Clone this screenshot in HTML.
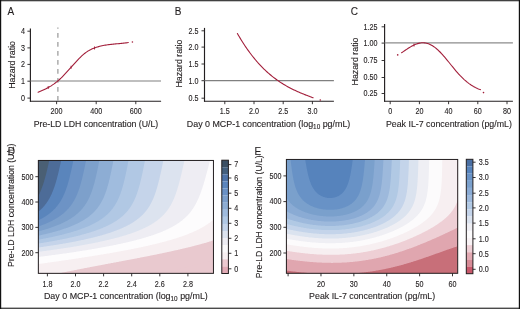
<!DOCTYPE html>
<html><head><meta charset="utf-8"><style>
html,body{margin:0;padding:0;background:#fff;}
body{width:520px;height:309px;overflow:hidden;}
svg{display:block;will-change:transform;}
text{font-family:'Liberation Sans',sans-serif;fill:#231f20;stroke:#231f20;stroke-width:0.12px;}
</style></head><body>
<svg width="520" height="309" viewBox="0 0 520 309">
<rect x="0" y="0" width="520" height="309" fill="#ffffff"/>
<text x="7.40" y="15.00" font-size="10.00">A</text>
<line x1="30.40" y1="28.50" x2="30.40" y2="101.70" stroke="#231f20" stroke-width="1.15"/>
<line x1="29.90" y1="101.20" x2="161.10" y2="101.20" stroke="#231f20" stroke-width="1.15"/>
<line x1="27.40" y1="98.10" x2="30.40" y2="98.10" stroke="#231f20" stroke-width="0.90"/>
<text x="25.00" y="100.95" font-size="8.20" text-anchor="end" textLength="4.0" lengthAdjust="spacingAndGlyphs">0</text>
<line x1="27.40" y1="81.20" x2="30.40" y2="81.20" stroke="#231f20" stroke-width="0.90"/>
<text x="25.00" y="84.05" font-size="8.20" text-anchor="end" textLength="4.0" lengthAdjust="spacingAndGlyphs">1</text>
<line x1="27.40" y1="64.40" x2="30.40" y2="64.40" stroke="#231f20" stroke-width="0.90"/>
<text x="25.00" y="67.25" font-size="8.20" text-anchor="end" textLength="4.0" lengthAdjust="spacingAndGlyphs">2</text>
<line x1="27.40" y1="47.90" x2="30.40" y2="47.90" stroke="#231f20" stroke-width="0.90"/>
<text x="25.00" y="50.75" font-size="8.20" text-anchor="end" textLength="4.0" lengthAdjust="spacingAndGlyphs">3</text>
<line x1="27.40" y1="31.20" x2="30.40" y2="31.20" stroke="#231f20" stroke-width="0.90"/>
<text x="25.00" y="34.05" font-size="8.20" text-anchor="end" textLength="4.0" lengthAdjust="spacingAndGlyphs">4</text>
<line x1="56.60" y1="101.20" x2="56.60" y2="104.20" stroke="#231f20" stroke-width="0.90"/>
<text x="56.60" y="113.80" font-size="8.20" text-anchor="middle" textLength="12.0" lengthAdjust="spacingAndGlyphs">200</text>
<line x1="96.20" y1="101.20" x2="96.20" y2="104.20" stroke="#231f20" stroke-width="0.90"/>
<text x="96.20" y="113.80" font-size="8.20" text-anchor="middle" textLength="12.0" lengthAdjust="spacingAndGlyphs">400</text>
<line x1="135.80" y1="101.20" x2="135.80" y2="104.20" stroke="#231f20" stroke-width="0.90"/>
<text x="135.80" y="113.80" font-size="8.20" text-anchor="middle" textLength="12.0" lengthAdjust="spacingAndGlyphs">600</text>
<line x1="30.40" y1="81.00" x2="161.00" y2="81.00" stroke="#808080" stroke-width="1.15"/>
<line x1="57.90" y1="27.60" x2="57.90" y2="101.00" stroke="#8f8f8f" stroke-width="1.10" stroke-dasharray="4.7 4.3" stroke-dashoffset="3.5"/>
<path d="M38.10 92.29 L39.24 91.80 L40.38 91.30 L41.53 90.79 L42.67 90.28 L43.81 89.75 L44.95 89.20 L46.09 88.64 L47.23 88.05 L48.38 87.43 L49.52 86.79 L50.66 86.12 L51.80 85.41 L52.94 84.66 L54.08 83.88 L55.23 83.04 L56.37 82.17 L57.51 81.24 L58.65 80.26 L59.79 79.23 L60.94 78.15 L62.08 77.03 L63.22 75.88 L64.36 74.69 L65.50 73.48 L66.64 72.24 L67.79 70.98 L68.93 69.71 L70.07 68.43 L71.21 67.14 L72.35 65.85 L73.49 64.57 L74.64 63.30 L75.78 62.04 L76.92 60.80 L78.06 59.59 L79.20 58.41 L80.35 57.27 L81.49 56.18 L82.63 55.13 L83.77 54.14 L84.91 53.22 L86.05 52.37 L87.20 51.59 L88.34 50.88 L89.48 50.23 L90.62 49.63 L91.76 49.09 L92.91 48.60 L94.05 48.14 L95.19 47.72 L96.33 47.33 L97.47 46.97 L98.61 46.64 L99.76 46.33 L100.90 46.05 L102.04 45.79 L103.18 45.55 L104.32 45.33 L105.46 45.13 L106.61 44.94 L107.75 44.78 L108.89 44.62 L110.03 44.48 L111.17 44.35 L112.32 44.22 L113.46 44.11 L114.60 44.00 L115.74 43.89 L116.88 43.79 L118.02 43.69 L119.17 43.59 L120.31 43.49 L121.45 43.38 L122.59 43.27 L123.73 43.15 L124.87 43.02 L126.02 42.88 L127.16 42.74 L128.30 42.58" fill="none" stroke="#a21e3a" stroke-width="1.10" stroke-linejoin="round" stroke-linecap="round"/>
<circle cx="132.40" cy="42.00" r="0.80" fill="#a21e3a"/>
<line x1="48.20" y1="86.03" x2="48.20" y2="89.03" stroke="#a21e3a" stroke-width="0.90"/>
<line x1="71.10" y1="65.77" x2="71.10" y2="68.77" stroke="#a21e3a" stroke-width="0.90"/>
<line x1="94.50" y1="46.47" x2="94.50" y2="49.47" stroke="#a21e3a" stroke-width="0.90"/>
<text x="33.70" y="127.20" font-size="9.20" textLength="124.6" lengthAdjust="spacingAndGlyphs">Pre-LD LDH concentration (U/L)</text>
<text transform="translate(14.60 64.90) rotate(-90)" x="0" y="0" font-size="9.20" text-anchor="middle" textLength="47.8" lengthAdjust="spacingAndGlyphs">Hazard ratio</text>
<text x="174.80" y="15.00" font-size="10.00">B</text>
<line x1="204.50" y1="27.90" x2="204.50" y2="101.70" stroke="#231f20" stroke-width="1.15"/>
<line x1="204.00" y1="101.20" x2="333.90" y2="101.20" stroke="#231f20" stroke-width="1.15"/>
<line x1="201.50" y1="98.20" x2="204.50" y2="98.20" stroke="#231f20" stroke-width="0.90"/>
<text x="198.60" y="101.05" font-size="8.20" text-anchor="end" textLength="10.0" lengthAdjust="spacingAndGlyphs">0.5</text>
<line x1="201.50" y1="80.70" x2="204.50" y2="80.70" stroke="#231f20" stroke-width="0.90"/>
<text x="198.60" y="83.55" font-size="8.20" text-anchor="end" textLength="10.0" lengthAdjust="spacingAndGlyphs">1.0</text>
<line x1="201.50" y1="64.00" x2="204.50" y2="64.00" stroke="#231f20" stroke-width="0.90"/>
<text x="198.60" y="66.85" font-size="8.20" text-anchor="end" textLength="10.0" lengthAdjust="spacingAndGlyphs">1.5</text>
<line x1="201.50" y1="47.10" x2="204.50" y2="47.10" stroke="#231f20" stroke-width="0.90"/>
<text x="198.60" y="49.95" font-size="8.20" text-anchor="end" textLength="10.0" lengthAdjust="spacingAndGlyphs">2.0</text>
<line x1="201.50" y1="30.80" x2="204.50" y2="30.80" stroke="#231f20" stroke-width="0.90"/>
<text x="198.60" y="33.65" font-size="8.20" text-anchor="end" textLength="10.0" lengthAdjust="spacingAndGlyphs">2.5</text>
<line x1="224.80" y1="101.20" x2="224.80" y2="104.20" stroke="#231f20" stroke-width="0.90"/>
<text x="224.80" y="113.80" font-size="8.20" text-anchor="middle" textLength="10.0" lengthAdjust="spacingAndGlyphs">1.5</text>
<line x1="254.00" y1="101.20" x2="254.00" y2="104.20" stroke="#231f20" stroke-width="0.90"/>
<text x="254.00" y="113.80" font-size="8.20" text-anchor="middle" textLength="10.0" lengthAdjust="spacingAndGlyphs">2.0</text>
<line x1="283.20" y1="101.20" x2="283.20" y2="104.20" stroke="#231f20" stroke-width="0.90"/>
<text x="283.20" y="113.80" font-size="8.20" text-anchor="middle" textLength="10.0" lengthAdjust="spacingAndGlyphs">2.5</text>
<line x1="312.40" y1="101.20" x2="312.40" y2="104.20" stroke="#231f20" stroke-width="0.90"/>
<text x="312.40" y="113.80" font-size="8.20" text-anchor="middle" textLength="10.0" lengthAdjust="spacingAndGlyphs">3.0</text>
<line x1="204.50" y1="80.60" x2="333.90" y2="80.60" stroke="#808080" stroke-width="1.15"/>
<path d="M237.40 33.49 L238.36 35.16 L239.32 36.79 L240.27 38.39 L241.23 39.96 L242.19 41.50 L243.15 43.01 L244.11 44.49 L245.07 45.94 L246.02 47.35 L246.98 48.74 L247.94 50.10 L248.90 51.44 L249.86 52.74 L250.82 54.02 L251.77 55.27 L252.73 56.50 L253.69 57.70 L254.65 58.87 L255.61 60.02 L256.56 61.14 L257.52 62.24 L258.48 63.31 L259.44 64.36 L260.40 65.39 L261.36 66.40 L262.31 67.38 L263.27 68.34 L264.23 69.28 L265.19 70.20 L266.15 71.10 L267.11 71.97 L268.06 72.83 L269.02 73.67 L269.98 74.49 L270.94 75.29 L271.90 76.07 L272.85 76.83 L273.81 77.58 L274.77 78.31 L275.73 79.02 L276.69 79.72 L277.65 80.40 L278.60 81.07 L279.56 81.72 L280.52 82.35 L281.48 82.97 L282.44 83.58 L283.39 84.17 L284.35 84.75 L285.31 85.32 L286.27 85.87 L287.23 86.41 L288.19 86.94 L289.14 87.46 L290.10 87.97 L291.06 88.46 L292.02 88.95 L292.98 89.43 L293.94 89.89 L294.89 90.35 L295.85 90.80 L296.81 91.24 L297.77 91.67 L298.73 92.09 L299.68 92.51 L300.64 92.92 L301.60 93.32 L302.56 93.72 L303.52 94.11 L304.48 94.49 L305.43 94.87 L306.39 95.24 L307.35 95.61 L308.31 95.98 L309.27 96.34 L310.23 96.70 L311.18 97.06 L312.14 97.41 L313.10 97.76" fill="none" stroke="#a21e3a" stroke-width="1.10" stroke-linejoin="round" stroke-linecap="round"/>
<circle cx="320.30" cy="100.00" r="0.80" fill="#a21e3a"/>
<text transform="translate(186.80 127.20) scale(0.9667 1)" x="0" y="0" font-size="9.20">Day 0 MCP-1 concentration (log<tspan font-size="6.60" dy="1.9">10</tspan><tspan dy="-1.9"> pg/mL)</tspan></text>
<text transform="translate(181.60 63.60) rotate(-90)" x="0" y="0" font-size="9.20" text-anchor="middle" textLength="47.8" lengthAdjust="spacingAndGlyphs">Hazard ratio</text>
<text x="350.70" y="15.00" font-size="10.00">C</text>
<line x1="384.60" y1="24.10" x2="384.60" y2="101.70" stroke="#231f20" stroke-width="1.15"/>
<line x1="384.10" y1="101.20" x2="512.90" y2="101.20" stroke="#231f20" stroke-width="1.15"/>
<line x1="381.60" y1="93.50" x2="384.60" y2="93.50" stroke="#231f20" stroke-width="0.90"/>
<text x="377.60" y="96.35" font-size="8.20" text-anchor="end" textLength="14.0" lengthAdjust="spacingAndGlyphs">0.25</text>
<line x1="381.60" y1="77.50" x2="384.60" y2="77.50" stroke="#231f20" stroke-width="0.90"/>
<text x="377.60" y="80.35" font-size="8.20" text-anchor="end" textLength="14.0" lengthAdjust="spacingAndGlyphs">0.50</text>
<line x1="381.60" y1="60.50" x2="384.60" y2="60.50" stroke="#231f20" stroke-width="0.90"/>
<text x="377.60" y="63.35" font-size="8.20" text-anchor="end" textLength="14.0" lengthAdjust="spacingAndGlyphs">0.75</text>
<line x1="381.60" y1="43.10" x2="384.60" y2="43.10" stroke="#231f20" stroke-width="0.90"/>
<text x="377.60" y="45.95" font-size="8.20" text-anchor="end" textLength="14.0" lengthAdjust="spacingAndGlyphs">1.00</text>
<line x1="381.60" y1="26.80" x2="384.60" y2="26.80" stroke="#231f20" stroke-width="0.90"/>
<text x="377.60" y="29.65" font-size="8.20" text-anchor="end" textLength="14.0" lengthAdjust="spacingAndGlyphs">1.25</text>
<line x1="390.20" y1="101.20" x2="390.20" y2="104.20" stroke="#231f20" stroke-width="0.90"/>
<text x="390.20" y="113.80" font-size="8.20" text-anchor="middle" textLength="4.0" lengthAdjust="spacingAndGlyphs">0</text>
<line x1="419.40" y1="101.20" x2="419.40" y2="104.20" stroke="#231f20" stroke-width="0.90"/>
<text x="419.40" y="113.80" font-size="8.20" text-anchor="middle" textLength="8.0" lengthAdjust="spacingAndGlyphs">20</text>
<line x1="448.60" y1="101.20" x2="448.60" y2="104.20" stroke="#231f20" stroke-width="0.90"/>
<text x="448.60" y="113.80" font-size="8.20" text-anchor="middle" textLength="8.0" lengthAdjust="spacingAndGlyphs">40</text>
<line x1="477.80" y1="101.20" x2="477.80" y2="104.20" stroke="#231f20" stroke-width="0.90"/>
<text x="477.80" y="113.80" font-size="8.20" text-anchor="middle" textLength="8.0" lengthAdjust="spacingAndGlyphs">60</text>
<line x1="507.00" y1="101.20" x2="507.00" y2="104.20" stroke="#231f20" stroke-width="0.90"/>
<text x="507.00" y="113.80" font-size="8.20" text-anchor="middle" textLength="8.0" lengthAdjust="spacingAndGlyphs">80</text>
<line x1="384.60" y1="42.90" x2="512.90" y2="42.90" stroke="#8c8c8c" stroke-width="1.15"/>
<path d="M401.60 52.79 L402.60 52.09 L403.59 51.40 L404.59 50.71 L405.59 50.02 L406.59 49.35 L407.58 48.70 L408.58 48.06 L409.58 47.44 L410.58 46.85 L411.57 46.28 L412.57 45.74 L413.57 45.24 L414.57 44.78 L415.56 44.35 L416.56 43.97 L417.56 43.63 L418.56 43.35 L419.55 43.11 L420.55 42.94 L421.55 42.82 L422.55 42.76 L423.54 42.77 L424.54 42.84 L425.54 42.99 L426.54 43.20 L427.53 43.47 L428.53 43.81 L429.53 44.22 L430.53 44.68 L431.52 45.21 L432.52 45.80 L433.52 46.44 L434.52 47.15 L435.51 47.91 L436.51 48.73 L437.51 49.60 L438.51 50.52 L439.50 51.49 L440.50 52.51 L441.50 53.57 L442.50 54.66 L443.49 55.79 L444.49 56.95 L445.49 58.13 L446.49 59.33 L447.48 60.54 L448.48 61.77 L449.48 63.01 L450.48 64.25 L451.47 65.48 L452.47 66.72 L453.47 67.94 L454.47 69.16 L455.46 70.35 L456.46 71.53 L457.46 72.68 L458.46 73.80 L459.45 74.89 L460.45 75.95 L461.45 76.96 L462.45 77.95 L463.44 78.89 L464.44 79.81 L465.44 80.68 L466.44 81.53 L467.43 82.33 L468.43 83.10 L469.43 83.84 L470.43 84.54 L471.42 85.21 L472.42 85.84 L473.42 86.43 L474.42 86.99 L475.41 87.52 L476.41 88.01 L477.41 88.47 L478.41 88.89 L479.40 89.27 L480.40 89.62" fill="none" stroke="#a21e3a" stroke-width="1.10" stroke-linejoin="round" stroke-linecap="round"/>
<circle cx="397.70" cy="54.90" r="0.80" fill="#a21e3a"/>
<circle cx="483.50" cy="92.60" r="0.80" fill="#a21e3a"/>
<line x1="414.00" y1="43.54" x2="414.00" y2="46.54" stroke="#a21e3a" stroke-width="0.90"/>
<text x="385.90" y="127.20" font-size="9.20" textLength="126.0" lengthAdjust="spacingAndGlyphs">Peak IL-7 concentration (pg/mL)</text>
<text transform="translate(358.40 61.50) rotate(-90)" x="0" y="0" font-size="9.20" text-anchor="middle" textLength="47.8" lengthAdjust="spacingAndGlyphs">Hazard ratio</text>
<g>
<rect x="38.4" y="160.4" width="175.1" height="112.9" fill="#e9c9cf"/>
<path d="M39.0 160.4L39.7 160.4L40.4 160.4L41.1 160.4L41.7 160.4L42.4 160.4L43.1 160.4L43.8 160.4L44.4 160.4L45.1 160.4L45.8 160.4L46.5 160.4L47.1 160.4L47.8 160.4L48.5 160.4L49.2 160.4L49.8 160.4L50.5 160.4L51.2 160.4L51.9 160.4L52.5 160.4L53.2 160.4L53.9 160.4L54.6 160.4L55.3 160.4L55.9 160.4L56.6 160.4L57.3 160.4L58.0 160.4L58.6 160.4L59.3 160.4L60.0 160.4L60.7 160.4L61.3 160.4L62.0 160.4L62.7 160.4L63.4 160.4L64.0 160.4L64.7 160.4L65.4 160.4L66.1 160.4L66.7 160.4L67.4 160.4L68.1 160.4L68.8 160.4L69.4 160.4L70.1 160.4L70.8 160.4L71.5 160.4L72.2 160.4L72.8 160.4L73.5 160.4L74.2 160.4L74.9 160.4L75.5 160.4L76.2 160.4L76.9 160.4L77.6 160.4L78.2 160.4L78.9 160.4L79.6 160.4L80.3 160.4L80.9 160.4L81.6 160.4L82.3 160.4L83.0 160.4L83.6 160.4L84.3 160.4L85.0 160.4L85.7 160.4L86.4 160.4L87.0 160.4L87.7 160.4L88.4 160.4L89.1 160.4L89.7 160.4L90.4 160.4L91.1 160.4L91.8 160.4L92.4 160.4L93.1 160.4L93.8 160.4L94.5 160.4L95.1 160.4L95.8 160.4L96.5 160.4L97.2 160.4L97.8 160.4L98.5 160.4L99.2 160.4L99.9 160.4L100.5 160.4L101.2 160.4L101.9 160.4L102.6 160.4L103.3 160.4L103.9 160.4L104.6 160.4L105.3 160.4L106.0 160.4L106.6 160.4L107.3 160.4L108.0 160.4L108.7 160.4L109.3 160.4L110.0 160.4L110.7 160.4L111.4 160.4L112.0 160.4L112.7 160.4L113.4 160.4L114.1 160.4L114.7 160.4L115.4 160.4L116.1 160.4L116.8 160.4L117.4 160.4L118.1 160.4L118.8 160.4L119.5 160.4L120.2 160.4L120.8 160.4L121.5 160.4L122.2 160.4L122.9 160.4L123.5 160.4L124.2 160.4L124.9 160.4L125.6 160.4L126.2 160.4L126.9 160.4L127.6 160.4L128.3 160.4L128.9 160.4L129.6 160.4L130.3 160.4L131.0 160.4L131.6 160.4L132.3 160.4L133.0 160.4L133.7 160.4L134.4 160.4L135.0 160.4L135.7 160.4L136.4 160.4L137.1 160.4L137.7 160.4L138.4 160.4L139.1 160.4L139.8 160.4L140.4 160.4L141.1 160.4L141.8 160.4L142.5 160.4L143.1 160.4L143.8 160.4L144.5 160.4L145.2 160.4L145.8 160.4L146.5 160.4L147.2 160.4L147.9 160.4L148.5 160.4L149.2 160.4L149.9 160.4L150.6 160.4L151.3 160.4L151.9 160.4L152.6 160.4L153.3 160.4L154.0 160.4L154.6 160.4L155.3 160.4L156.0 160.4L156.7 160.4L157.3 160.4L158.0 160.4L158.7 160.4L159.4 160.4L160.0 160.4L160.7 160.4L161.4 160.4L162.1 160.4L162.7 160.4L163.4 160.4L164.1 160.4L164.8 160.4L165.4 160.4L166.1 160.4L166.8 160.4L167.5 160.4L168.2 160.4L168.8 160.4L169.5 160.4L170.2 160.4L170.9 160.4L171.5 160.4L172.2 160.4L172.9 160.4L173.6 160.4L174.2 160.4L174.9 160.4L175.6 160.4L176.3 160.4L176.9 160.4L177.6 160.4L178.3 160.4L179.0 160.4L179.6 160.4L180.3 160.4L181.0 160.4L181.7 160.4L182.4 160.4L183.0 160.4L183.7 160.4L184.4 160.4L185.1 160.4L185.7 160.4L186.4 160.4L187.1 160.4L187.8 160.4L188.4 160.4L189.1 160.4L189.8 160.4L190.5 160.4L191.1 160.4L191.8 160.4L192.5 160.4L193.2 160.4L193.8 160.4L194.5 160.4L195.2 160.4L195.9 160.4L196.5 160.4L197.2 160.4L197.9 160.4L198.6 160.4L199.3 160.4L199.9 160.4L200.6 160.4L201.3 160.4L202.0 160.4L202.6 160.4L203.3 160.4L204.0 160.4L204.7 160.4L205.3 160.4L206.0 160.4L206.7 160.4L207.4 160.4L208.0 160.4L208.7 160.4L209.4 160.4L210.1 160.4L210.7 160.4L211.4 160.4L212.1 160.4L212.8 160.4L213.4 160.4L213.4 161.1L213.4 161.7L213.4 162.3L213.4 163.0L213.4 163.6L213.4 164.2L213.4 164.9L213.4 165.5L213.4 166.1L213.4 166.8L213.4 167.4L213.4 168.0L213.4 168.6L213.4 169.3L213.4 169.9L213.4 170.5L213.4 171.2L213.4 171.8L213.4 172.4L213.4 173.1L213.4 173.7L213.4 174.3L213.4 175.0L213.4 175.6L213.4 176.2L213.4 176.8L213.4 177.5L213.4 178.1L213.4 178.7L213.4 179.4L213.4 180.0L213.4 180.6L213.4 181.3L213.4 181.9L213.4 182.5L213.4 183.2L213.4 183.8L213.4 184.4L213.4 185.0L213.4 185.7L213.4 186.3L213.4 186.9L213.4 187.6L213.4 188.2L213.4 188.8L213.4 189.5L213.4 190.1L213.4 190.7L213.4 191.4L213.4 192.0L213.4 192.6L213.4 193.2L213.4 193.9L213.4 194.5L213.4 195.1L213.4 195.8L213.4 196.4L213.4 197.0L213.4 197.7L213.4 198.3L213.4 198.9L213.4 199.6L213.4 200.2L213.4 200.8L213.4 201.4L213.4 202.1L213.4 202.7L213.4 203.3L213.4 204.0L213.4 204.6L213.4 205.2L213.4 205.9L213.4 206.5L213.4 207.1L213.4 207.8L213.4 208.4L213.4 209.0L213.4 209.6L213.4 210.3L213.4 210.9L213.4 211.5L213.4 212.2L213.4 212.8L213.4 213.4L213.4 214.1L213.4 214.7L213.4 215.3L213.4 216.0L213.4 216.6L213.4 217.2L213.4 217.8L213.4 218.5L213.4 219.1L213.4 219.7L213.4 220.4L213.4 221.0L213.4 221.6L213.4 222.3L213.4 222.9L213.4 223.5L213.4 224.2L213.4 224.8L213.4 225.4L213.4 226.0L213.4 226.7L213.4 227.3L213.4 227.9L213.4 228.6L213.4 229.2L213.4 229.8L213.4 230.5L213.4 231.1L213.4 231.7L213.4 232.4L213.4 233.0L213.4 233.6L213.4 234.2L213.4 234.9L213.4 235.5L213.4 236.1L213.4 236.8L213.4 237.4L213.4 238.0L213.4 238.7L213.4 239.3L213.4 239.9L213.4 240.6L213.4 241.2L213.4 241.8L213.4 242.4L213.4 243.1L213.4 243.7L213.4 244.3L213.4 245.0L213.4 245.6L213.4 246.2L213.4 246.9L213.4 247.5L213.4 248.1L213.4 248.8L213.4 249.4L213.4 250.0L213.4 250.6L213.4 251.3L213.4 251.9L213.4 252.5L213.4 253.2L213.4 253.8L213.4 254.4L213.4 255.1L213.4 255.7L213.4 256.3L213.4 257.0L213.4 257.6L213.4 258.2L213.4 258.8L213.4 259.5L213.4 260.1L213.4 260.2L212.8 260.3L212.1 260.5L211.4 260.7L211.2 260.7L210.7 260.8L210.1 261.0L209.4 261.2L208.7 261.4L208.7 261.4L208.0 261.5L207.4 261.7L206.7 261.9L206.2 262.0L206.0 262.0L205.3 262.2L204.7 262.4L204.0 262.6L203.7 262.6L203.3 262.7L202.6 262.9L202.0 263.1L201.3 263.2L201.2 263.3L200.6 263.4L199.9 263.6L199.3 263.8L198.8 263.9L198.6 263.9L197.9 264.1L197.2 264.3L196.5 264.5L196.4 264.5L195.9 264.7L195.2 264.8L194.5 265.0L194.0 265.2L193.8 265.2L193.2 265.4L192.5 265.5L191.8 265.7L191.6 265.8L191.1 265.9L190.5 266.1L189.8 266.3L189.3 266.4L189.1 266.5L188.4 266.6L187.8 266.8L187.1 267.0L186.9 267.0L186.4 267.2L185.7 267.4L185.1 267.6L184.6 267.7L184.4 267.7L183.7 267.9L183.0 268.1L182.4 268.3L182.4 268.3L181.7 268.5L181.0 268.7L180.3 268.9L180.1 268.9L179.6 269.1L179.0 269.3L178.3 269.5L177.9 269.6L177.6 269.7L176.9 269.9L176.3 270.1L175.8 270.2L175.6 270.3L174.9 270.5L174.2 270.7L173.6 270.8L173.6 270.9L172.9 271.1L172.2 271.3L171.5 271.5L171.5 271.5L170.9 271.7L170.2 271.9L169.5 272.1L169.5 272.1L168.8 272.3L168.2 272.5L167.5 272.7L167.4 272.7L166.8 272.9L166.1 273.1L165.4 273.3L165.4 273.4L164.8 273.4L164.1 273.4L163.4 273.4L162.7 273.4L162.1 273.4L161.4 273.4L160.7 273.4L160.0 273.4L159.4 273.4L158.7 273.4L158.0 273.4L157.3 273.4L156.7 273.4L156.0 273.4L155.3 273.4L154.6 273.4L154.0 273.4L153.3 273.4L152.6 273.4L151.9 273.4L151.3 273.4L150.6 273.4L149.9 273.4L149.2 273.4L148.5 273.4L147.9 273.4L147.2 273.4L146.5 273.4L145.8 273.4L145.2 273.4L144.5 273.4L143.8 273.4L143.1 273.4L142.5 273.4L141.8 273.4L141.1 273.4L140.4 273.4L139.8 273.4L139.1 273.4L138.4 273.4L137.7 273.4L137.1 273.4L136.4 273.4L135.7 273.4L135.0 273.4L134.4 273.4L133.7 273.4L133.0 273.4L132.3 273.4L131.6 273.4L131.0 273.4L130.3 273.4L129.6 273.4L128.9 273.4L128.3 273.4L127.6 273.4L126.9 273.4L126.2 273.4L125.6 273.4L124.9 273.4L124.2 273.4L123.5 273.4L122.9 273.4L122.2 273.4L121.5 273.4L120.8 273.4L120.2 273.4L119.5 273.4L118.8 273.4L118.1 273.4L117.4 273.4L116.8 273.4L116.1 273.4L115.4 273.4L114.7 273.4L114.1 273.4L113.4 273.4L112.7 273.4L112.0 273.4L111.4 273.4L110.7 273.4L110.0 273.4L109.3 273.4L108.7 273.4L108.0 273.4L107.3 273.4L106.6 273.4L106.0 273.4L105.3 273.4L104.6 273.4L103.9 273.4L103.3 273.4L102.6 273.4L101.9 273.4L101.2 273.4L100.5 273.4L99.9 273.4L99.2 273.4L98.5 273.4L97.8 273.4L97.2 273.4L96.5 273.4L95.8 273.4L95.1 273.4L94.5 273.4L93.8 273.4L93.1 273.4L92.4 273.4L91.8 273.4L91.1 273.4L90.4 273.4L89.7 273.4L89.1 273.4L88.4 273.4L87.7 273.4L87.0 273.4L86.4 273.4L85.7 273.4L85.0 273.4L84.3 273.4L83.6 273.4L83.0 273.4L82.3 273.4L81.6 273.4L80.9 273.4L80.3 273.4L79.6 273.4L78.9 273.4L78.2 273.4L77.6 273.4L76.9 273.4L76.2 273.4L75.5 273.4L74.9 273.4L74.2 273.4L73.5 273.4L72.8 273.4L72.2 273.4L71.5 273.4L70.8 273.4L70.1 273.4L69.4 273.4L68.8 273.4L68.1 273.4L67.4 273.4L66.7 273.4L66.1 273.4L65.4 273.4L64.7 273.4L64.0 273.4L63.4 273.4L62.7 273.4L62.0 273.4L61.3 273.4L60.7 273.4L60.0 273.4L59.3 273.4L58.6 273.4L58.0 273.4L57.3 273.4L56.6 273.4L55.9 273.4L55.3 273.4L54.6 273.4L53.9 273.4L53.2 273.4L52.5 273.4L51.9 273.4L51.2 273.4L50.5 273.4L49.8 273.4L49.2 273.4L48.5 273.4L47.8 273.4L47.1 273.4L46.5 273.4L45.8 273.4L45.1 273.4L44.4 273.4L43.8 273.4L43.1 273.4L42.4 273.4L41.7 273.4L41.1 273.4L40.4 273.4L39.7 273.4L39.0 273.4L38.4 273.4L38.4 272.7L38.4 272.1L38.4 271.5L38.4 270.8L38.4 270.2L38.4 269.6L38.4 268.9L38.4 268.3L38.4 267.7L38.4 267.0L38.4 266.4L38.4 265.8L38.4 265.2L38.4 264.5L38.4 263.9L38.4 263.3L38.4 262.6L38.4 262.0L38.4 261.4L38.4 260.7L38.4 260.1L38.4 259.5L38.4 258.8L38.4 258.2L38.4 257.6L38.4 257.0L38.4 256.3L38.4 255.7L38.4 255.1L38.4 254.4L38.4 253.8L38.4 253.2L38.4 252.5L38.4 251.9L38.4 251.3L38.4 250.6L38.4 250.0L38.4 249.4L38.4 248.8L38.4 248.1L38.4 247.5L38.4 246.9L38.4 246.2L38.4 245.6L38.4 245.0L38.4 244.3L38.4 243.7L38.4 243.1L38.4 242.4L38.4 241.8L38.4 241.2L38.4 240.6L38.4 239.9L38.4 239.3L38.4 238.7L38.4 238.0L38.4 237.4L38.4 236.8L38.4 236.1L38.4 235.5L38.4 234.9L38.4 234.2L38.4 233.6L38.4 233.0L38.4 232.4L38.4 231.7L38.4 231.1L38.4 230.5L38.4 229.8L38.4 229.2L38.4 228.6L38.4 227.9L38.4 227.3L38.4 226.7L38.4 226.0L38.4 225.4L38.4 224.8L38.4 224.2L38.4 223.5L38.4 222.9L38.4 222.3L38.4 221.6L38.4 221.0L38.4 220.4L38.4 219.7L38.4 219.1L38.4 218.5L38.4 217.8L38.4 217.2L38.4 216.6L38.4 216.0L38.4 215.3L38.4 214.7L38.4 214.1L38.4 213.4L38.4 212.8L38.4 212.2L38.4 211.5L38.4 210.9L38.4 210.3L38.4 209.6L38.4 209.0L38.4 208.4L38.4 207.8L38.4 207.1L38.4 206.5L38.4 205.9L38.4 205.2L38.4 204.6L38.4 204.0L38.4 203.3L38.4 202.7L38.4 202.1L38.4 201.4L38.4 200.8L38.4 200.2L38.4 199.6L38.4 198.9L38.4 198.3L38.4 197.7L38.4 197.0L38.4 196.4L38.4 195.8L38.4 195.1L38.4 194.5L38.4 193.9L38.4 193.2L38.4 192.6L38.4 192.0L38.4 191.4L38.4 190.7L38.4 190.1L38.4 189.5L38.4 188.8L38.4 188.2L38.4 187.6L38.4 186.9L38.4 186.3L38.4 185.7L38.4 185.0L38.4 184.4L38.4 183.8L38.4 183.2L38.4 182.5L38.4 181.9L38.4 181.3L38.4 180.6L38.4 180.0L38.4 179.4L38.4 178.7L38.4 178.1L38.4 177.5L38.4 176.8L38.4 176.2L38.4 175.6L38.4 175.0L38.4 174.3L38.4 173.7L38.4 173.1L38.4 172.4L38.4 171.8L38.4 171.2L38.4 170.5L38.4 169.9L38.4 169.3L38.4 168.6L38.4 168.0L38.4 167.4L38.4 166.8L38.4 166.1L38.4 165.5L38.4 164.9L38.4 164.2L38.4 163.6L38.4 163.0L38.4 162.3L38.4 161.7L38.4 161.1L38.4 160.4Z" fill="#e9c9cf"/>
<path d="M39.0 160.4L39.7 160.4L40.4 160.4L41.1 160.4L41.7 160.4L42.4 160.4L43.1 160.4L43.8 160.4L44.4 160.4L45.1 160.4L45.8 160.4L46.5 160.4L47.1 160.4L47.8 160.4L48.5 160.4L49.2 160.4L49.8 160.4L50.5 160.4L51.2 160.4L51.9 160.4L52.5 160.4L53.2 160.4L53.9 160.4L54.6 160.4L55.3 160.4L55.9 160.4L56.6 160.4L57.3 160.4L58.0 160.4L58.6 160.4L59.3 160.4L60.0 160.4L60.7 160.4L61.3 160.4L62.0 160.4L62.7 160.4L63.4 160.4L64.0 160.4L64.7 160.4L65.4 160.4L66.1 160.4L66.7 160.4L67.4 160.4L68.1 160.4L68.8 160.4L69.4 160.4L70.1 160.4L70.8 160.4L71.5 160.4L72.2 160.4L72.8 160.4L73.5 160.4L74.2 160.4L74.9 160.4L75.5 160.4L76.2 160.4L76.9 160.4L77.6 160.4L78.2 160.4L78.9 160.4L79.6 160.4L80.3 160.4L80.9 160.4L81.6 160.4L82.3 160.4L83.0 160.4L83.6 160.4L84.3 160.4L85.0 160.4L85.7 160.4L86.4 160.4L87.0 160.4L87.7 160.4L88.4 160.4L89.1 160.4L89.7 160.4L90.4 160.4L91.1 160.4L91.8 160.4L92.4 160.4L93.1 160.4L93.8 160.4L94.5 160.4L95.1 160.4L95.8 160.4L96.5 160.4L97.2 160.4L97.8 160.4L98.5 160.4L99.2 160.4L99.9 160.4L100.5 160.4L101.2 160.4L101.9 160.4L102.6 160.4L103.3 160.4L103.9 160.4L104.6 160.4L105.3 160.4L106.0 160.4L106.6 160.4L107.3 160.4L108.0 160.4L108.7 160.4L109.3 160.4L110.0 160.4L110.7 160.4L111.4 160.4L112.0 160.4L112.7 160.4L113.4 160.4L114.1 160.4L114.7 160.4L115.4 160.4L116.1 160.4L116.8 160.4L117.4 160.4L118.1 160.4L118.8 160.4L119.5 160.4L120.2 160.4L120.8 160.4L121.5 160.4L122.2 160.4L122.9 160.4L123.5 160.4L124.2 160.4L124.9 160.4L125.6 160.4L126.2 160.4L126.9 160.4L127.6 160.4L128.3 160.4L128.9 160.4L129.6 160.4L130.3 160.4L131.0 160.4L131.6 160.4L132.3 160.4L133.0 160.4L133.7 160.4L134.4 160.4L135.0 160.4L135.7 160.4L136.4 160.4L137.1 160.4L137.7 160.4L138.4 160.4L139.1 160.4L139.8 160.4L140.4 160.4L141.1 160.4L141.8 160.4L142.5 160.4L143.1 160.4L143.8 160.4L144.5 160.4L145.2 160.4L145.8 160.4L146.5 160.4L147.2 160.4L147.9 160.4L148.5 160.4L149.2 160.4L149.9 160.4L150.6 160.4L151.3 160.4L151.9 160.4L152.6 160.4L153.3 160.4L154.0 160.4L154.6 160.4L155.3 160.4L156.0 160.4L156.7 160.4L157.3 160.4L158.0 160.4L158.7 160.4L159.4 160.4L160.0 160.4L160.7 160.4L161.4 160.4L162.1 160.4L162.7 160.4L163.4 160.4L164.1 160.4L164.8 160.4L165.4 160.4L166.1 160.4L166.8 160.4L167.5 160.4L168.2 160.4L168.8 160.4L169.5 160.4L170.2 160.4L170.9 160.4L171.5 160.4L172.2 160.4L172.9 160.4L173.6 160.4L174.2 160.4L174.9 160.4L175.6 160.4L176.3 160.4L176.9 160.4L177.6 160.4L178.3 160.4L179.0 160.4L179.6 160.4L180.3 160.4L181.0 160.4L181.7 160.4L182.4 160.4L183.0 160.4L183.7 160.4L184.4 160.4L185.1 160.4L185.7 160.4L186.4 160.4L187.1 160.4L187.8 160.4L188.4 160.4L189.1 160.4L189.8 160.4L190.5 160.4L191.1 160.4L191.8 160.4L192.5 160.4L193.2 160.4L193.8 160.4L194.5 160.4L195.2 160.4L195.9 160.4L196.5 160.4L197.2 160.4L197.9 160.4L198.6 160.4L199.3 160.4L199.9 160.4L200.6 160.4L201.3 160.4L202.0 160.4L202.6 160.4L203.3 160.4L204.0 160.4L204.7 160.4L205.3 160.4L206.0 160.4L206.7 160.4L207.4 160.4L208.0 160.4L208.7 160.4L209.4 160.4L210.1 160.4L210.7 160.4L211.4 160.4L212.1 160.4L212.8 160.4L213.4 160.4L213.4 161.1L213.4 161.7L213.4 162.3L213.4 163.0L213.4 163.6L213.4 164.2L213.4 164.9L213.4 165.5L213.4 166.1L213.4 166.8L213.4 167.4L213.4 168.0L213.4 168.6L213.4 169.3L213.4 169.9L213.4 170.5L213.4 171.2L213.4 171.8L213.4 172.4L213.4 173.1L213.4 173.7L213.4 174.3L213.4 175.0L213.4 175.6L213.4 176.2L213.4 176.8L213.4 177.5L213.4 178.1L213.4 178.7L213.4 179.4L213.4 180.0L213.4 180.6L213.4 181.3L213.4 181.9L213.4 182.5L213.4 183.2L213.4 183.8L213.4 184.4L213.4 185.0L213.4 185.7L213.4 186.3L213.4 186.9L213.4 187.6L213.4 188.2L213.4 188.8L213.4 189.5L213.4 190.1L213.4 190.7L213.4 191.4L213.4 192.0L213.4 192.6L213.4 193.2L213.4 193.9L213.4 194.5L213.4 195.1L213.4 195.8L213.4 196.4L213.4 197.0L213.4 197.7L213.4 198.3L213.4 198.9L213.4 199.6L213.4 200.2L213.4 200.8L213.4 201.4L213.4 202.1L213.4 202.7L213.4 203.3L213.4 204.0L213.4 204.6L213.4 205.2L213.4 205.9L213.4 206.5L213.4 207.1L213.4 207.8L213.4 208.4L213.4 209.0L213.4 209.6L213.4 210.3L213.4 210.9L213.4 211.5L213.4 212.2L213.4 212.8L213.4 213.4L213.4 214.1L213.4 214.7L213.4 215.3L213.4 216.0L213.4 216.6L213.4 217.2L213.4 217.8L213.4 218.5L213.4 219.1L213.4 219.7L213.4 220.4L213.4 221.0L213.4 221.6L213.4 222.3L213.4 222.9L213.4 223.5L213.4 224.2L213.4 224.8L213.4 225.4L213.4 226.0L213.4 226.7L213.4 227.3L213.4 227.9L213.4 228.6L213.4 229.2L213.4 229.8L213.4 230.5L213.4 231.1L213.4 231.7L213.4 232.4L213.4 233.0L213.4 233.6L213.4 234.2L213.4 234.9L213.4 235.5L213.4 236.1L213.4 236.8L213.4 237.4L213.4 238.0L213.4 238.7L213.4 239.3L213.4 239.9L213.4 240.4L212.9 240.6L212.8 240.6L212.1 240.8L211.4 241.0L210.9 241.2L210.7 241.2L210.1 241.4L209.4 241.6L208.9 241.8L208.7 241.9L208.0 242.1L207.4 242.3L206.7 242.4L206.7 242.5L206.0 242.7L205.3 242.9L204.7 243.0L204.6 243.1L204.0 243.2L203.3 243.4L202.6 243.6L202.3 243.7L202.0 243.8L201.3 244.0L200.6 244.2L200.0 244.3L199.9 244.4L199.3 244.6L198.6 244.7L197.9 244.9L197.7 245.0L197.2 245.1L196.5 245.3L195.9 245.5L195.3 245.6L195.2 245.6L194.5 245.8L193.8 246.0L193.2 246.2L192.9 246.2L192.5 246.3L191.8 246.5L191.1 246.7L190.5 246.8L190.4 246.9L189.8 247.0L189.1 247.2L188.4 247.3L187.8 247.5L187.8 247.5L187.1 247.7L186.4 247.8L185.7 248.0L185.2 248.1L185.1 248.2L184.4 248.3L183.7 248.5L183.0 248.6L182.5 248.8L182.4 248.8L181.7 249.0L181.0 249.1L180.3 249.3L179.8 249.4L179.6 249.4L179.0 249.6L178.3 249.7L177.6 249.9L177.1 250.0L176.9 250.0L176.3 250.2L175.6 250.3L174.9 250.5L174.3 250.6L174.2 250.6L173.6 250.8L172.9 251.0L172.2 251.1L171.5 251.2L171.4 251.3L170.9 251.4L170.2 251.5L169.5 251.7L168.8 251.8L168.5 251.9L168.2 252.0L167.5 252.1L166.8 252.3L166.1 252.4L165.6 252.5L165.4 252.6L164.8 252.7L164.1 252.8L163.4 253.0L162.7 253.1L162.6 253.2L162.1 253.3L161.4 253.4L160.7 253.6L160.0 253.7L159.5 253.8L159.4 253.8L158.7 254.0L158.0 254.1L157.3 254.2L156.7 254.4L156.4 254.4L156.0 254.5L155.3 254.7L154.6 254.8L154.0 254.9L153.3 255.1L153.3 255.1L152.6 255.2L151.9 255.3L151.3 255.5L150.6 255.6L150.2 255.7L149.9 255.7L149.2 255.9L148.5 256.0L147.9 256.2L147.2 256.3L147.0 256.3L146.5 256.4L145.8 256.6L145.2 256.7L144.5 256.8L143.8 256.9L143.8 257.0L143.1 257.1L142.5 257.2L141.8 257.3L141.1 257.5L140.6 257.6L140.4 257.6L139.8 257.7L139.1 257.9L138.4 258.0L137.7 258.1L137.3 258.2L137.1 258.3L136.4 258.4L135.7 258.5L135.0 258.7L134.4 258.8L134.0 258.8L133.7 258.9L133.0 259.0L132.3 259.2L131.6 259.3L131.0 259.4L130.7 259.5L130.3 259.6L129.6 259.7L128.9 259.8L128.3 259.9L127.6 260.1L127.4 260.1L126.9 260.2L126.2 260.3L125.6 260.5L124.9 260.6L124.2 260.7L124.1 260.7L123.5 260.8L122.9 261.0L122.2 261.1L121.5 261.2L120.8 261.3L120.7 261.4L120.2 261.5L119.5 261.6L118.8 261.7L118.1 261.9L117.4 262.0L117.4 262.0L116.8 262.1L116.1 262.2L115.4 262.4L114.7 262.5L114.1 262.6L114.0 262.6L113.4 262.7L112.7 262.9L112.0 263.0L111.4 263.1L110.7 263.3L110.6 263.3L110.0 263.4L109.3 263.5L108.7 263.6L108.0 263.8L107.3 263.9L107.3 263.9L106.6 264.0L106.0 264.1L105.3 264.3L104.6 264.4L103.9 264.5L103.9 264.5L103.3 264.7L102.6 264.8L101.9 264.9L101.2 265.0L100.6 265.2L100.5 265.2L99.9 265.3L99.2 265.4L98.5 265.5L97.8 265.7L97.3 265.8L97.2 265.8L96.5 265.9L95.8 266.1L95.1 266.2L94.5 266.3L94.0 266.4L93.8 266.4L93.1 266.6L92.4 266.7L91.8 266.8L91.1 267.0L90.7 267.0L90.4 267.1L89.7 267.2L89.1 267.4L88.4 267.5L87.7 267.6L87.4 267.7L87.0 267.7L86.4 267.9L85.7 268.0L85.0 268.1L84.3 268.3L84.1 268.3L83.6 268.4L83.0 268.5L82.3 268.7L81.6 268.8L80.9 268.9L80.9 268.9L80.3 269.1L79.6 269.2L78.9 269.3L78.2 269.5L77.7 269.6L77.6 269.6L76.9 269.7L76.2 269.9L75.5 270.0L74.9 270.1L74.5 270.2L74.2 270.3L73.5 270.4L72.8 270.5L72.2 270.7L71.5 270.8L71.3 270.8L70.8 270.9L70.1 271.1L69.4 271.2L68.8 271.3L68.2 271.5L68.1 271.5L67.4 271.6L66.7 271.8L66.1 271.9L65.4 272.0L65.1 272.1L64.7 272.2L64.0 272.3L63.4 272.5L62.7 272.6L62.0 272.7L62.0 272.7L61.3 272.9L60.7 273.0L60.0 273.2L59.3 273.3L59.0 273.4L58.6 273.4L58.0 273.4L57.3 273.4L56.6 273.4L55.9 273.4L55.3 273.4L54.6 273.4L53.9 273.4L53.2 273.4L52.5 273.4L51.9 273.4L51.2 273.4L50.5 273.4L49.8 273.4L49.2 273.4L48.5 273.4L47.8 273.4L47.1 273.4L46.5 273.4L45.8 273.4L45.1 273.4L44.4 273.4L43.8 273.4L43.1 273.4L42.4 273.4L41.7 273.4L41.1 273.4L40.4 273.4L39.7 273.4L39.0 273.4L38.4 273.4L38.4 272.7L38.4 272.1L38.4 271.5L38.4 270.8L38.4 270.2L38.4 269.6L38.4 268.9L38.4 268.3L38.4 267.7L38.4 267.0L38.4 266.4L38.4 265.8L38.4 265.2L38.4 264.5L38.4 263.9L38.4 263.3L38.4 262.6L38.4 262.0L38.4 261.4L38.4 260.7L38.4 260.1L38.4 259.5L38.4 258.8L38.4 258.2L38.4 257.6L38.4 257.0L38.4 256.3L38.4 255.7L38.4 255.1L38.4 254.4L38.4 253.8L38.4 253.2L38.4 252.5L38.4 251.9L38.4 251.3L38.4 250.6L38.4 250.0L38.4 249.4L38.4 248.8L38.4 248.1L38.4 247.5L38.4 246.9L38.4 246.2L38.4 245.6L38.4 245.0L38.4 244.3L38.4 243.7L38.4 243.1L38.4 242.4L38.4 241.8L38.4 241.2L38.4 240.6L38.4 239.9L38.4 239.3L38.4 238.7L38.4 238.0L38.4 237.4L38.4 236.8L38.4 236.1L38.4 235.5L38.4 234.9L38.4 234.2L38.4 233.6L38.4 233.0L38.4 232.4L38.4 231.7L38.4 231.1L38.4 230.5L38.4 229.8L38.4 229.2L38.4 228.6L38.4 227.9L38.4 227.3L38.4 226.7L38.4 226.0L38.4 225.4L38.4 224.8L38.4 224.2L38.4 223.5L38.4 222.9L38.4 222.3L38.4 221.6L38.4 221.0L38.4 220.4L38.4 219.7L38.4 219.1L38.4 218.5L38.4 217.8L38.4 217.2L38.4 216.6L38.4 216.0L38.4 215.3L38.4 214.7L38.4 214.1L38.4 213.4L38.4 212.8L38.4 212.2L38.4 211.5L38.4 210.9L38.4 210.3L38.4 209.6L38.4 209.0L38.4 208.4L38.4 207.8L38.4 207.1L38.4 206.5L38.4 205.9L38.4 205.2L38.4 204.6L38.4 204.0L38.4 203.3L38.4 202.7L38.4 202.1L38.4 201.4L38.4 200.8L38.4 200.2L38.4 199.6L38.4 198.9L38.4 198.3L38.4 197.7L38.4 197.0L38.4 196.4L38.4 195.8L38.4 195.1L38.4 194.5L38.4 193.9L38.4 193.2L38.4 192.6L38.4 192.0L38.4 191.4L38.4 190.7L38.4 190.1L38.4 189.5L38.4 188.8L38.4 188.2L38.4 187.6L38.4 186.9L38.4 186.3L38.4 185.7L38.4 185.0L38.4 184.4L38.4 183.8L38.4 183.2L38.4 182.5L38.4 181.9L38.4 181.3L38.4 180.6L38.4 180.0L38.4 179.4L38.4 178.7L38.4 178.1L38.4 177.5L38.4 176.8L38.4 176.2L38.4 175.6L38.4 175.0L38.4 174.3L38.4 173.7L38.4 173.1L38.4 172.4L38.4 171.8L38.4 171.2L38.4 170.5L38.4 169.9L38.4 169.3L38.4 168.6L38.4 168.0L38.4 167.4L38.4 166.8L38.4 166.1L38.4 165.5L38.4 164.9L38.4 164.2L38.4 163.6L38.4 163.0L38.4 162.3L38.4 161.7L38.4 161.1L38.4 160.4Z" fill="#f7eff1"/>
<path d="M39.0 160.4L39.7 160.4L40.4 160.4L41.1 160.4L41.7 160.4L42.4 160.4L43.1 160.4L43.8 160.4L44.4 160.4L45.1 160.4L45.8 160.4L46.5 160.4L47.1 160.4L47.8 160.4L48.5 160.4L49.2 160.4L49.8 160.4L50.5 160.4L51.2 160.4L51.9 160.4L52.5 160.4L53.2 160.4L53.9 160.4L54.6 160.4L55.3 160.4L55.9 160.4L56.6 160.4L57.3 160.4L58.0 160.4L58.6 160.4L59.3 160.4L60.0 160.4L60.7 160.4L61.3 160.4L62.0 160.4L62.7 160.4L63.4 160.4L64.0 160.4L64.7 160.4L65.4 160.4L66.1 160.4L66.7 160.4L67.4 160.4L68.1 160.4L68.8 160.4L69.4 160.4L70.1 160.4L70.8 160.4L71.5 160.4L72.2 160.4L72.8 160.4L73.5 160.4L74.2 160.4L74.9 160.4L75.5 160.4L76.2 160.4L76.9 160.4L77.6 160.4L78.2 160.4L78.9 160.4L79.6 160.4L80.3 160.4L80.9 160.4L81.6 160.4L82.3 160.4L83.0 160.4L83.6 160.4L84.3 160.4L85.0 160.4L85.7 160.4L86.4 160.4L87.0 160.4L87.7 160.4L88.4 160.4L89.1 160.4L89.7 160.4L90.4 160.4L91.1 160.4L91.8 160.4L92.4 160.4L93.1 160.4L93.8 160.4L94.5 160.4L95.1 160.4L95.8 160.4L96.5 160.4L97.2 160.4L97.8 160.4L98.5 160.4L99.2 160.4L99.9 160.4L100.5 160.4L101.2 160.4L101.9 160.4L102.6 160.4L103.3 160.4L103.9 160.4L104.6 160.4L105.3 160.4L106.0 160.4L106.6 160.4L107.3 160.4L108.0 160.4L108.7 160.4L109.3 160.4L110.0 160.4L110.7 160.4L111.4 160.4L112.0 160.4L112.7 160.4L113.4 160.4L114.1 160.4L114.7 160.4L115.4 160.4L116.1 160.4L116.8 160.4L117.4 160.4L118.1 160.4L118.8 160.4L119.5 160.4L120.2 160.4L120.8 160.4L121.5 160.4L122.2 160.4L122.9 160.4L123.5 160.4L124.2 160.4L124.9 160.4L125.6 160.4L126.2 160.4L126.9 160.4L127.6 160.4L128.3 160.4L128.9 160.4L129.6 160.4L130.3 160.4L131.0 160.4L131.6 160.4L132.3 160.4L133.0 160.4L133.7 160.4L134.4 160.4L135.0 160.4L135.7 160.4L136.4 160.4L137.1 160.4L137.7 160.4L138.4 160.4L139.1 160.4L139.8 160.4L140.4 160.4L141.1 160.4L141.8 160.4L142.5 160.4L143.1 160.4L143.8 160.4L144.5 160.4L145.2 160.4L145.8 160.4L146.5 160.4L147.2 160.4L147.9 160.4L148.5 160.4L149.2 160.4L149.9 160.4L150.6 160.4L151.3 160.4L151.9 160.4L152.6 160.4L153.3 160.4L154.0 160.4L154.6 160.4L155.3 160.4L156.0 160.4L156.7 160.4L157.3 160.4L158.0 160.4L158.7 160.4L159.4 160.4L160.0 160.4L160.7 160.4L161.4 160.4L162.1 160.4L162.7 160.4L163.4 160.4L164.1 160.4L164.8 160.4L165.4 160.4L166.1 160.4L166.8 160.4L167.5 160.4L168.2 160.4L168.8 160.4L169.5 160.4L170.2 160.4L170.9 160.4L171.5 160.4L172.2 160.4L172.9 160.4L173.6 160.4L174.2 160.4L174.9 160.4L175.6 160.4L176.3 160.4L176.9 160.4L177.6 160.4L178.3 160.4L179.0 160.4L179.6 160.4L180.3 160.4L181.0 160.4L181.7 160.4L182.4 160.4L183.0 160.4L183.7 160.4L184.4 160.4L185.1 160.4L185.7 160.4L186.4 160.4L187.1 160.4L187.8 160.4L188.4 160.4L189.1 160.4L189.8 160.4L190.5 160.4L191.1 160.4L191.8 160.4L192.5 160.4L193.2 160.4L193.8 160.4L194.5 160.4L195.2 160.4L195.9 160.4L196.5 160.4L197.2 160.4L197.9 160.4L198.6 160.4L199.3 160.4L199.9 160.4L200.6 160.4L201.3 160.4L202.0 160.4L202.6 160.4L203.3 160.4L204.0 160.4L204.7 160.4L205.3 160.4L206.0 160.4L206.7 160.4L207.4 160.4L208.0 160.4L208.7 160.4L209.4 160.4L210.1 160.4L210.7 160.4L211.4 160.4L212.1 160.4L212.8 160.4L213.4 160.4L213.4 161.1L213.4 161.7L213.4 162.3L213.4 163.0L213.4 163.6L213.4 164.2L213.4 164.9L213.4 165.5L213.4 166.1L213.4 166.8L213.4 167.4L213.4 168.0L213.4 168.6L213.4 169.3L213.4 169.9L213.4 170.5L213.4 171.2L213.4 171.8L213.4 172.4L213.4 173.1L213.4 173.7L213.4 174.3L213.4 175.0L213.4 175.6L213.4 176.2L213.4 176.8L213.4 177.5L213.4 178.1L213.4 178.7L213.4 179.4L213.4 180.0L213.4 180.6L213.4 181.3L213.4 181.9L213.4 182.5L213.4 183.2L213.4 183.8L213.4 184.4L213.4 185.0L213.4 185.7L213.4 186.3L213.4 186.9L213.4 187.6L213.4 188.2L213.4 188.8L213.4 189.5L213.4 190.1L213.4 190.7L213.4 191.4L213.4 192.0L213.4 192.6L213.4 193.2L213.4 193.9L213.4 194.5L213.4 195.1L213.4 195.8L213.4 196.4L213.4 197.0L213.4 197.7L213.4 198.3L213.4 198.9L213.4 199.6L213.4 200.2L213.4 200.8L213.4 201.4L213.4 202.1L213.4 202.7L213.4 203.3L213.4 204.0L213.4 204.6L213.4 205.2L213.4 205.9L213.4 206.5L213.4 207.1L213.4 207.8L213.4 208.4L213.4 209.0L213.4 209.6L213.4 210.3L213.4 210.9L213.4 211.5L213.4 212.2L213.4 212.8L213.4 213.4L213.4 214.1L213.4 214.7L213.4 215.3L213.4 216.0L213.4 216.6L213.4 217.2L213.4 217.8L213.4 218.5L213.4 219.1L213.5 219.7L213.4 219.7L212.8 220.2L212.6 220.4L212.1 220.8L211.8 221.0L211.4 221.3L211.0 221.6L210.7 221.8L210.2 222.3L210.1 222.4L209.4 222.9L209.3 222.9L208.7 223.3L208.4 223.5L208.0 223.8L207.5 224.2L207.4 224.3L206.7 224.7L206.6 224.8L206.0 225.1L205.6 225.4L205.3 225.6L204.7 226.0L204.6 226.0L204.0 226.4L203.5 226.7L203.3 226.8L202.6 227.2L202.4 227.3L202.0 227.6L201.3 227.9L201.3 227.9L200.6 228.3L200.1 228.6L199.9 228.7L199.3 229.0L198.9 229.2L198.6 229.4L197.9 229.7L197.6 229.8L197.2 230.0L196.5 230.4L196.3 230.5L195.9 230.7L195.2 231.0L195.0 231.1L194.5 231.3L193.8 231.6L193.6 231.7L193.2 231.9L192.5 232.2L192.2 232.4L191.8 232.5L191.1 232.8L190.7 233.0L190.5 233.1L189.8 233.3L189.1 233.6L189.1 233.6L188.4 233.9L187.8 234.2L187.5 234.2L187.1 234.4L186.4 234.7L185.9 234.9L185.7 234.9L185.1 235.2L184.4 235.4L184.2 235.5L183.7 235.7L183.0 235.9L182.4 236.1L182.4 236.2L181.7 236.4L181.0 236.6L180.6 236.8L180.3 236.9L179.6 237.1L179.0 237.3L178.7 237.4L178.3 237.5L177.6 237.8L176.9 238.0L176.8 238.0L176.3 238.2L175.6 238.4L174.9 238.6L174.8 238.7L174.2 238.8L173.6 239.0L172.9 239.2L172.8 239.3L172.2 239.5L171.5 239.7L170.9 239.9L170.6 239.9L170.2 240.1L169.5 240.2L168.8 240.4L168.4 240.6L168.2 240.6L167.5 240.8L166.8 241.0L166.2 241.2L166.1 241.2L165.4 241.4L164.8 241.6L164.1 241.7L163.9 241.8L163.4 241.9L162.7 242.1L162.1 242.3L161.5 242.4L161.4 242.5L160.7 242.6L160.0 242.8L159.4 243.0L159.0 243.1L158.7 243.2L158.0 243.3L157.3 243.5L156.7 243.7L156.5 243.7L156.0 243.8L155.3 244.0L154.6 244.2L154.0 244.3L153.9 244.3L153.3 244.5L152.6 244.6L151.9 244.8L151.3 245.0L151.2 245.0L150.6 245.1L149.9 245.3L149.2 245.4L148.5 245.6L148.4 245.6L147.9 245.7L147.2 245.9L146.5 246.0L145.8 246.2L145.6 246.2L145.2 246.3L144.5 246.5L143.8 246.6L143.1 246.8L142.7 246.9L142.5 246.9L141.8 247.1L141.1 247.2L140.4 247.4L139.8 247.5L139.8 247.5L139.1 247.6L138.4 247.8L137.7 247.9L137.1 248.1L136.7 248.1L136.4 248.2L135.7 248.3L135.0 248.5L134.4 248.6L133.7 248.7L133.6 248.8L133.0 248.9L132.3 249.0L131.6 249.1L131.0 249.3L130.4 249.4L130.3 249.4L129.6 249.5L128.9 249.7L128.3 249.8L127.6 249.9L127.2 250.0L126.9 250.1L126.2 250.2L125.6 250.3L124.9 250.4L124.2 250.6L123.8 250.6L123.5 250.7L122.9 250.8L122.2 251.0L121.5 251.1L120.8 251.2L120.4 251.3L120.2 251.3L119.5 251.5L118.8 251.6L118.1 251.7L117.4 251.8L117.0 251.9L116.8 251.9L116.1 252.1L115.4 252.2L114.7 252.3L114.1 252.4L113.4 252.5L113.4 252.5L112.7 252.7L112.0 252.8L111.4 252.9L110.7 253.0L110.0 253.1L109.8 253.2L109.3 253.3L108.7 253.4L108.0 253.5L107.3 253.6L106.6 253.7L106.1 253.8L106.0 253.8L105.3 253.9L104.6 254.1L103.9 254.2L103.3 254.3L102.6 254.4L102.4 254.4L101.9 254.5L101.2 254.6L100.5 254.7L99.9 254.8L99.2 255.0L98.6 255.1L98.5 255.1L97.8 255.2L97.2 255.3L96.5 255.4L95.8 255.5L95.1 255.6L94.7 255.7L94.5 255.7L93.8 255.8L93.1 255.9L92.4 256.1L91.8 256.2L91.1 256.3L90.8 256.3L90.4 256.4L89.7 256.5L89.1 256.6L88.4 256.7L87.7 256.8L87.0 256.9L86.8 257.0L86.4 257.0L85.7 257.1L85.0 257.2L84.3 257.3L83.6 257.4L83.0 257.5L82.7 257.6L82.3 257.6L81.6 257.8L80.9 257.9L80.3 258.0L79.6 258.1L78.9 258.2L78.6 258.2L78.2 258.3L77.6 258.4L76.9 258.5L76.2 258.6L75.5 258.7L74.9 258.8L74.4 258.8L74.2 258.9L73.5 259.0L72.8 259.1L72.2 259.2L71.5 259.3L70.8 259.4L70.2 259.5L70.1 259.5L69.4 259.6L68.8 259.7L68.1 259.8L67.4 259.9L66.7 260.0L66.1 260.1L65.9 260.1L65.4 260.2L64.7 260.3L64.0 260.4L63.4 260.5L62.7 260.6L62.0 260.7L61.6 260.7L61.3 260.8L60.7 260.9L60.0 261.0L59.3 261.1L58.6 261.2L58.0 261.3L57.3 261.4L57.3 261.4L56.6 261.5L55.9 261.6L55.3 261.7L54.6 261.8L53.9 261.8L53.2 261.9L52.8 262.0L52.5 262.0L51.9 262.1L51.2 262.2L50.5 262.3L49.8 262.4L49.2 262.5L48.5 262.6L48.4 262.6L47.8 262.7L47.1 262.8L46.5 262.9L45.8 263.0L45.1 263.1L44.4 263.2L43.9 263.3L43.8 263.3L43.1 263.4L42.4 263.5L41.7 263.6L41.1 263.7L40.4 263.8L39.7 263.8L39.4 263.9L39.0 263.9L38.4 264.0L38.4 263.9L38.4 263.3L38.4 262.6L38.4 262.0L38.4 261.4L38.4 260.7L38.4 260.1L38.4 259.5L38.4 258.8L38.4 258.2L38.4 257.6L38.4 257.0L38.4 256.3L38.4 255.7L38.4 255.1L38.4 254.4L38.4 253.8L38.4 253.2L38.4 252.5L38.4 251.9L38.4 251.3L38.4 250.6L38.4 250.0L38.4 249.4L38.4 248.8L38.4 248.1L38.4 247.5L38.4 246.9L38.4 246.2L38.4 245.6L38.4 245.0L38.4 244.3L38.4 243.7L38.4 243.1L38.4 242.4L38.4 241.8L38.4 241.2L38.4 240.6L38.4 239.9L38.4 239.3L38.4 238.7L38.4 238.0L38.4 237.4L38.4 236.8L38.4 236.1L38.4 235.5L38.4 234.9L38.4 234.2L38.4 233.6L38.4 233.0L38.4 232.4L38.4 231.7L38.4 231.1L38.4 230.5L38.4 229.8L38.4 229.2L38.4 228.6L38.4 227.9L38.4 227.3L38.4 226.7L38.4 226.0L38.4 225.4L38.4 224.8L38.4 224.2L38.4 223.5L38.4 222.9L38.4 222.3L38.4 221.6L38.4 221.0L38.4 220.4L38.4 219.7L38.4 219.1L38.4 218.5L38.4 217.8L38.4 217.2L38.4 216.6L38.4 216.0L38.4 215.3L38.4 214.7L38.4 214.1L38.4 213.4L38.4 212.8L38.4 212.2L38.4 211.5L38.4 210.9L38.4 210.3L38.4 209.6L38.4 209.0L38.4 208.4L38.4 207.8L38.4 207.1L38.4 206.5L38.4 205.9L38.4 205.2L38.4 204.6L38.4 204.0L38.4 203.3L38.4 202.7L38.4 202.1L38.4 201.4L38.4 200.8L38.4 200.2L38.4 199.6L38.4 198.9L38.4 198.3L38.4 197.7L38.4 197.0L38.4 196.4L38.4 195.8L38.4 195.1L38.4 194.5L38.4 193.9L38.4 193.2L38.4 192.6L38.4 192.0L38.4 191.4L38.4 190.7L38.4 190.1L38.4 189.5L38.4 188.8L38.4 188.2L38.4 187.6L38.4 186.9L38.4 186.3L38.4 185.7L38.4 185.0L38.4 184.4L38.4 183.8L38.4 183.2L38.4 182.5L38.4 181.9L38.4 181.3L38.4 180.6L38.4 180.0L38.4 179.4L38.4 178.7L38.4 178.1L38.4 177.5L38.4 176.8L38.4 176.2L38.4 175.6L38.4 175.0L38.4 174.3L38.4 173.7L38.4 173.1L38.4 172.4L38.4 171.8L38.4 171.2L38.4 170.5L38.4 169.9L38.4 169.3L38.4 168.6L38.4 168.0L38.4 167.4L38.4 166.8L38.4 166.1L38.4 165.5L38.4 164.9L38.4 164.2L38.4 163.6L38.4 163.0L38.4 162.3L38.4 161.7L38.4 161.1L38.4 160.4Z" fill="#fdfcfd"/>
<path d="M39.0 160.4L39.7 160.4L40.4 160.4L41.1 160.4L41.7 160.4L42.4 160.4L43.1 160.4L43.8 160.4L44.4 160.4L45.1 160.4L45.8 160.4L46.5 160.4L47.1 160.4L47.8 160.4L48.5 160.4L49.2 160.4L49.8 160.4L50.5 160.4L51.2 160.4L51.9 160.4L52.5 160.4L53.2 160.4L53.9 160.4L54.6 160.4L55.3 160.4L55.9 160.4L56.6 160.4L57.3 160.4L58.0 160.4L58.6 160.4L59.3 160.4L60.0 160.4L60.7 160.4L61.3 160.4L62.0 160.4L62.7 160.4L63.4 160.4L64.0 160.4L64.7 160.4L65.4 160.4L66.1 160.4L66.7 160.4L67.4 160.4L68.1 160.4L68.8 160.4L69.4 160.4L70.1 160.4L70.8 160.4L71.5 160.4L72.2 160.4L72.8 160.4L73.5 160.4L74.2 160.4L74.9 160.4L75.5 160.4L76.2 160.4L76.9 160.4L77.6 160.4L78.2 160.4L78.9 160.4L79.6 160.4L80.3 160.4L80.9 160.4L81.6 160.4L82.3 160.4L83.0 160.4L83.6 160.4L84.3 160.4L85.0 160.4L85.7 160.4L86.4 160.4L87.0 160.4L87.7 160.4L88.4 160.4L89.1 160.4L89.7 160.4L90.4 160.4L91.1 160.4L91.8 160.4L92.4 160.4L93.1 160.4L93.8 160.4L94.5 160.4L95.1 160.4L95.8 160.4L96.5 160.4L97.2 160.4L97.8 160.4L98.5 160.4L99.2 160.4L99.9 160.4L100.5 160.4L101.2 160.4L101.9 160.4L102.6 160.4L103.3 160.4L103.9 160.4L104.6 160.4L105.3 160.4L106.0 160.4L106.6 160.4L107.3 160.4L108.0 160.4L108.7 160.4L109.3 160.4L110.0 160.4L110.7 160.4L111.4 160.4L112.0 160.4L112.7 160.4L113.4 160.4L114.1 160.4L114.7 160.4L115.4 160.4L116.1 160.4L116.8 160.4L117.4 160.4L118.1 160.4L118.8 160.4L119.5 160.4L120.2 160.4L120.8 160.4L121.5 160.4L122.2 160.4L122.9 160.4L123.5 160.4L124.2 160.4L124.9 160.4L125.6 160.4L126.2 160.4L126.9 160.4L127.6 160.4L128.3 160.4L128.9 160.4L129.6 160.4L130.3 160.4L131.0 160.4L131.6 160.4L132.3 160.4L133.0 160.4L133.7 160.4L134.4 160.4L135.0 160.4L135.7 160.4L136.4 160.4L137.1 160.4L137.7 160.4L138.4 160.4L139.1 160.4L139.8 160.4L140.4 160.4L141.1 160.4L141.8 160.4L142.5 160.4L143.1 160.4L143.8 160.4L144.5 160.4L145.2 160.4L145.8 160.4L146.5 160.4L147.2 160.4L147.9 160.4L148.5 160.4L149.2 160.4L149.9 160.4L150.6 160.4L151.3 160.4L151.9 160.4L152.6 160.4L153.3 160.4L154.0 160.4L154.6 160.4L155.3 160.4L156.0 160.4L156.7 160.4L157.3 160.4L158.0 160.4L158.7 160.4L159.4 160.4L160.0 160.4L160.7 160.4L161.4 160.4L162.1 160.4L162.7 160.4L163.4 160.4L164.1 160.4L164.8 160.4L165.4 160.4L166.1 160.4L166.8 160.4L167.5 160.4L168.2 160.4L168.8 160.4L169.5 160.4L170.2 160.4L170.9 160.4L171.5 160.4L172.2 160.4L172.9 160.4L173.6 160.4L174.2 160.4L174.9 160.4L175.6 160.4L176.3 160.4L176.9 160.4L177.6 160.4L178.3 160.4L179.0 160.4L179.6 160.4L180.3 160.4L181.0 160.4L181.7 160.4L182.4 160.4L183.0 160.4L183.7 160.4L184.4 160.4L185.1 160.4L185.7 160.4L186.4 160.4L187.1 160.4L187.8 160.4L188.4 160.4L189.1 160.4L189.8 160.4L190.5 160.4L191.1 160.4L191.8 160.4L192.5 160.4L193.2 160.4L193.8 160.4L194.5 160.4L195.2 160.4L195.9 160.4L196.5 160.4L197.2 160.4L197.9 160.4L198.6 160.4L199.3 160.4L199.9 160.4L200.6 160.4L201.3 160.4L202.0 160.4L202.6 160.4L203.3 160.4L204.0 160.4L204.7 160.4L205.3 160.4L206.0 160.4L206.7 160.4L207.4 160.4L208.0 160.4L208.7 160.4L209.4 160.4L210.0 160.4L209.8 161.1L209.7 161.7L209.5 162.3L209.4 162.7L209.3 163.0L209.2 163.6L209.0 164.2L208.8 164.9L208.7 165.4L208.7 165.5L208.5 166.1L208.4 166.8L208.2 167.4L208.0 168.0L208.0 168.0L207.9 168.6L207.7 169.3L207.5 169.9L207.4 170.5L207.4 170.5L207.2 171.2L207.0 171.8L206.9 172.4L206.7 173.1L206.7 173.1L206.5 173.7L206.3 174.3L206.2 175.0L206.0 175.6L206.0 175.6L205.8 176.2L205.7 176.8L205.5 177.5L205.3 178.0L205.3 178.1L205.1 178.7L204.9 179.4L204.8 180.0L204.7 180.4L204.6 180.6L204.4 181.3L204.2 181.9L204.0 182.5L204.0 182.7L203.8 183.2L203.7 183.8L203.5 184.4L203.3 184.9L203.3 185.0L203.1 185.7L202.9 186.3L202.7 186.9L202.6 187.1L202.5 187.6L202.3 188.2L202.1 188.8L202.0 189.1L201.8 189.5L201.6 190.1L201.4 190.7L201.3 191.1L201.2 191.4L201.0 192.0L200.7 192.6L200.6 193.0L200.5 193.2L200.3 193.9L200.0 194.5L199.9 194.8L199.8 195.1L199.5 195.8L199.3 196.4L199.3 196.5L199.0 197.0L198.8 197.7L198.6 198.1L198.5 198.3L198.2 198.9L197.9 199.6L197.9 199.6L197.6 200.2L197.3 200.8L197.2 201.1L197.0 201.4L196.7 202.1L196.5 202.4L196.4 202.7L196.1 203.3L195.9 203.7L195.7 204.0L195.4 204.6L195.2 205.0L195.0 205.2L194.7 205.9L194.5 206.1L194.3 206.5L193.9 207.1L193.8 207.2L193.5 207.8L193.2 208.3L193.1 208.4L192.7 209.0L192.5 209.3L192.2 209.6L191.8 210.2L191.8 210.3L191.3 210.9L191.1 211.2L190.9 211.5L190.5 212.0L190.4 212.2L189.8 212.8L189.8 212.9L189.3 213.4L189.1 213.7L188.8 214.1L188.4 214.4L188.2 214.7L187.8 215.2L187.6 215.3L187.1 215.9L187.0 216.0L186.4 216.6L186.4 216.6L185.7 217.2L185.7 217.2L185.1 217.8L185.1 217.8L184.4 218.5L184.4 218.5L183.7 219.0L183.6 219.1L183.0 219.6L182.9 219.7L182.4 220.2L182.1 220.4L181.7 220.7L181.3 221.0L181.0 221.2L180.5 221.6L180.3 221.7L179.6 222.2L179.6 222.3L179.0 222.7L178.7 222.9L178.3 223.2L177.8 223.5L177.6 223.6L176.9 224.1L176.8 224.2L176.3 224.5L175.8 224.8L175.6 224.9L174.9 225.3L174.7 225.4L174.2 225.7L173.7 226.0L173.6 226.1L172.9 226.5L172.5 226.7L172.2 226.9L171.5 227.2L171.4 227.3L170.9 227.6L170.2 227.9L170.2 227.9L169.5 228.3L168.9 228.6L168.8 228.6L168.2 228.9L167.6 229.2L167.5 229.3L166.8 229.6L166.3 229.8L166.1 229.9L165.4 230.2L164.9 230.5L164.8 230.5L164.1 230.8L163.4 231.1L163.4 231.1L162.7 231.4L162.1 231.7L161.9 231.7L161.4 231.9L160.7 232.2L160.4 232.4L160.0 232.5L159.4 232.7L158.7 233.0L158.7 233.0L158.0 233.3L157.3 233.5L157.1 233.6L156.7 233.8L156.0 234.0L155.3 234.2L155.3 234.3L154.6 234.5L154.0 234.7L153.5 234.9L153.3 235.0L152.6 235.2L151.9 235.4L151.7 235.5L151.3 235.6L150.6 235.9L149.9 236.1L149.8 236.1L149.2 236.3L148.5 236.5L147.9 236.7L147.8 236.8L147.2 236.9L146.5 237.1L145.8 237.4L145.7 237.4L145.2 237.6L144.5 237.8L143.8 238.0L143.6 238.0L143.1 238.2L142.5 238.3L141.8 238.5L141.4 238.7L141.1 238.7L140.4 238.9L139.8 239.1L139.1 239.3L139.1 239.3L138.4 239.5L137.7 239.6L137.1 239.8L136.7 239.9L136.4 240.0L135.7 240.2L135.0 240.4L134.4 240.5L134.3 240.6L133.7 240.7L133.0 240.9L132.3 241.0L131.7 241.2L131.6 241.2L131.0 241.4L130.3 241.5L129.6 241.7L129.1 241.8L128.9 241.9L128.3 242.0L127.6 242.2L126.9 242.3L126.5 242.4L126.2 242.5L125.6 242.7L124.9 242.8L124.2 243.0L123.7 243.1L123.5 243.1L122.9 243.3L122.2 243.4L121.5 243.6L120.8 243.7L120.8 243.7L120.2 243.9L119.5 244.0L118.8 244.1L118.1 244.3L117.9 244.3L117.4 244.4L116.8 244.6L116.1 244.7L115.4 244.9L114.9 245.0L114.7 245.0L114.1 245.1L113.4 245.3L112.7 245.4L112.0 245.5L111.7 245.6L111.4 245.7L110.7 245.8L110.0 245.9L109.3 246.1L108.7 246.2L108.5 246.2L108.0 246.3L107.3 246.5L106.6 246.6L106.0 246.7L105.3 246.8L105.2 246.9L104.6 247.0L103.9 247.1L103.3 247.2L102.6 247.3L101.9 247.5L101.8 247.5L101.2 247.6L100.5 247.7L99.9 247.8L99.2 248.0L98.5 248.1L98.3 248.1L97.8 248.2L97.2 248.3L96.5 248.4L95.8 248.6L95.1 248.7L94.7 248.8L94.5 248.8L93.8 248.9L93.1 249.0L92.4 249.1L91.8 249.3L91.1 249.4L91.0 249.4L90.4 249.5L89.7 249.6L89.1 249.7L88.4 249.8L87.7 249.9L87.2 250.0L87.0 250.0L86.4 250.2L85.7 250.3L85.0 250.4L84.3 250.5L83.6 250.6L83.3 250.6L83.0 250.7L82.3 250.8L81.6 250.9L80.9 251.0L80.3 251.1L79.6 251.2L79.3 251.3L78.9 251.3L78.2 251.4L77.6 251.5L76.9 251.6L76.2 251.7L75.5 251.9L75.2 251.9L74.9 252.0L74.2 252.1L73.5 252.2L72.8 252.3L72.2 252.4L71.5 252.5L71.0 252.5L70.8 252.6L70.1 252.7L69.4 252.8L68.8 252.9L68.1 253.0L67.4 253.1L66.7 253.2L66.7 253.2L66.1 253.3L65.4 253.4L64.7 253.4L64.0 253.5L63.4 253.6L62.7 253.7L62.2 253.8L62.0 253.8L61.3 253.9L60.7 254.0L60.0 254.1L59.3 254.2L58.6 254.3L58.0 254.4L57.7 254.4L57.3 254.5L56.6 254.6L55.9 254.7L55.3 254.8L54.6 254.9L53.9 255.0L53.2 255.0L53.1 255.1L52.5 255.1L51.9 255.2L51.2 255.3L50.5 255.4L49.8 255.5L49.2 255.6L48.5 255.7L48.4 255.7L47.8 255.8L47.1 255.9L46.5 255.9L45.8 256.0L45.1 256.1L44.4 256.2L43.8 256.3L43.5 256.3L43.1 256.4L42.4 256.5L41.7 256.6L41.1 256.6L40.4 256.7L39.7 256.8L39.0 256.9L38.6 257.0L38.4 257.0L38.4 257.0L38.4 256.3L38.4 255.7L38.4 255.1L38.4 254.4L38.4 253.8L38.4 253.2L38.4 252.5L38.4 251.9L38.4 251.3L38.4 250.6L38.4 250.0L38.4 249.4L38.4 248.8L38.4 248.1L38.4 247.5L38.4 246.9L38.4 246.2L38.4 245.6L38.4 245.0L38.4 244.3L38.4 243.7L38.4 243.1L38.4 242.4L38.4 241.8L38.4 241.2L38.4 240.6L38.4 239.9L38.4 239.3L38.4 238.7L38.4 238.0L38.4 237.4L38.4 236.8L38.4 236.1L38.4 235.5L38.4 234.9L38.4 234.2L38.4 233.6L38.4 233.0L38.4 232.4L38.4 231.7L38.4 231.1L38.4 230.5L38.4 229.8L38.4 229.2L38.4 228.6L38.4 227.9L38.4 227.3L38.4 226.7L38.4 226.0L38.4 225.4L38.4 224.8L38.4 224.2L38.4 223.5L38.4 222.9L38.4 222.3L38.4 221.6L38.4 221.0L38.4 220.4L38.4 219.7L38.4 219.1L38.4 218.5L38.4 217.8L38.4 217.2L38.4 216.6L38.4 216.0L38.4 215.3L38.4 214.7L38.4 214.1L38.4 213.4L38.4 212.8L38.4 212.2L38.4 211.5L38.4 210.9L38.4 210.3L38.4 209.6L38.4 209.0L38.4 208.4L38.4 207.8L38.4 207.1L38.4 206.5L38.4 205.9L38.4 205.2L38.4 204.6L38.4 204.0L38.4 203.3L38.4 202.7L38.4 202.1L38.4 201.4L38.4 200.8L38.4 200.2L38.4 199.6L38.4 198.9L38.4 198.3L38.4 197.7L38.4 197.0L38.4 196.4L38.4 195.8L38.4 195.1L38.4 194.5L38.4 193.9L38.4 193.2L38.4 192.6L38.4 192.0L38.4 191.4L38.4 190.7L38.4 190.1L38.4 189.5L38.4 188.8L38.4 188.2L38.4 187.6L38.4 186.9L38.4 186.3L38.4 185.7L38.4 185.0L38.4 184.4L38.4 183.8L38.4 183.2L38.4 182.5L38.4 181.9L38.4 181.3L38.4 180.6L38.4 180.0L38.4 179.4L38.4 178.7L38.4 178.1L38.4 177.5L38.4 176.8L38.4 176.2L38.4 175.6L38.4 175.0L38.4 174.3L38.4 173.7L38.4 173.1L38.4 172.4L38.4 171.8L38.4 171.2L38.4 170.5L38.4 169.9L38.4 169.3L38.4 168.6L38.4 168.0L38.4 167.4L38.4 166.8L38.4 166.1L38.4 165.5L38.4 164.9L38.4 164.2L38.4 163.6L38.4 163.0L38.4 162.3L38.4 161.7L38.4 161.1L38.4 160.4Z" fill="#eeedf3"/>
<path d="M39.0 160.4L39.7 160.4L40.4 160.4L41.1 160.4L41.7 160.4L42.4 160.4L43.1 160.4L43.8 160.4L44.4 160.4L45.1 160.4L45.8 160.4L46.5 160.4L47.1 160.4L47.8 160.4L48.5 160.4L49.2 160.4L49.8 160.4L50.5 160.4L51.2 160.4L51.9 160.4L52.5 160.4L53.2 160.4L53.9 160.4L54.6 160.4L55.3 160.4L55.9 160.4L56.6 160.4L57.3 160.4L58.0 160.4L58.6 160.4L59.3 160.4L60.0 160.4L60.7 160.4L61.3 160.4L62.0 160.4L62.7 160.4L63.4 160.4L64.0 160.4L64.7 160.4L65.4 160.4L66.1 160.4L66.7 160.4L67.4 160.4L68.1 160.4L68.8 160.4L69.4 160.4L70.1 160.4L70.8 160.4L71.5 160.4L72.2 160.4L72.8 160.4L73.5 160.4L74.2 160.4L74.9 160.4L75.5 160.4L76.2 160.4L76.9 160.4L77.6 160.4L78.2 160.4L78.9 160.4L79.6 160.4L80.3 160.4L80.9 160.4L81.6 160.4L82.3 160.4L83.0 160.4L83.6 160.4L84.3 160.4L85.0 160.4L85.7 160.4L86.4 160.4L87.0 160.4L87.7 160.4L88.4 160.4L89.1 160.4L89.7 160.4L90.4 160.4L91.1 160.4L91.8 160.4L92.4 160.4L93.1 160.4L93.8 160.4L94.5 160.4L95.1 160.4L95.8 160.4L96.5 160.4L97.2 160.4L97.8 160.4L98.5 160.4L99.2 160.4L99.9 160.4L100.5 160.4L101.2 160.4L101.9 160.4L102.6 160.4L103.3 160.4L103.9 160.4L104.6 160.4L105.3 160.4L106.0 160.4L106.6 160.4L107.3 160.4L108.0 160.4L108.7 160.4L109.3 160.4L110.0 160.4L110.7 160.4L111.4 160.4L112.0 160.4L112.7 160.4L113.4 160.4L114.1 160.4L114.7 160.4L115.4 160.4L116.1 160.4L116.8 160.4L117.4 160.4L118.1 160.4L118.8 160.4L119.5 160.4L120.2 160.4L120.8 160.4L121.5 160.4L122.2 160.4L122.9 160.4L123.5 160.4L124.2 160.4L124.9 160.4L125.6 160.4L126.2 160.4L126.9 160.4L127.6 160.4L128.3 160.4L128.9 160.4L129.6 160.4L130.3 160.4L131.0 160.4L131.6 160.4L132.3 160.4L133.0 160.4L133.7 160.4L134.4 160.4L135.0 160.4L135.7 160.4L136.4 160.4L137.1 160.4L137.7 160.4L138.4 160.4L139.1 160.4L139.8 160.4L140.4 160.4L141.1 160.4L141.8 160.4L142.5 160.4L143.1 160.4L143.8 160.4L144.5 160.4L145.2 160.4L145.8 160.4L146.5 160.4L147.2 160.4L147.9 160.4L148.5 160.4L149.2 160.4L149.9 160.4L150.6 160.4L151.3 160.4L151.9 160.4L152.6 160.4L153.3 160.4L154.0 160.4L154.6 160.4L155.3 160.4L156.0 160.4L156.7 160.4L157.3 160.4L158.0 160.4L158.7 160.4L159.4 160.4L160.0 160.4L160.7 160.4L161.4 160.4L162.1 160.4L162.7 160.4L163.4 160.4L164.1 160.4L164.8 160.4L165.4 160.4L166.1 160.4L166.8 160.4L167.5 160.4L168.2 160.4L168.8 160.4L169.5 160.4L170.2 160.4L170.9 160.4L171.5 160.4L172.2 160.4L172.9 160.4L173.6 160.4L174.2 160.4L174.9 160.4L175.6 160.4L176.3 160.4L176.9 160.4L177.6 160.4L178.3 160.4L179.0 160.4L179.6 160.4L180.3 160.4L181.0 160.4L181.7 160.4L182.4 160.4L183.0 160.4L183.7 160.4L184.4 160.4L184.5 160.4L184.4 160.8L184.3 161.1L184.2 161.7L184.0 162.3L183.9 163.0L183.8 163.6L183.7 163.9L183.6 164.2L183.5 164.9L183.3 165.5L183.2 166.1L183.1 166.8L183.0 166.9L182.9 167.4L182.8 168.0L182.6 168.6L182.5 169.3L182.4 169.9L182.4 169.9L182.2 170.5L182.1 171.2L181.9 171.8L181.8 172.4L181.7 172.8L181.6 173.1L181.5 173.7L181.3 174.3L181.2 175.0L181.0 175.6L181.0 175.7L180.9 176.2L180.7 176.8L180.6 177.5L180.4 178.1L180.3 178.4L180.2 178.7L180.1 179.4L179.9 180.0L179.8 180.6L179.6 181.1L179.6 181.3L179.4 181.9L179.3 182.5L179.1 183.2L179.0 183.6L178.9 183.8L178.7 184.4L178.6 185.0L178.4 185.7L178.3 186.0L178.2 186.3L178.0 186.9L177.8 187.6L177.6 188.2L177.6 188.3L177.4 188.8L177.3 189.5L177.1 190.1L176.9 190.4L176.8 190.7L176.6 191.4L176.4 192.0L176.3 192.5L176.2 192.6L176.0 193.2L175.8 193.9L175.6 194.4L175.5 194.5L175.3 195.1L175.1 195.8L174.9 196.2L174.8 196.4L174.6 197.0L174.3 197.7L174.2 197.9L174.1 198.3L173.8 198.9L173.6 199.5L173.5 199.6L173.2 200.2L172.9 200.8L172.9 200.9L172.6 201.4L172.3 202.1L172.2 202.3L172.0 202.7L171.7 203.3L171.5 203.7L171.4 204.0L171.0 204.6L170.9 204.9L170.7 205.2L170.3 205.9L170.2 206.1L169.9 206.5L169.5 207.1L169.5 207.2L169.1 207.8L168.8 208.2L168.7 208.4L168.3 209.0L168.2 209.2L167.8 209.6L167.5 210.2L167.4 210.3L166.9 210.9L166.8 211.1L166.4 211.5L166.1 211.9L165.9 212.2L165.4 212.7L165.4 212.8L164.8 213.4L164.8 213.5L164.3 214.1L164.1 214.3L163.7 214.7L163.4 215.0L163.1 215.3L162.7 215.7L162.5 216.0L162.1 216.3L161.8 216.6L161.4 217.0L161.1 217.2L160.7 217.6L160.4 217.8L160.0 218.2L159.7 218.5L159.4 218.7L158.9 219.1L158.7 219.3L158.1 219.7L158.0 219.8L157.3 220.4L157.3 220.4L156.7 220.9L156.5 221.0L156.0 221.4L155.6 221.6L155.3 221.8L154.7 222.3L154.6 222.3L154.0 222.7L153.7 222.9L153.3 223.2L152.7 223.5L152.6 223.6L151.9 224.0L151.7 224.2L151.3 224.4L150.6 224.8L150.6 224.8L149.9 225.2L149.5 225.4L149.2 225.6L148.5 226.0L148.4 226.0L147.9 226.3L147.2 226.7L147.2 226.7L146.5 227.0L145.9 227.3L145.8 227.3L145.2 227.7L144.6 227.9L144.5 228.0L143.8 228.3L143.3 228.6L143.1 228.6L142.5 228.9L141.9 229.2L141.8 229.2L141.1 229.5L140.4 229.8L140.4 229.8L139.8 230.1L139.1 230.4L138.9 230.5L138.4 230.7L137.7 230.9L137.4 231.1L137.1 231.2L136.4 231.5L135.7 231.7L135.7 231.7L135.0 232.0L134.4 232.2L134.1 232.4L133.7 232.5L133.0 232.7L132.3 233.0L132.3 233.0L131.6 233.2L131.0 233.4L130.5 233.6L130.3 233.7L129.6 233.9L128.9 234.1L128.6 234.2L128.3 234.3L127.6 234.6L126.9 234.8L126.6 234.9L126.2 235.0L125.6 235.2L124.9 235.4L124.6 235.5L124.2 235.6L123.5 235.8L122.9 236.0L122.5 236.1L122.2 236.2L121.5 236.4L120.8 236.6L120.3 236.8L120.2 236.8L119.5 237.0L118.8 237.2L118.1 237.4L118.0 237.4L117.4 237.6L116.8 237.7L116.1 237.9L115.7 238.0L115.4 238.1L114.7 238.3L114.1 238.4L113.4 238.6L113.3 238.7L112.7 238.8L112.0 239.0L111.4 239.1L110.7 239.3L110.7 239.3L110.0 239.5L109.3 239.6L108.7 239.8L108.1 239.9L108.0 240.0L107.3 240.1L106.6 240.3L106.0 240.4L105.4 240.6L105.3 240.6L104.6 240.7L103.9 240.9L103.3 241.0L102.6 241.2L102.6 241.2L101.9 241.3L101.2 241.5L100.5 241.6L99.9 241.8L99.7 241.8L99.2 241.9L98.5 242.1L97.8 242.2L97.2 242.4L96.7 242.4L96.5 242.5L95.8 242.6L95.1 242.8L94.5 242.9L93.8 243.0L93.6 243.1L93.1 243.2L92.4 243.3L91.8 243.4L91.1 243.6L90.4 243.7L90.4 243.7L89.7 243.8L89.1 244.0L88.4 244.1L87.7 244.2L87.1 244.3L87.0 244.3L86.4 244.5L85.7 244.6L85.0 244.7L84.3 244.8L83.7 245.0L83.6 245.0L83.0 245.1L82.3 245.2L81.6 245.3L80.9 245.5L80.3 245.6L80.1 245.6L79.6 245.7L78.9 245.8L78.2 245.9L77.6 246.0L76.9 246.2L76.5 246.2L76.2 246.3L75.5 246.4L74.9 246.5L74.2 246.6L73.5 246.7L72.8 246.8L72.7 246.9L72.2 246.9L71.5 247.1L70.8 247.2L70.1 247.3L69.4 247.4L68.8 247.5L68.8 247.5L68.1 247.6L67.4 247.7L66.7 247.8L66.1 247.9L65.4 248.0L64.8 248.1L64.7 248.1L64.0 248.2L63.4 248.3L62.7 248.4L62.0 248.5L61.3 248.6L60.7 248.7L60.6 248.8L60.0 248.8L59.3 248.9L58.6 249.0L58.0 249.1L57.3 249.2L56.6 249.3L56.3 249.4L55.9 249.4L55.3 249.5L54.6 249.6L53.9 249.7L53.2 249.8L52.5 249.9L51.9 250.0L51.9 250.0L51.2 250.1L50.5 250.2L49.8 250.3L49.2 250.4L48.5 250.5L47.8 250.6L47.3 250.6L47.1 250.7L46.5 250.8L45.8 250.9L45.1 250.9L44.4 251.0L43.8 251.1L43.1 251.2L42.6 251.3L42.4 251.3L41.7 251.4L41.1 251.5L40.4 251.6L39.7 251.7L39.0 251.7L38.4 251.8L38.4 251.3L38.4 250.6L38.4 250.0L38.4 249.4L38.4 248.8L38.4 248.1L38.4 247.5L38.4 246.9L38.4 246.2L38.4 245.6L38.4 245.0L38.4 244.3L38.4 243.7L38.4 243.1L38.4 242.4L38.4 241.8L38.4 241.2L38.4 240.6L38.4 239.9L38.4 239.3L38.4 238.7L38.4 238.0L38.4 237.4L38.4 236.8L38.4 236.1L38.4 235.5L38.4 234.9L38.4 234.2L38.4 233.6L38.4 233.0L38.4 232.4L38.4 231.7L38.4 231.1L38.4 230.5L38.4 229.8L38.4 229.2L38.4 228.6L38.4 227.9L38.4 227.3L38.4 226.7L38.4 226.0L38.4 225.4L38.4 224.8L38.4 224.2L38.4 223.5L38.4 222.9L38.4 222.3L38.4 221.6L38.4 221.0L38.4 220.4L38.4 219.7L38.4 219.1L38.4 218.5L38.4 217.8L38.4 217.2L38.4 216.6L38.4 216.0L38.4 215.3L38.4 214.7L38.4 214.1L38.4 213.4L38.4 212.8L38.4 212.2L38.4 211.5L38.4 210.9L38.4 210.3L38.4 209.6L38.4 209.0L38.4 208.4L38.4 207.8L38.4 207.1L38.4 206.5L38.4 205.9L38.4 205.2L38.4 204.6L38.4 204.0L38.4 203.3L38.4 202.7L38.4 202.1L38.4 201.4L38.4 200.8L38.4 200.2L38.4 199.6L38.4 198.9L38.4 198.3L38.4 197.7L38.4 197.0L38.4 196.4L38.4 195.8L38.4 195.1L38.4 194.5L38.4 193.9L38.4 193.2L38.4 192.6L38.4 192.0L38.4 191.4L38.4 190.7L38.4 190.1L38.4 189.5L38.4 188.8L38.4 188.2L38.4 187.6L38.4 186.9L38.4 186.3L38.4 185.7L38.4 185.0L38.4 184.4L38.4 183.8L38.4 183.2L38.4 182.5L38.4 181.9L38.4 181.3L38.4 180.6L38.4 180.0L38.4 179.4L38.4 178.7L38.4 178.1L38.4 177.5L38.4 176.8L38.4 176.2L38.4 175.6L38.4 175.0L38.4 174.3L38.4 173.7L38.4 173.1L38.4 172.4L38.4 171.8L38.4 171.2L38.4 170.5L38.4 169.9L38.4 169.3L38.4 168.6L38.4 168.0L38.4 167.4L38.4 166.8L38.4 166.1L38.4 165.5L38.4 164.9L38.4 164.2L38.4 163.6L38.4 163.0L38.4 162.3L38.4 161.7L38.4 161.1L38.4 160.4Z" fill="#dce3ef"/>
<path d="M39.0 160.4L39.7 160.4L40.4 160.4L41.1 160.4L41.7 160.4L42.4 160.4L43.1 160.4L43.8 160.4L44.4 160.4L45.1 160.4L45.8 160.4L46.5 160.4L47.1 160.4L47.8 160.4L48.5 160.4L49.2 160.4L49.8 160.4L50.5 160.4L51.2 160.4L51.9 160.4L52.5 160.4L53.2 160.4L53.9 160.4L54.6 160.4L55.3 160.4L55.9 160.4L56.6 160.4L57.3 160.4L58.0 160.4L58.6 160.4L59.3 160.4L60.0 160.4L60.7 160.4L61.3 160.4L62.0 160.4L62.7 160.4L63.4 160.4L64.0 160.4L64.7 160.4L65.4 160.4L66.1 160.4L66.7 160.4L67.4 160.4L68.1 160.4L68.8 160.4L69.4 160.4L70.1 160.4L70.8 160.4L71.5 160.4L72.2 160.4L72.8 160.4L73.5 160.4L74.2 160.4L74.9 160.4L75.5 160.4L76.2 160.4L76.9 160.4L77.6 160.4L78.2 160.4L78.9 160.4L79.6 160.4L80.3 160.4L80.9 160.4L81.6 160.4L82.3 160.4L83.0 160.4L83.6 160.4L84.3 160.4L85.0 160.4L85.7 160.4L86.4 160.4L87.0 160.4L87.7 160.4L88.4 160.4L89.1 160.4L89.7 160.4L90.4 160.4L91.1 160.4L91.8 160.4L92.4 160.4L93.1 160.4L93.8 160.4L94.5 160.4L95.1 160.4L95.8 160.4L96.5 160.4L97.2 160.4L97.8 160.4L98.5 160.4L99.2 160.4L99.9 160.4L100.5 160.4L101.2 160.4L101.9 160.4L102.6 160.4L103.3 160.4L103.9 160.4L104.6 160.4L105.3 160.4L106.0 160.4L106.6 160.4L107.3 160.4L108.0 160.4L108.7 160.4L109.3 160.4L110.0 160.4L110.7 160.4L111.4 160.4L112.0 160.4L112.7 160.4L113.4 160.4L114.1 160.4L114.7 160.4L115.4 160.4L116.1 160.4L116.8 160.4L117.4 160.4L118.1 160.4L118.8 160.4L119.5 160.4L120.2 160.4L120.8 160.4L121.5 160.4L122.2 160.4L122.9 160.4L123.5 160.4L124.2 160.4L124.9 160.4L125.6 160.4L126.2 160.4L126.9 160.4L127.6 160.4L128.3 160.4L128.9 160.4L129.6 160.4L130.3 160.4L131.0 160.4L131.6 160.4L132.3 160.4L133.0 160.4L133.7 160.4L134.4 160.4L135.0 160.4L135.7 160.4L136.4 160.4L137.1 160.4L137.7 160.4L138.4 160.4L139.1 160.4L139.8 160.4L140.4 160.4L141.1 160.4L141.8 160.4L142.5 160.4L143.1 160.4L143.8 160.4L144.5 160.4L145.2 160.4L145.8 160.4L146.5 160.4L147.2 160.4L147.9 160.4L148.5 160.4L149.2 160.4L149.9 160.4L150.6 160.4L151.3 160.4L151.9 160.4L152.6 160.4L153.3 160.4L154.0 160.4L154.6 160.4L155.3 160.4L156.0 160.4L156.7 160.4L157.3 160.4L158.0 160.4L158.7 160.4L159.4 160.4L160.0 160.4L160.7 160.4L161.4 160.4L162.1 160.4L162.7 160.4L163.3 160.5L163.2 161.1L163.1 161.7L163.0 162.3L162.8 163.0L162.7 163.4L162.7 163.6L162.6 164.2L162.4 164.9L162.3 165.5L162.2 166.1L162.1 166.7L162.0 166.8L161.9 167.4L161.8 168.0L161.7 168.6L161.5 169.3L161.4 169.9L161.4 169.9L161.3 170.5L161.1 171.2L161.0 171.8L160.8 172.4L160.7 173.0L160.7 173.1L160.6 173.7L160.4 174.3L160.3 175.0L160.1 175.6L160.0 176.0L160.0 176.2L159.8 176.8L159.7 177.5L159.6 178.1L159.4 178.7L159.4 178.9L159.3 179.4L159.1 180.0L158.9 180.6L158.8 181.3L158.7 181.7L158.6 181.9L158.5 182.5L158.3 183.2L158.1 183.8L158.0 184.3L158.0 184.4L157.8 185.0L157.6 185.7L157.5 186.3L157.3 186.7L157.3 186.9L157.1 187.6L156.9 188.2L156.7 188.8L156.7 189.0L156.5 189.5L156.3 190.1L156.1 190.7L156.0 191.2L155.9 191.4L155.7 192.0L155.5 192.6L155.3 193.2L155.3 193.2L155.1 193.9L154.9 194.5L154.6 195.1L154.6 195.1L154.4 195.8L154.1 196.4L154.0 196.9L153.9 197.0L153.6 197.7L153.4 198.3L153.3 198.5L153.1 198.9L152.8 199.6L152.6 200.0L152.5 200.2L152.2 200.8L151.9 201.4L151.9 201.5L151.6 202.1L151.3 202.7L151.3 202.8L151.0 203.3L150.6 204.0L150.6 204.1L150.3 204.6L149.9 205.2L149.9 205.3L149.6 205.9L149.2 206.4L149.2 206.5L148.8 207.1L148.5 207.5L148.4 207.8L147.9 208.4L147.9 208.5L147.5 209.0L147.2 209.4L147.0 209.6L146.6 210.3L146.5 210.3L146.1 210.9L145.8 211.2L145.5 211.5L145.2 212.0L145.0 212.2L144.5 212.8L144.5 212.8L143.9 213.4L143.8 213.5L143.3 214.1L143.1 214.2L142.7 214.7L142.5 214.9L142.1 215.3L141.8 215.6L141.4 216.0L141.1 216.2L140.7 216.6L140.4 216.8L140.0 217.2L139.8 217.4L139.3 217.8L139.1 218.0L138.5 218.5L138.4 218.5L137.7 219.1L137.7 219.1L137.1 219.6L136.9 219.7L136.4 220.1L136.0 220.4L135.7 220.6L135.1 221.0L135.0 221.0L134.4 221.5L134.2 221.6L133.7 221.9L133.2 222.3L133.0 222.4L132.3 222.8L132.2 222.9L131.6 223.2L131.1 223.5L131.0 223.6L130.3 224.0L130.0 224.2L129.6 224.4L128.9 224.7L128.9 224.8L128.3 225.1L127.7 225.4L127.6 225.5L126.9 225.8L126.5 226.0L126.2 226.2L125.6 226.5L125.2 226.7L124.9 226.8L124.2 227.1L123.8 227.3L123.5 227.4L122.9 227.8L122.5 227.9L122.2 228.1L121.5 228.4L121.0 228.6L120.8 228.6L120.2 228.9L119.5 229.2L119.5 229.2L118.8 229.5L118.1 229.8L117.9 229.8L117.4 230.0L116.8 230.3L116.3 230.5L116.1 230.5L115.4 230.8L114.7 231.0L114.6 231.1L114.1 231.3L113.4 231.5L112.9 231.7L112.7 231.8L112.0 232.0L111.4 232.2L111.0 232.4L110.7 232.5L110.0 232.7L109.3 232.9L109.1 233.0L108.7 233.1L108.0 233.4L107.3 233.6L107.2 233.6L106.6 233.8L106.0 234.0L105.3 234.2L105.1 234.2L104.6 234.4L103.9 234.6L103.3 234.8L103.0 234.9L102.6 235.0L101.9 235.2L101.2 235.4L100.8 235.5L100.5 235.6L99.9 235.8L99.2 235.9L98.5 236.1L98.5 236.1L97.8 236.3L97.2 236.5L96.5 236.7L96.1 236.8L95.8 236.8L95.1 237.0L94.5 237.2L93.8 237.3L93.6 237.4L93.1 237.5L92.4 237.7L91.8 237.8L91.1 238.0L91.0 238.0L90.4 238.2L89.7 238.3L89.1 238.5L88.4 238.6L88.3 238.7L87.7 238.8L87.0 239.0L86.4 239.1L85.7 239.3L85.5 239.3L85.0 239.4L84.3 239.6L83.6 239.7L83.0 239.9L82.7 239.9L82.3 240.0L81.6 240.1L80.9 240.3L80.3 240.4L79.7 240.6L79.6 240.6L78.9 240.7L78.2 240.8L77.6 241.0L76.9 241.1L76.6 241.2L76.2 241.3L75.5 241.4L74.9 241.5L74.2 241.7L73.5 241.8L73.3 241.8L72.8 241.9L72.2 242.0L71.5 242.2L70.8 242.3L70.1 242.4L70.0 242.4L69.4 242.5L68.8 242.7L68.1 242.8L67.4 242.9L66.7 243.0L66.5 243.1L66.1 243.2L65.4 243.3L64.7 243.4L64.0 243.5L63.4 243.6L62.9 243.7L62.7 243.7L62.0 243.9L61.3 244.0L60.7 244.1L60.0 244.2L59.3 244.3L59.2 244.3L58.6 244.4L58.0 244.5L57.3 244.7L56.6 244.8L55.9 244.9L55.3 245.0L55.3 245.0L54.6 245.1L53.9 245.2L53.2 245.3L52.5 245.4L51.9 245.5L51.3 245.6L51.2 245.6L50.5 245.7L49.8 245.8L49.2 245.9L48.5 246.0L47.8 246.1L47.2 246.2L47.1 246.2L46.5 246.3L45.8 246.4L45.1 246.5L44.4 246.6L43.8 246.7L43.1 246.8L42.9 246.9L42.4 246.9L41.7 247.0L41.1 247.1L40.4 247.2L39.7 247.3L39.0 247.4L38.4 247.5L38.4 247.5L38.4 247.5L38.4 246.9L38.4 246.2L38.4 245.6L38.4 245.0L38.4 244.3L38.4 243.7L38.4 243.1L38.4 242.4L38.4 241.8L38.4 241.2L38.4 240.6L38.4 239.9L38.4 239.3L38.4 238.7L38.4 238.0L38.4 237.4L38.4 236.8L38.4 236.1L38.4 235.5L38.4 234.9L38.4 234.2L38.4 233.6L38.4 233.0L38.4 232.4L38.4 231.7L38.4 231.1L38.4 230.5L38.4 229.8L38.4 229.2L38.4 228.6L38.4 227.9L38.4 227.3L38.4 226.7L38.4 226.0L38.4 225.4L38.4 224.8L38.4 224.2L38.4 223.5L38.4 222.9L38.4 222.3L38.4 221.6L38.4 221.0L38.4 220.4L38.4 219.7L38.4 219.1L38.4 218.5L38.4 217.8L38.4 217.2L38.4 216.6L38.4 216.0L38.4 215.3L38.4 214.7L38.4 214.1L38.4 213.4L38.4 212.8L38.4 212.2L38.4 211.5L38.4 210.9L38.4 210.3L38.4 209.6L38.4 209.0L38.4 208.4L38.4 207.8L38.4 207.1L38.4 206.5L38.4 205.9L38.4 205.2L38.4 204.6L38.4 204.0L38.4 203.3L38.4 202.7L38.4 202.1L38.4 201.4L38.4 200.8L38.4 200.2L38.4 199.6L38.4 198.9L38.4 198.3L38.4 197.7L38.4 197.0L38.4 196.4L38.4 195.8L38.4 195.1L38.4 194.5L38.4 193.9L38.4 193.2L38.4 192.6L38.4 192.0L38.4 191.4L38.4 190.7L38.4 190.1L38.4 189.5L38.4 188.8L38.4 188.2L38.4 187.6L38.4 186.9L38.4 186.3L38.4 185.7L38.4 185.0L38.4 184.4L38.4 183.8L38.4 183.2L38.4 182.5L38.4 181.9L38.4 181.3L38.4 180.6L38.4 180.0L38.4 179.4L38.4 178.7L38.4 178.1L38.4 177.5L38.4 176.8L38.4 176.2L38.4 175.6L38.4 175.0L38.4 174.3L38.4 173.7L38.4 173.1L38.4 172.4L38.4 171.8L38.4 171.2L38.4 170.5L38.4 169.9L38.4 169.3L38.4 168.6L38.4 168.0L38.4 167.4L38.4 166.8L38.4 166.1L38.4 165.5L38.4 164.9L38.4 164.2L38.4 163.6L38.4 163.0L38.4 162.3L38.4 161.7L38.4 161.1L38.4 160.4Z" fill="#c5d4ea"/>
<path d="M39.0 160.4L39.7 160.4L40.4 160.4L41.1 160.4L41.7 160.4L42.4 160.4L43.1 160.4L43.8 160.4L44.4 160.4L45.1 160.4L45.8 160.4L46.5 160.4L47.1 160.4L47.8 160.4L48.5 160.4L49.2 160.4L49.8 160.4L50.5 160.4L51.2 160.4L51.9 160.4L52.5 160.4L53.2 160.4L53.9 160.4L54.6 160.4L55.3 160.4L55.9 160.4L56.6 160.4L57.3 160.4L58.0 160.4L58.6 160.4L59.3 160.4L60.0 160.4L60.7 160.4L61.3 160.4L62.0 160.4L62.7 160.4L63.4 160.4L64.0 160.4L64.7 160.4L65.4 160.4L66.1 160.4L66.7 160.4L67.4 160.4L68.1 160.4L68.8 160.4L69.4 160.4L70.1 160.4L70.8 160.4L71.5 160.4L72.2 160.4L72.8 160.4L73.5 160.4L74.2 160.4L74.9 160.4L75.5 160.4L76.2 160.4L76.9 160.4L77.6 160.4L78.2 160.4L78.9 160.4L79.6 160.4L80.3 160.4L80.9 160.4L81.6 160.4L82.3 160.4L83.0 160.4L83.6 160.4L84.3 160.4L85.0 160.4L85.7 160.4L86.4 160.4L87.0 160.4L87.7 160.4L88.4 160.4L89.1 160.4L89.7 160.4L90.4 160.4L91.1 160.4L91.8 160.4L92.4 160.4L93.1 160.4L93.8 160.4L94.5 160.4L95.1 160.4L95.8 160.4L96.5 160.4L97.2 160.4L97.8 160.4L98.5 160.4L99.2 160.4L99.9 160.4L100.5 160.4L101.2 160.4L101.9 160.4L102.6 160.4L103.3 160.4L103.9 160.4L104.6 160.4L105.3 160.4L106.0 160.4L106.6 160.4L107.3 160.4L108.0 160.4L108.7 160.4L109.3 160.4L110.0 160.4L110.7 160.4L111.4 160.4L112.0 160.4L112.7 160.4L113.4 160.4L114.1 160.4L114.7 160.4L115.4 160.4L116.1 160.4L116.8 160.4L117.4 160.4L118.1 160.4L118.8 160.4L119.5 160.4L120.2 160.4L120.8 160.4L121.5 160.4L122.2 160.4L122.9 160.4L123.5 160.4L124.2 160.4L124.9 160.4L125.6 160.4L126.2 160.4L126.9 160.4L127.6 160.4L128.3 160.4L128.9 160.4L129.6 160.4L130.3 160.4L131.0 160.4L131.6 160.4L132.3 160.4L133.0 160.4L133.7 160.4L134.4 160.4L135.0 160.4L135.7 160.4L136.4 160.4L137.1 160.4L137.7 160.4L138.4 160.4L139.1 160.4L139.8 160.4L140.4 160.4L141.1 160.4L141.8 160.4L142.5 160.4L143.1 160.4L143.8 160.4L144.5 160.4L145.0 160.4L144.8 161.1L144.7 161.7L144.6 162.3L144.5 162.9L144.5 163.0L144.4 163.6L144.2 164.2L144.1 164.9L144.0 165.5L143.9 166.1L143.8 166.4L143.7 166.8L143.6 167.4L143.5 168.0L143.4 168.6L143.2 169.3L143.1 169.7L143.1 169.9L143.0 170.5L142.8 171.2L142.7 171.8L142.6 172.4L142.5 172.9L142.4 173.1L142.3 173.7L142.2 174.3L142.0 175.0L141.9 175.6L141.8 176.0L141.7 176.2L141.6 176.8L141.5 177.5L141.3 178.1L141.2 178.7L141.1 179.0L141.0 179.4L140.9 180.0L140.7 180.6L140.6 181.3L140.4 181.8L140.4 181.9L140.2 182.5L140.1 183.2L139.9 183.8L139.8 184.4L139.8 184.4L139.6 185.0L139.4 185.7L139.2 186.3L139.1 186.9L139.1 186.9L138.9 187.6L138.7 188.2L138.5 188.8L138.4 189.2L138.3 189.5L138.1 190.1L137.9 190.7L137.7 191.3L137.7 191.4L137.5 192.0L137.3 192.6L137.1 193.2L137.1 193.3L136.9 193.9L136.6 194.5L136.4 195.1L136.4 195.2L136.2 195.8L135.9 196.4L135.7 196.9L135.6 197.0L135.4 197.7L135.1 198.3L135.0 198.5L134.8 198.9L134.6 199.6L134.4 200.0L134.3 200.2L134.0 200.8L133.7 201.4L133.7 201.4L133.3 202.1L133.0 202.7L133.0 202.7L132.7 203.3L132.3 204.0L132.3 204.0L132.0 204.6L131.6 205.1L131.6 205.2L131.2 205.9L131.0 206.2L130.8 206.5L130.4 207.1L130.3 207.2L129.9 207.8L129.6 208.2L129.5 208.4L129.0 209.0L128.9 209.1L128.6 209.6L128.3 210.0L128.1 210.3L127.6 210.9L127.5 210.9L127.0 211.5L126.9 211.7L126.5 212.2L126.2 212.4L125.9 212.8L125.6 213.1L125.3 213.4L124.9 213.8L124.7 214.1L124.2 214.5L124.0 214.7L123.5 215.2L123.4 215.3L122.9 215.8L122.7 216.0L122.2 216.4L121.9 216.6L121.5 216.9L121.2 217.2L120.8 217.5L120.4 217.8L120.2 218.0L119.6 218.5L119.5 218.6L118.8 219.1L118.7 219.1L118.1 219.5L117.9 219.7L117.4 220.0L116.9 220.4L116.8 220.5L116.1 220.9L116.0 221.0L115.4 221.4L115.0 221.6L114.7 221.8L114.1 222.2L113.9 222.3L113.4 222.6L112.9 222.9L112.7 223.0L112.0 223.4L111.7 223.5L111.4 223.7L110.7 224.1L110.6 224.2L110.0 224.4L109.4 224.8L109.3 224.8L108.7 225.1L108.1 225.4L108.0 225.5L107.3 225.8L106.8 226.0L106.6 226.1L106.0 226.4L105.4 226.7L105.3 226.7L104.6 227.0L104.0 227.3L103.9 227.3L103.3 227.6L102.6 227.9L102.5 227.9L101.9 228.2L101.2 228.4L100.9 228.6L100.5 228.7L99.9 229.0L99.3 229.2L99.2 229.2L98.5 229.5L97.8 229.8L97.6 229.8L97.2 230.0L96.5 230.2L95.9 230.5L95.8 230.5L95.1 230.7L94.5 231.0L94.1 231.1L93.8 231.2L93.1 231.4L92.4 231.6L92.2 231.7L91.8 231.8L91.1 232.1L90.4 232.3L90.2 232.4L89.7 232.5L89.1 232.7L88.4 232.9L88.1 233.0L87.7 233.1L87.0 233.3L86.4 233.5L86.0 233.6L85.7 233.7L85.0 233.9L84.3 234.1L83.7 234.2L83.6 234.3L83.0 234.5L82.3 234.6L81.6 234.8L81.4 234.9L80.9 235.0L80.3 235.2L79.6 235.4L79.0 235.5L78.9 235.5L78.2 235.7L77.6 235.9L76.9 236.0L76.5 236.1L76.2 236.2L75.5 236.4L74.9 236.5L74.2 236.7L73.9 236.8L73.5 236.9L72.8 237.0L72.2 237.2L71.5 237.3L71.2 237.4L70.8 237.5L70.1 237.6L69.4 237.8L68.8 237.9L68.3 238.0L68.1 238.1L67.4 238.2L66.7 238.4L66.1 238.5L65.4 238.7L65.4 238.7L64.7 238.8L64.0 238.9L63.4 239.1L62.7 239.2L62.3 239.3L62.0 239.4L61.3 239.5L60.7 239.6L60.0 239.8L59.3 239.9L59.1 239.9L58.6 240.0L58.0 240.1L57.3 240.3L56.6 240.4L55.9 240.5L55.8 240.6L55.3 240.7L54.6 240.8L53.9 240.9L53.2 241.0L52.5 241.2L52.4 241.2L51.9 241.3L51.2 241.4L50.5 241.5L49.8 241.6L49.2 241.7L48.8 241.8L48.5 241.9L47.8 242.0L47.1 242.1L46.5 242.2L45.8 242.3L45.1 242.4L45.1 242.4L44.4 242.5L43.8 242.7L43.1 242.8L42.4 242.9L41.7 243.0L41.2 243.1L41.1 243.1L40.4 243.2L39.7 243.3L39.0 243.4L38.4 243.5L38.4 243.1L38.4 242.4L38.4 241.8L38.4 241.2L38.4 240.6L38.4 239.9L38.4 239.3L38.4 238.7L38.4 238.0L38.4 237.4L38.4 236.8L38.4 236.1L38.4 235.5L38.4 234.9L38.4 234.2L38.4 233.6L38.4 233.0L38.4 232.4L38.4 231.7L38.4 231.1L38.4 230.5L38.4 229.8L38.4 229.2L38.4 228.6L38.4 227.9L38.4 227.3L38.4 226.7L38.4 226.0L38.4 225.4L38.4 224.8L38.4 224.2L38.4 223.5L38.4 222.9L38.4 222.3L38.4 221.6L38.4 221.0L38.4 220.4L38.4 219.7L38.4 219.1L38.4 218.5L38.4 217.8L38.4 217.2L38.4 216.6L38.4 216.0L38.4 215.3L38.4 214.7L38.4 214.1L38.4 213.4L38.4 212.8L38.4 212.2L38.4 211.5L38.4 210.9L38.4 210.3L38.4 209.6L38.4 209.0L38.4 208.4L38.4 207.8L38.4 207.1L38.4 206.5L38.4 205.9L38.4 205.2L38.4 204.6L38.4 204.0L38.4 203.3L38.4 202.7L38.4 202.1L38.4 201.4L38.4 200.8L38.4 200.2L38.4 199.6L38.4 198.9L38.4 198.3L38.4 197.7L38.4 197.0L38.4 196.4L38.4 195.8L38.4 195.1L38.4 194.5L38.4 193.9L38.4 193.2L38.4 192.6L38.4 192.0L38.4 191.4L38.4 190.7L38.4 190.1L38.4 189.5L38.4 188.8L38.4 188.2L38.4 187.6L38.4 186.9L38.4 186.3L38.4 185.7L38.4 185.0L38.4 184.4L38.4 183.8L38.4 183.2L38.4 182.5L38.4 181.9L38.4 181.3L38.4 180.6L38.4 180.0L38.4 179.4L38.4 178.7L38.4 178.1L38.4 177.5L38.4 176.8L38.4 176.2L38.4 175.6L38.4 175.0L38.4 174.3L38.4 173.7L38.4 173.1L38.4 172.4L38.4 171.8L38.4 171.2L38.4 170.5L38.4 169.9L38.4 169.3L38.4 168.6L38.4 168.0L38.4 167.4L38.4 166.8L38.4 166.1L38.4 165.5L38.4 164.9L38.4 164.2L38.4 163.6L38.4 163.0L38.4 162.3L38.4 161.7L38.4 161.1L38.4 160.4Z" fill="#b1c8e4"/>
<path d="M39.0 160.4L39.7 160.4L40.4 160.4L41.1 160.4L41.7 160.4L42.4 160.4L43.1 160.4L43.8 160.4L44.4 160.4L45.1 160.4L45.8 160.4L46.5 160.4L47.1 160.4L47.8 160.4L48.5 160.4L49.2 160.4L49.8 160.4L50.5 160.4L51.2 160.4L51.9 160.4L52.5 160.4L53.2 160.4L53.9 160.4L54.6 160.4L55.3 160.4L55.9 160.4L56.6 160.4L57.3 160.4L58.0 160.4L58.6 160.4L59.3 160.4L60.0 160.4L60.7 160.4L61.3 160.4L62.0 160.4L62.7 160.4L63.4 160.4L64.0 160.4L64.7 160.4L65.4 160.4L66.1 160.4L66.7 160.4L67.4 160.4L68.1 160.4L68.8 160.4L69.4 160.4L70.1 160.4L70.8 160.4L71.5 160.4L72.2 160.4L72.8 160.4L73.5 160.4L74.2 160.4L74.9 160.4L75.5 160.4L76.2 160.4L76.9 160.4L77.6 160.4L78.2 160.4L78.9 160.4L79.6 160.4L80.3 160.4L80.9 160.4L81.6 160.4L82.3 160.4L83.0 160.4L83.6 160.4L84.3 160.4L85.0 160.4L85.7 160.4L86.4 160.4L87.0 160.4L87.7 160.4L88.4 160.4L89.1 160.4L89.7 160.4L90.4 160.4L91.1 160.4L91.8 160.4L92.4 160.4L93.1 160.4L93.8 160.4L94.5 160.4L95.1 160.4L95.8 160.4L96.5 160.4L97.2 160.4L97.8 160.4L98.5 160.4L99.2 160.4L99.9 160.4L100.5 160.4L101.2 160.4L101.9 160.4L102.6 160.4L103.3 160.4L103.9 160.4L104.6 160.4L105.3 160.4L106.0 160.4L106.6 160.4L107.3 160.4L108.0 160.4L108.7 160.4L109.3 160.4L110.0 160.4L110.7 160.4L111.4 160.4L112.0 160.4L112.7 160.4L113.4 160.4L114.1 160.4L114.7 160.4L115.4 160.4L116.1 160.4L116.8 160.4L117.4 160.4L118.1 160.4L118.8 160.4L119.5 160.4L120.2 160.4L120.8 160.4L121.5 160.4L122.2 160.4L122.9 160.4L123.5 160.4L124.2 160.4L124.9 160.4L125.6 160.4L126.2 160.4L126.9 160.4L127.6 160.4L128.3 160.4L128.5 160.4L128.4 161.1L128.3 161.7L128.3 161.7L128.1 162.3L128.0 163.0L127.9 163.6L127.8 164.2L127.7 164.9L127.6 165.2L127.5 165.5L127.4 166.1L127.3 166.8L127.2 167.4L127.0 168.0L126.9 168.6L126.9 168.6L126.8 169.3L126.7 169.9L126.5 170.5L126.4 171.2L126.3 171.8L126.2 171.9L126.1 172.4L126.0 173.1L125.9 173.7L125.7 174.3L125.6 175.0L125.6 175.1L125.4 175.6L125.3 176.2L125.2 176.8L125.0 177.5L124.9 178.1L124.9 178.1L124.7 178.7L124.6 179.4L124.4 180.0L124.3 180.6L124.2 180.9L124.1 181.3L124.0 181.9L123.8 182.5L123.6 183.2L123.5 183.6L123.5 183.8L123.3 184.4L123.1 185.0L123.0 185.7L122.9 186.1L122.8 186.3L122.6 186.9L122.4 187.6L122.2 188.2L122.2 188.4L122.0 188.8L121.9 189.5L121.7 190.1L121.5 190.6L121.5 190.7L121.2 191.4L121.0 192.0L120.8 192.6L120.8 192.6L120.6 193.2L120.4 193.9L120.2 194.4L120.1 194.5L119.9 195.1L119.6 195.8L119.5 196.2L119.4 196.4L119.1 197.0L118.9 197.7L118.8 197.8L118.6 198.3L118.3 198.9L118.1 199.3L118.0 199.6L117.7 200.2L117.4 200.7L117.4 200.8L117.1 201.4L116.8 202.0L116.7 202.1L116.4 202.7L116.1 203.2L116.0 203.3L115.7 204.0L115.4 204.4L115.3 204.6L114.9 205.2L114.7 205.5L114.5 205.9L114.1 206.5L114.1 206.5L113.6 207.1L113.4 207.5L113.2 207.8L112.7 208.4L112.7 208.4L112.3 209.0L112.0 209.3L111.7 209.6L111.4 210.1L111.2 210.3L110.7 210.9L110.7 210.9L110.1 211.5L110.0 211.7L109.5 212.2L109.3 212.4L108.9 212.8L108.7 213.1L108.3 213.4L108.0 213.7L107.7 214.1L107.3 214.4L107.0 214.7L106.6 215.0L106.3 215.3L106.0 215.6L105.5 216.0L105.3 216.2L104.8 216.6L104.6 216.7L104.0 217.2L103.9 217.2L103.3 217.8L103.1 217.8L102.6 218.3L102.3 218.5L101.9 218.7L101.4 219.1L101.2 219.2L100.5 219.7L100.4 219.7L99.9 220.1L99.5 220.4L99.2 220.5L98.5 221.0L98.5 221.0L97.8 221.4L97.4 221.6L97.2 221.8L96.5 222.1L96.3 222.3L95.8 222.5L95.1 222.9L95.1 222.9L94.5 223.3L93.9 223.5L93.8 223.6L93.1 223.9L92.7 224.2L92.4 224.3L91.8 224.6L91.4 224.8L91.1 224.9L90.4 225.2L90.0 225.4L89.7 225.6L89.1 225.9L88.6 226.0L88.4 226.2L87.7 226.4L87.2 226.7L87.0 226.7L86.4 227.0L85.7 227.3L85.6 227.3L85.0 227.6L84.3 227.8L84.0 227.9L83.6 228.1L83.0 228.3L82.4 228.6L82.3 228.6L81.6 228.8L80.9 229.1L80.6 229.2L80.3 229.3L79.6 229.6L78.9 229.8L78.8 229.8L78.2 230.0L77.6 230.3L76.9 230.5L76.9 230.5L76.2 230.7L75.5 230.9L75.0 231.1L74.9 231.1L74.2 231.3L73.5 231.5L72.9 231.7L72.8 231.7L72.2 231.9L71.5 232.1L70.8 232.3L70.8 232.4L70.1 232.5L69.4 232.7L68.8 232.9L68.5 233.0L68.1 233.1L67.4 233.3L66.7 233.5L66.2 233.6L66.1 233.7L65.4 233.8L64.7 234.0L64.0 234.2L63.8 234.2L63.4 234.4L62.7 234.5L62.0 234.7L61.3 234.9L61.3 234.9L60.7 235.0L60.0 235.2L59.3 235.3L58.6 235.5L58.6 235.5L58.0 235.7L57.3 235.8L56.6 236.0L55.9 236.1L55.9 236.1L55.3 236.3L54.6 236.4L53.9 236.6L53.2 236.7L53.0 236.8L52.5 236.9L51.9 237.0L51.2 237.2L50.5 237.3L50.0 237.4L49.8 237.4L49.2 237.6L48.5 237.7L47.8 237.9L47.1 238.0L46.9 238.0L46.5 238.1L45.8 238.3L45.1 238.4L44.4 238.5L43.8 238.6L43.7 238.7L43.1 238.8L42.4 238.9L41.7 239.0L41.1 239.2L40.4 239.3L40.3 239.3L39.7 239.4L39.0 239.5L38.4 239.6L38.4 239.3L38.4 238.7L38.4 238.0L38.4 237.4L38.4 236.8L38.4 236.1L38.4 235.5L38.4 234.9L38.4 234.2L38.4 233.6L38.4 233.0L38.4 232.4L38.4 231.7L38.4 231.1L38.4 230.5L38.4 229.8L38.4 229.2L38.4 228.6L38.4 227.9L38.4 227.3L38.4 226.7L38.4 226.0L38.4 225.4L38.4 224.8L38.4 224.2L38.4 223.5L38.4 222.9L38.4 222.3L38.4 221.6L38.4 221.0L38.4 220.4L38.4 219.7L38.4 219.1L38.4 218.5L38.4 217.8L38.4 217.2L38.4 216.6L38.4 216.0L38.4 215.3L38.4 214.7L38.4 214.1L38.4 213.4L38.4 212.8L38.4 212.2L38.4 211.5L38.4 210.9L38.4 210.3L38.4 209.6L38.4 209.0L38.4 208.4L38.4 207.8L38.4 207.1L38.4 206.5L38.4 205.9L38.4 205.2L38.4 204.6L38.4 204.0L38.4 203.3L38.4 202.7L38.4 202.1L38.4 201.4L38.4 200.8L38.4 200.2L38.4 199.6L38.4 198.9L38.4 198.3L38.4 197.7L38.4 197.0L38.4 196.4L38.4 195.8L38.4 195.1L38.4 194.5L38.4 193.9L38.4 193.2L38.4 192.6L38.4 192.0L38.4 191.4L38.4 190.7L38.4 190.1L38.4 189.5L38.4 188.8L38.4 188.2L38.4 187.6L38.4 186.9L38.4 186.3L38.4 185.7L38.4 185.0L38.4 184.4L38.4 183.8L38.4 183.2L38.4 182.5L38.4 181.9L38.4 181.3L38.4 180.6L38.4 180.0L38.4 179.4L38.4 178.7L38.4 178.1L38.4 177.5L38.4 176.8L38.4 176.2L38.4 175.6L38.4 175.0L38.4 174.3L38.4 173.7L38.4 173.1L38.4 172.4L38.4 171.8L38.4 171.2L38.4 170.5L38.4 169.9L38.4 169.3L38.4 168.6L38.4 168.0L38.4 167.4L38.4 166.8L38.4 166.1L38.4 165.5L38.4 164.9L38.4 164.2L38.4 163.6L38.4 163.0L38.4 162.3L38.4 161.7L38.4 161.1L38.4 160.4Z" fill="#a0bcde"/>
<path d="M39.0 160.4L39.7 160.4L40.4 160.4L41.1 160.4L41.7 160.4L42.4 160.4L43.1 160.4L43.8 160.4L44.4 160.4L45.1 160.4L45.8 160.4L46.5 160.4L47.1 160.4L47.8 160.4L48.5 160.4L49.2 160.4L49.8 160.4L50.5 160.4L51.2 160.4L51.9 160.4L52.5 160.4L53.2 160.4L53.9 160.4L54.6 160.4L55.3 160.4L55.9 160.4L56.6 160.4L57.3 160.4L58.0 160.4L58.6 160.4L59.3 160.4L60.0 160.4L60.7 160.4L61.3 160.4L62.0 160.4L62.7 160.4L63.4 160.4L64.0 160.4L64.7 160.4L65.4 160.4L66.1 160.4L66.7 160.4L67.4 160.4L68.1 160.4L68.8 160.4L69.4 160.4L70.1 160.4L70.8 160.4L71.5 160.4L72.2 160.4L72.8 160.4L73.5 160.4L74.2 160.4L74.9 160.4L75.5 160.4L76.2 160.4L76.9 160.4L77.6 160.4L78.2 160.4L78.9 160.4L79.6 160.4L80.3 160.4L80.9 160.4L81.6 160.4L82.3 160.4L83.0 160.4L83.6 160.4L84.3 160.4L85.0 160.4L85.7 160.4L86.4 160.4L87.0 160.4L87.7 160.4L88.4 160.4L89.1 160.4L89.7 160.4L90.4 160.4L91.1 160.4L91.8 160.4L92.4 160.4L93.1 160.4L93.8 160.4L94.5 160.4L95.1 160.4L95.8 160.4L96.5 160.4L97.2 160.4L97.8 160.4L98.5 160.4L99.2 160.4L99.9 160.4L100.5 160.4L101.2 160.4L101.9 160.4L102.6 160.4L103.3 160.4L103.9 160.4L104.6 160.4L105.3 160.4L106.0 160.4L106.6 160.4L107.3 160.4L108.0 160.4L108.7 160.4L109.3 160.4L110.0 160.4L110.7 160.4L111.4 160.4L112.0 160.4L112.7 160.4L113.4 160.4L113.4 160.4L113.4 160.5L113.3 161.1L113.2 161.7L113.0 162.3L112.9 163.0L112.8 163.6L112.7 164.0L112.7 164.2L112.6 164.9L112.4 165.5L112.3 166.1L112.2 166.8L112.1 167.4L112.0 167.5L111.9 168.0L111.8 168.6L111.7 169.3L111.5 169.9L111.4 170.5L111.4 170.8L111.3 171.2L111.2 171.8L111.0 172.4L110.9 173.1L110.7 173.7L110.7 174.0L110.6 174.3L110.5 175.0L110.3 175.6L110.2 176.2L110.0 176.8L110.0 177.0L109.9 177.5L109.8 178.1L109.6 178.7L109.5 179.4L109.3 179.9L109.3 180.0L109.1 180.6L109.0 181.3L108.8 181.9L108.7 182.5L108.7 182.5L108.5 183.2L108.3 183.8L108.2 184.4L108.0 185.0L108.0 185.1L107.8 185.7L107.6 186.3L107.4 186.9L107.3 187.4L107.3 187.6L107.1 188.2L106.9 188.8L106.7 189.5L106.6 189.6L106.5 190.1L106.3 190.7L106.0 191.4L106.0 191.6L105.8 192.0L105.6 192.6L105.4 193.2L105.3 193.5L105.1 193.9L104.9 194.5L104.6 195.1L104.6 195.2L104.4 195.8L104.1 196.4L103.9 196.9L103.9 197.0L103.6 197.7L103.3 198.3L103.3 198.4L103.0 198.9L102.7 199.6L102.6 199.8L102.4 200.2L102.0 200.8L101.9 201.1L101.7 201.4L101.4 202.1L101.2 202.3L101.0 202.7L100.6 203.3L100.5 203.5L100.3 204.0L99.9 204.6L99.9 204.6L99.5 205.2L99.2 205.6L99.0 205.9L98.6 206.5L98.5 206.6L98.1 207.1L97.8 207.5L97.7 207.8L97.2 208.4L97.2 208.4L96.7 209.0L96.5 209.2L96.1 209.6L95.8 210.0L95.6 210.3L95.1 210.8L95.0 210.9L94.5 211.5L94.4 211.5L93.8 212.2L93.8 212.2L93.2 212.8L93.1 212.9L92.5 213.4L92.4 213.5L91.8 214.1L91.8 214.1L91.1 214.7L91.1 214.7L90.4 215.3L90.4 215.3L89.7 215.8L89.6 216.0L89.1 216.4L88.8 216.6L88.4 216.9L87.9 217.2L87.7 217.4L87.1 217.8L87.0 217.9L86.4 218.3L86.1 218.5L85.7 218.8L85.2 219.1L85.0 219.2L84.3 219.7L84.2 219.7L83.6 220.1L83.2 220.4L83.0 220.5L82.3 220.9L82.1 221.0L81.6 221.3L80.9 221.6L80.9 221.6L80.3 222.0L79.8 222.3L79.6 222.4L78.9 222.7L78.6 222.9L78.2 223.0L77.6 223.4L77.3 223.5L76.9 223.7L76.2 224.0L75.9 224.2L75.5 224.3L74.9 224.6L74.6 224.8L74.2 224.9L73.5 225.2L73.1 225.4L72.8 225.5L72.2 225.8L71.6 226.0L71.5 226.1L70.8 226.4L70.1 226.6L70.0 226.7L69.4 226.9L68.8 227.2L68.4 227.3L68.1 227.4L67.4 227.7L66.7 227.9L66.7 227.9L66.1 228.1L65.4 228.4L64.9 228.6L64.7 228.6L64.0 228.8L63.4 229.1L63.0 229.2L62.7 229.3L62.0 229.5L61.3 229.7L61.0 229.8L60.7 229.9L60.0 230.2L59.3 230.4L59.0 230.5L58.6 230.6L58.0 230.8L57.3 231.0L56.9 231.1L56.6 231.2L55.9 231.4L55.3 231.6L54.7 231.7L54.6 231.7L53.9 231.9L53.2 232.1L52.5 232.3L52.3 232.4L51.9 232.5L51.2 232.7L50.5 232.8L49.9 233.0L49.8 233.0L49.2 233.2L48.5 233.3L47.8 233.5L47.4 233.6L47.1 233.7L46.5 233.8L45.8 234.0L45.1 234.2L44.8 234.2L44.4 234.3L43.8 234.5L43.1 234.6L42.4 234.8L42.0 234.9L41.7 234.9L41.1 235.1L40.4 235.2L39.7 235.4L39.1 235.5L39.0 235.5L38.4 235.7L38.4 235.5L38.4 234.9L38.4 234.2L38.4 233.6L38.4 233.0L38.4 232.4L38.4 231.7L38.4 231.1L38.4 230.5L38.4 229.8L38.4 229.2L38.4 228.6L38.4 227.9L38.4 227.3L38.4 226.7L38.4 226.0L38.4 225.4L38.4 224.8L38.4 224.2L38.4 223.5L38.4 222.9L38.4 222.3L38.4 221.6L38.4 221.0L38.4 220.4L38.4 219.7L38.4 219.1L38.4 218.5L38.4 217.8L38.4 217.2L38.4 216.6L38.4 216.0L38.4 215.3L38.4 214.7L38.4 214.1L38.4 213.4L38.4 212.8L38.4 212.2L38.4 211.5L38.4 210.9L38.4 210.3L38.4 209.6L38.4 209.0L38.4 208.4L38.4 207.8L38.4 207.1L38.4 206.5L38.4 205.9L38.4 205.2L38.4 204.6L38.4 204.0L38.4 203.3L38.4 202.7L38.4 202.1L38.4 201.4L38.4 200.8L38.4 200.2L38.4 199.6L38.4 198.9L38.4 198.3L38.4 197.7L38.4 197.0L38.4 196.4L38.4 195.8L38.4 195.1L38.4 194.5L38.4 193.9L38.4 193.2L38.4 192.6L38.4 192.0L38.4 191.4L38.4 190.7L38.4 190.1L38.4 189.5L38.4 188.8L38.4 188.2L38.4 187.6L38.4 186.9L38.4 186.3L38.4 185.7L38.4 185.0L38.4 184.4L38.4 183.8L38.4 183.2L38.4 182.5L38.4 181.9L38.4 181.3L38.4 180.6L38.4 180.0L38.4 179.4L38.4 178.7L38.4 178.1L38.4 177.5L38.4 176.8L38.4 176.2L38.4 175.6L38.4 175.0L38.4 174.3L38.4 173.7L38.4 173.1L38.4 172.4L38.4 171.8L38.4 171.2L38.4 170.5L38.4 169.9L38.4 169.3L38.4 168.6L38.4 168.0L38.4 167.4L38.4 166.8L38.4 166.1L38.4 165.5L38.4 164.9L38.4 164.2L38.4 163.6L38.4 163.0L38.4 162.3L38.4 161.7L38.4 161.1L38.4 160.4Z" fill="#8dadd4"/>
<path d="M39.0 160.4L39.7 160.4L40.4 160.4L41.1 160.4L41.7 160.4L42.4 160.4L43.1 160.4L43.8 160.4L44.4 160.4L45.1 160.4L45.8 160.4L46.5 160.4L47.1 160.4L47.8 160.4L48.5 160.4L49.2 160.4L49.8 160.4L50.5 160.4L51.2 160.4L51.9 160.4L52.5 160.4L53.2 160.4L53.9 160.4L54.6 160.4L55.3 160.4L55.9 160.4L56.6 160.4L57.3 160.4L58.0 160.4L58.6 160.4L59.3 160.4L60.0 160.4L60.7 160.4L61.3 160.4L62.0 160.4L62.7 160.4L63.4 160.4L64.0 160.4L64.7 160.4L65.4 160.4L66.1 160.4L66.7 160.4L67.4 160.4L68.1 160.4L68.8 160.4L69.4 160.4L70.1 160.4L70.8 160.4L71.5 160.4L72.2 160.4L72.8 160.4L73.5 160.4L74.2 160.4L74.9 160.4L75.5 160.4L76.2 160.4L76.9 160.4L77.6 160.4L78.2 160.4L78.9 160.4L79.6 160.4L80.3 160.4L80.9 160.4L81.6 160.4L82.3 160.4L83.0 160.4L83.6 160.4L84.3 160.4L85.0 160.4L85.7 160.4L86.4 160.4L87.0 160.4L87.7 160.4L88.4 160.4L89.1 160.4L89.7 160.4L90.4 160.4L91.1 160.4L91.8 160.4L92.4 160.4L93.1 160.4L93.8 160.4L94.5 160.4L95.1 160.4L95.8 160.4L96.5 160.4L97.2 160.4L97.8 160.4L98.5 160.4L99.2 160.4L99.3 160.4L99.2 161.1L99.2 161.1L99.1 161.7L99.0 162.3L98.8 163.0L98.7 163.6L98.6 164.2L98.5 164.6L98.5 164.9L98.3 165.5L98.2 166.1L98.1 166.8L98.0 167.4L97.8 168.0L97.8 168.0L97.7 168.6L97.6 169.3L97.4 169.9L97.3 170.5L97.2 171.2L97.2 171.2L97.0 171.8L96.9 172.4L96.8 173.1L96.6 173.7L96.5 174.3L96.5 174.3L96.3 175.0L96.2 175.6L96.1 176.2L95.9 176.8L95.8 177.3L95.8 177.5L95.6 178.1L95.5 178.7L95.3 179.4L95.1 180.0L95.1 180.0L95.0 180.6L94.8 181.3L94.7 181.9L94.5 182.5L94.5 182.6L94.3 183.2L94.2 183.8L94.0 184.4L93.8 185.0L93.8 185.1L93.6 185.7L93.4 186.3L93.2 186.9L93.1 187.4L93.0 187.6L92.8 188.2L92.6 188.8L92.4 189.5L92.4 189.5L92.2 190.1L92.0 190.7L91.8 191.4L91.8 191.4L91.6 192.0L91.3 192.6L91.1 193.2L91.1 193.3L90.8 193.9L90.6 194.5L90.4 195.0L90.3 195.1L90.1 195.8L89.8 196.4L89.7 196.6L89.5 197.0L89.2 197.7L89.1 198.0L88.9 198.3L88.6 198.9L88.4 199.4L88.3 199.6L88.0 200.2L87.7 200.7L87.6 200.8L87.3 201.4L87.0 201.9L86.9 202.1L86.6 202.7L86.4 203.0L86.2 203.3L85.8 204.0L85.7 204.1L85.3 204.6L85.0 205.1L84.9 205.2L84.5 205.9L84.3 206.1L84.0 206.5L83.6 207.0L83.5 207.1L83.0 207.8L83.0 207.8L82.5 208.4L82.3 208.7L82.0 209.0L81.6 209.4L81.4 209.6L80.9 210.2L80.9 210.3L80.3 210.9L80.3 210.9L79.6 211.5L79.6 211.6L79.0 212.2L78.9 212.2L78.3 212.8L78.2 212.9L77.6 213.4L77.6 213.5L76.9 214.1L76.9 214.1L76.2 214.6L76.1 214.7L75.5 215.2L75.3 215.3L74.9 215.7L74.5 216.0L74.2 216.2L73.7 216.6L73.5 216.7L72.8 217.2L72.8 217.2L72.2 217.6L71.8 217.8L71.5 218.1L70.9 218.5L70.8 218.5L70.1 218.9L69.8 219.1L69.4 219.3L68.8 219.7L68.8 219.7L68.1 220.1L67.7 220.4L67.4 220.5L66.7 220.9L66.5 221.0L66.1 221.2L65.4 221.6L65.3 221.6L64.7 221.9L64.1 222.3L64.0 222.3L63.4 222.6L62.8 222.9L62.7 222.9L62.0 223.2L61.4 223.5L61.3 223.6L60.7 223.9L60.0 224.2L60.0 224.2L59.3 224.4L58.6 224.7L58.5 224.8L58.0 225.0L57.3 225.3L56.9 225.4L56.6 225.5L55.9 225.8L55.3 226.0L55.3 226.1L54.6 226.3L53.9 226.6L53.6 226.7L53.2 226.8L52.5 227.1L51.9 227.3L51.9 227.3L51.2 227.5L50.5 227.8L50.0 227.9L49.8 228.0L49.2 228.2L48.5 228.4L48.1 228.6L47.8 228.7L47.1 228.9L46.5 229.1L46.1 229.2L45.8 229.3L45.1 229.5L44.4 229.7L44.0 229.8L43.8 229.9L43.1 230.1L42.4 230.3L41.8 230.5L41.7 230.5L41.1 230.7L40.4 230.8L39.7 231.0L39.5 231.1L39.0 231.2L38.4 231.4L38.4 231.1L38.4 230.5L38.4 229.8L38.4 229.2L38.4 228.6L38.4 227.9L38.4 227.3L38.4 226.7L38.4 226.0L38.4 225.4L38.4 224.8L38.4 224.2L38.4 223.5L38.4 222.9L38.4 222.3L38.4 221.6L38.4 221.0L38.4 220.4L38.4 219.7L38.4 219.1L38.4 218.5L38.4 217.8L38.4 217.2L38.4 216.6L38.4 216.0L38.4 215.3L38.4 214.7L38.4 214.1L38.4 213.4L38.4 212.8L38.4 212.2L38.4 211.5L38.4 210.9L38.4 210.3L38.4 209.6L38.4 209.0L38.4 208.4L38.4 207.8L38.4 207.1L38.4 206.5L38.4 205.9L38.4 205.2L38.4 204.6L38.4 204.0L38.4 203.3L38.4 202.7L38.4 202.1L38.4 201.4L38.4 200.8L38.4 200.2L38.4 199.6L38.4 198.9L38.4 198.3L38.4 197.7L38.4 197.0L38.4 196.4L38.4 195.8L38.4 195.1L38.4 194.5L38.4 193.9L38.4 193.2L38.4 192.6L38.4 192.0L38.4 191.4L38.4 190.7L38.4 190.1L38.4 189.5L38.4 188.8L38.4 188.2L38.4 187.6L38.4 186.9L38.4 186.3L38.4 185.7L38.4 185.0L38.4 184.4L38.4 183.8L38.4 183.2L38.4 182.5L38.4 181.9L38.4 181.3L38.4 180.6L38.4 180.0L38.4 179.4L38.4 178.7L38.4 178.1L38.4 177.5L38.4 176.8L38.4 176.2L38.4 175.6L38.4 175.0L38.4 174.3L38.4 173.7L38.4 173.1L38.4 172.4L38.4 171.8L38.4 171.2L38.4 170.5L38.4 169.9L38.4 169.3L38.4 168.6L38.4 168.0L38.4 167.4L38.4 166.8L38.4 166.1L38.4 165.5L38.4 164.9L38.4 164.2L38.4 163.6L38.4 163.0L38.4 162.3L38.4 161.7L38.4 161.1L38.4 160.4Z" fill="#7da0cb"/>
<path d="M39.0 160.4L39.7 160.4L40.4 160.4L41.1 160.4L41.7 160.4L42.4 160.4L43.1 160.4L43.8 160.4L44.4 160.4L45.1 160.4L45.8 160.4L46.5 160.4L47.1 160.4L47.8 160.4L48.5 160.4L49.2 160.4L49.8 160.4L50.5 160.4L51.2 160.4L51.9 160.4L52.5 160.4L53.2 160.4L53.9 160.4L54.6 160.4L55.3 160.4L55.9 160.4L56.6 160.4L57.3 160.4L58.0 160.4L58.6 160.4L59.3 160.4L60.0 160.4L60.7 160.4L61.3 160.4L62.0 160.4L62.7 160.4L63.4 160.4L64.0 160.4L64.7 160.4L65.4 160.4L66.1 160.4L66.7 160.4L67.4 160.4L68.1 160.4L68.8 160.4L69.4 160.4L70.1 160.4L70.8 160.4L71.5 160.4L72.2 160.4L72.8 160.4L73.5 160.4L74.2 160.4L74.9 160.4L75.5 160.4L76.2 160.4L76.9 160.4L77.6 160.4L78.2 160.4L78.9 160.4L79.6 160.4L80.3 160.4L80.9 160.4L81.6 160.4L82.3 160.4L83.0 160.4L83.6 160.4L84.3 160.4L85.0 160.4L85.7 160.4L86.0 160.4L85.9 161.1L85.8 161.7L85.7 162.3L85.7 162.3L85.5 163.0L85.4 163.6L85.3 164.2L85.2 164.9L85.0 165.5L85.0 165.7L84.9 166.1L84.8 166.8L84.6 167.4L84.5 168.0L84.4 168.6L84.3 168.9L84.2 169.3L84.1 169.9L84.0 170.5L83.8 171.2L83.7 171.8L83.6 172.0L83.6 172.4L83.4 173.1L83.3 173.7L83.1 174.3L83.0 175.0L83.0 175.0L82.8 175.6L82.7 176.2L82.5 176.8L82.4 177.5L82.3 177.8L82.2 178.1L82.1 178.7L81.9 179.4L81.7 180.0L81.6 180.5L81.6 180.6L81.4 181.3L81.2 181.9L81.1 182.5L80.9 183.0L80.9 183.2L80.7 183.8L80.5 184.4L80.4 185.0L80.3 185.3L80.2 185.7L80.0 186.3L79.8 186.9L79.6 187.5L79.6 187.6L79.4 188.2L79.2 188.8L78.9 189.5L78.9 189.5L78.7 190.1L78.5 190.7L78.3 191.4L78.2 191.4L78.0 192.0L77.8 192.6L77.6 193.2L77.5 193.2L77.3 193.9L77.0 194.5L76.9 194.8L76.8 195.1L76.5 195.8L76.2 196.4L76.2 196.4L75.9 197.0L75.6 197.7L75.5 197.8L75.3 198.3L75.0 198.9L74.9 199.1L74.6 199.6L74.3 200.2L74.2 200.4L73.9 200.8L73.6 201.4L73.5 201.5L73.2 202.1L72.8 202.6L72.8 202.7L72.4 203.3L72.2 203.7L72.0 204.0L71.5 204.6L71.5 204.7L71.1 205.2L70.8 205.6L70.6 205.9L70.1 206.5L70.1 206.5L69.6 207.1L69.4 207.3L69.1 207.8L68.8 208.1L68.6 208.4L68.1 208.9L68.0 209.0L67.4 209.6L67.4 209.6L66.8 210.3L66.7 210.3L66.2 210.9L66.1 211.0L65.5 211.5L65.4 211.6L64.8 212.2L64.7 212.3L64.1 212.8L64.0 212.9L63.4 213.4L63.4 213.4L62.7 214.0L62.6 214.1L62.0 214.5L61.8 214.7L61.3 215.0L60.9 215.3L60.7 215.5L60.1 216.0L60.0 216.0L59.3 216.5L59.2 216.6L58.6 216.9L58.2 217.2L58.0 217.4L57.3 217.8L57.2 217.8L56.6 218.2L56.2 218.5L55.9 218.6L55.3 219.0L55.1 219.1L54.6 219.4L54.0 219.7L53.9 219.8L53.2 220.1L52.8 220.4L52.5 220.5L51.9 220.9L51.6 221.0L51.2 221.2L50.5 221.5L50.3 221.6L49.8 221.8L49.2 222.2L49.0 222.3L48.5 222.5L47.8 222.8L47.6 222.9L47.1 223.1L46.5 223.4L46.1 223.5L45.8 223.7L45.1 223.9L44.6 224.2L44.4 224.2L43.8 224.5L43.1 224.7L43.0 224.8L42.4 225.0L41.7 225.3L41.3 225.4L41.1 225.5L40.4 225.8L39.7 226.0L39.6 226.0L39.0 226.2L38.4 226.5L38.4 226.0L38.4 225.4L38.4 224.8L38.4 224.2L38.4 223.5L38.4 222.9L38.4 222.3L38.4 221.6L38.4 221.0L38.4 220.4L38.4 219.7L38.4 219.1L38.4 218.5L38.4 217.8L38.4 217.2L38.4 216.6L38.4 216.0L38.4 215.3L38.4 214.7L38.4 214.1L38.4 213.4L38.4 212.8L38.4 212.2L38.4 211.5L38.4 210.9L38.4 210.3L38.4 209.6L38.4 209.0L38.4 208.4L38.4 207.8L38.4 207.1L38.4 206.5L38.4 205.9L38.4 205.2L38.4 204.6L38.4 204.0L38.4 203.3L38.4 202.7L38.4 202.1L38.4 201.4L38.4 200.8L38.4 200.2L38.4 199.6L38.4 198.9L38.4 198.3L38.4 197.7L38.4 197.0L38.4 196.4L38.4 195.8L38.4 195.1L38.4 194.5L38.4 193.9L38.4 193.2L38.4 192.6L38.4 192.0L38.4 191.4L38.4 190.7L38.4 190.1L38.4 189.5L38.4 188.8L38.4 188.2L38.4 187.6L38.4 186.9L38.4 186.3L38.4 185.7L38.4 185.0L38.4 184.4L38.4 183.8L38.4 183.2L38.4 182.5L38.4 181.9L38.4 181.3L38.4 180.6L38.4 180.0L38.4 179.4L38.4 178.7L38.4 178.1L38.4 177.5L38.4 176.8L38.4 176.2L38.4 175.6L38.4 175.0L38.4 174.3L38.4 173.7L38.4 173.1L38.4 172.4L38.4 171.8L38.4 171.2L38.4 170.5L38.4 169.9L38.4 169.3L38.4 168.6L38.4 168.0L38.4 167.4L38.4 166.8L38.4 166.1L38.4 165.5L38.4 164.9L38.4 164.2L38.4 163.6L38.4 163.0L38.4 162.3L38.4 161.7L38.4 161.1L38.4 160.4Z" fill="#6d93c5"/>
<path d="M39.0 160.4L39.7 160.4L40.4 160.4L41.1 160.4L41.7 160.4L42.4 160.4L43.1 160.4L43.8 160.4L44.4 160.4L45.1 160.4L45.8 160.4L46.5 160.4L47.1 160.4L47.8 160.4L48.5 160.4L49.2 160.4L49.8 160.4L50.5 160.4L51.2 160.4L51.9 160.4L52.5 160.4L53.2 160.4L53.9 160.4L54.6 160.4L55.3 160.4L55.9 160.4L56.6 160.4L57.3 160.4L58.0 160.4L58.6 160.4L59.3 160.4L60.0 160.4L60.7 160.4L61.3 160.4L62.0 160.4L62.7 160.4L63.4 160.4L64.0 160.4L64.7 160.4L65.4 160.4L66.1 160.4L66.7 160.4L67.4 160.4L68.1 160.4L68.8 160.4L69.4 160.4L70.1 160.4L70.8 160.4L71.5 160.4L72.2 160.4L72.8 160.4L73.3 160.4L73.2 161.1L73.1 161.7L73.0 162.3L72.8 163.0L72.8 163.0L72.7 163.6L72.6 164.2L72.4 164.9L72.3 165.5L72.2 166.1L72.2 166.2L72.0 166.8L71.9 167.4L71.8 168.0L71.6 168.6L71.5 169.3L71.5 169.4L71.4 169.9L71.2 170.5L71.1 171.2L70.9 171.8L70.8 172.4L70.8 172.4L70.6 173.1L70.5 173.7L70.3 174.3L70.2 175.0L70.1 175.3L70.0 175.6L69.9 176.2L69.7 176.8L69.6 177.5L69.4 178.0L69.4 178.1L69.3 178.7L69.1 179.4L68.9 180.0L68.8 180.5L68.7 180.6L68.6 181.3L68.4 181.9L68.2 182.5L68.1 182.9L68.0 183.2L67.8 183.8L67.7 184.4L67.5 185.0L67.4 185.2L67.3 185.7L67.1 186.3L66.9 186.9L66.7 187.3L66.7 187.6L66.4 188.2L66.2 188.8L66.1 189.3L66.0 189.5L65.8 190.1L65.5 190.7L65.4 191.1L65.3 191.4L65.0 192.0L64.8 192.6L64.7 192.8L64.5 193.2L64.3 193.9L64.0 194.4L64.0 194.5L63.7 195.1L63.4 195.8L63.4 195.9L63.1 196.4L62.8 197.0L62.7 197.3L62.5 197.7L62.2 198.3L62.0 198.6L61.8 198.9L61.5 199.6L61.3 199.8L61.1 200.2L60.7 200.8L60.7 201.0L60.4 201.4L60.0 202.0L60.0 202.1L59.6 202.7L59.3 203.1L59.1 203.3L58.7 204.0L58.6 204.0L58.2 204.6L58.0 205.0L57.7 205.2L57.3 205.8L57.3 205.9L56.7 206.5L56.6 206.7L56.2 207.1L55.9 207.4L55.7 207.8L55.3 208.2L55.1 208.4L54.6 208.9L54.5 209.0L53.9 209.6L53.9 209.6L53.2 210.3L53.2 210.3L52.6 210.9L52.5 210.9L51.9 211.5L51.9 211.5L51.2 212.1L51.1 212.2L50.5 212.7L50.4 212.8L49.8 213.2L49.6 213.4L49.2 213.8L48.8 214.1L48.5 214.3L47.9 214.7L47.8 214.8L47.1 215.2L47.0 215.3L46.5 215.7L46.1 216.0L45.8 216.2L45.1 216.6L45.1 216.6L44.4 217.0L44.1 217.2L43.8 217.4L43.1 217.8L43.1 217.8L42.4 218.2L42.0 218.5L41.7 218.6L41.1 219.0L40.8 219.1L40.4 219.3L39.7 219.7L39.6 219.7L39.0 220.0L38.4 220.4L38.4 220.4L38.4 220.4L38.4 219.7L38.4 219.1L38.4 218.5L38.4 217.8L38.4 217.2L38.4 216.6L38.4 216.0L38.4 215.3L38.4 214.7L38.4 214.1L38.4 213.4L38.4 212.8L38.4 212.2L38.4 211.5L38.4 210.9L38.4 210.3L38.4 209.6L38.4 209.0L38.4 208.4L38.4 207.8L38.4 207.1L38.4 206.5L38.4 205.9L38.4 205.2L38.4 204.6L38.4 204.0L38.4 203.3L38.4 202.7L38.4 202.1L38.4 201.4L38.4 200.8L38.4 200.2L38.4 199.6L38.4 198.9L38.4 198.3L38.4 197.7L38.4 197.0L38.4 196.4L38.4 195.8L38.4 195.1L38.4 194.5L38.4 193.9L38.4 193.2L38.4 192.6L38.4 192.0L38.4 191.4L38.4 190.7L38.4 190.1L38.4 189.5L38.4 188.8L38.4 188.2L38.4 187.6L38.4 186.9L38.4 186.3L38.4 185.7L38.4 185.0L38.4 184.4L38.4 183.8L38.4 183.2L38.4 182.5L38.4 181.9L38.4 181.3L38.4 180.6L38.4 180.0L38.4 179.4L38.4 178.7L38.4 178.1L38.4 177.5L38.4 176.8L38.4 176.2L38.4 175.6L38.4 175.0L38.4 174.3L38.4 173.7L38.4 173.1L38.4 172.4L38.4 171.8L38.4 171.2L38.4 170.5L38.4 169.9L38.4 169.3L38.4 168.6L38.4 168.0L38.4 167.4L38.4 166.8L38.4 166.1L38.4 165.5L38.4 164.9L38.4 164.2L38.4 163.6L38.4 163.0L38.4 162.3L38.4 161.7L38.4 161.1L38.4 160.4Z" fill="#5a85bc"/>
<path d="M39.0 160.4L39.7 160.4L40.4 160.4L41.1 160.4L41.7 160.4L42.4 160.4L43.1 160.4L43.8 160.4L44.4 160.4L45.1 160.4L45.8 160.4L46.5 160.4L47.1 160.4L47.8 160.4L48.5 160.4L49.2 160.4L49.8 160.4L50.5 160.4L51.2 160.4L51.9 160.4L52.5 160.4L53.2 160.4L53.9 160.4L54.6 160.4L55.3 160.4L55.9 160.4L56.6 160.4L57.3 160.4L58.0 160.4L58.6 160.4L59.3 160.4L60.0 160.4L60.7 160.4L61.1 160.4L61.0 161.1L60.8 161.7L60.7 162.3L60.7 162.6L60.6 163.0L60.5 163.6L60.3 164.2L60.2 164.9L60.0 165.5L60.0 165.8L59.9 166.1L59.8 166.8L59.6 167.4L59.5 168.0L59.3 168.6L59.3 168.8L59.2 169.3L59.1 169.9L58.9 170.5L58.8 171.2L58.6 171.8L58.6 171.8L58.5 172.4L58.3 173.1L58.2 173.7L58.0 174.3L58.0 174.5L57.9 175.0L57.7 175.6L57.5 176.2L57.4 176.8L57.3 177.2L57.2 177.5L57.0 178.1L56.9 178.7L56.7 179.4L56.6 179.7L56.5 180.0L56.3 180.6L56.2 181.3L56.0 181.9L55.9 182.1L55.8 182.5L55.6 183.2L55.4 183.8L55.3 184.3L55.2 184.4L55.0 185.0L54.8 185.7L54.6 186.3L54.6 186.4L54.4 186.9L54.2 187.6L53.9 188.2L53.9 188.3L53.7 188.8L53.5 189.5L53.2 190.1L53.2 190.1L53.0 190.7L52.7 191.4L52.5 191.8L52.5 192.0L52.2 192.6L51.9 193.2L51.9 193.4L51.7 193.9L51.4 194.5L51.2 194.9L51.1 195.1L50.8 195.8L50.5 196.3L50.5 196.4L50.1 197.0L49.8 197.6L49.8 197.7L49.5 198.3L49.2 198.8L49.1 198.9L48.7 199.6L48.5 200.0L48.4 200.2L48.0 200.8L47.8 201.0L47.6 201.4L47.1 202.1L47.1 202.1L46.7 202.7L46.5 203.0L46.3 203.3L45.8 204.0L45.8 204.0L45.3 204.6L45.1 204.8L44.8 205.2L44.4 205.7L44.3 205.9L43.8 206.5L43.7 206.5L43.2 207.1L43.1 207.2L42.6 207.8L42.4 207.9L42.0 208.4L41.7 208.6L41.4 209.0L41.1 209.3L40.7 209.6L40.4 209.9L40.0 210.3L39.7 210.6L39.3 210.9L39.0 211.1L38.6 211.5L38.3 211.7L38.4 211.5L38.4 210.9L38.4 210.3L38.4 209.6L38.4 209.0L38.4 208.4L38.4 207.8L38.4 207.1L38.4 206.5L38.4 205.9L38.4 205.2L38.4 204.6L38.4 204.0L38.4 203.3L38.4 202.7L38.4 202.1L38.4 201.4L38.4 200.8L38.4 200.2L38.4 199.6L38.4 198.9L38.4 198.3L38.4 197.7L38.4 197.0L38.4 196.4L38.4 195.8L38.4 195.1L38.4 194.5L38.4 193.9L38.4 193.2L38.4 192.6L38.4 192.0L38.4 191.4L38.4 190.7L38.4 190.1L38.4 189.5L38.4 188.8L38.4 188.2L38.4 187.6L38.4 186.9L38.4 186.3L38.4 185.7L38.4 185.0L38.4 184.4L38.4 183.8L38.4 183.2L38.4 182.5L38.4 181.9L38.4 181.3L38.4 180.6L38.4 180.0L38.4 179.4L38.4 178.7L38.4 178.1L38.4 177.5L38.4 176.8L38.4 176.2L38.4 175.6L38.4 175.0L38.4 174.3L38.4 173.7L38.4 173.1L38.4 172.4L38.4 171.8L38.4 171.2L38.4 170.5L38.4 169.9L38.4 169.3L38.4 168.6L38.4 168.0L38.4 167.4L38.4 166.8L38.4 166.1L38.4 165.5L38.4 164.9L38.4 164.2L38.4 163.6L38.4 163.0L38.4 162.3L38.4 161.7L38.4 161.1L38.4 160.4Z" fill="#4d6c98"/>
<path d="M39.0 160.4L39.7 160.4L40.4 160.4L41.1 160.4L41.7 160.4L42.4 160.4L43.1 160.4L43.8 160.4L44.4 160.4L45.1 160.4L45.8 160.4L46.5 160.4L47.1 160.4L47.8 160.4L48.5 160.4L49.2 160.4L49.2 160.4L49.2 160.8L49.1 161.1L49.0 161.7L48.8 162.3L48.7 163.0L48.5 163.6L48.5 163.9L48.4 164.2L48.3 164.9L48.1 165.5L48.0 166.1L47.8 166.8L47.8 166.9L47.7 167.4L47.5 168.0L47.4 168.6L47.3 169.3L47.1 169.8L47.1 169.9L46.9 170.5L46.8 171.2L46.6 171.8L46.5 172.4L46.5 172.5L46.3 173.1L46.2 173.7L46.0 174.3L45.8 175.0L45.8 175.2L45.7 175.6L45.5 176.2L45.3 176.8L45.2 177.5L45.1 177.7L45.0 178.1L44.8 178.7L44.6 179.4L44.5 180.0L44.4 180.1L44.3 180.6L44.1 181.3L43.9 181.9L43.8 182.3L43.7 182.5L43.5 183.2L43.3 183.8L43.1 184.4L43.1 184.4L42.9 185.0L42.7 185.7L42.4 186.3L42.4 186.4L42.2 186.9L42.0 187.6L41.8 188.2L41.7 188.3L41.5 188.8L41.3 189.5L41.1 190.0L41.0 190.1L40.8 190.7L40.5 191.4L40.4 191.6L40.2 192.0L39.9 192.6L39.7 193.1L39.7 193.2L39.4 193.9L39.1 194.5L39.0 194.6L38.7 195.1L38.4 195.8L38.4 195.9L38.4 195.8L38.4 195.1L38.4 194.5L38.4 193.9L38.4 193.2L38.4 192.6L38.4 192.0L38.4 191.4L38.4 190.7L38.4 190.1L38.4 189.5L38.4 188.8L38.4 188.2L38.4 187.6L38.4 186.9L38.4 186.3L38.4 185.7L38.4 185.0L38.4 184.4L38.4 183.8L38.4 183.2L38.4 182.5L38.4 181.9L38.4 181.3L38.4 180.6L38.4 180.0L38.4 179.4L38.4 178.7L38.4 178.1L38.4 177.5L38.4 176.8L38.4 176.2L38.4 175.6L38.4 175.0L38.4 174.3L38.4 173.7L38.4 173.1L38.4 172.4L38.4 171.8L38.4 171.2L38.4 170.5L38.4 169.9L38.4 169.3L38.4 168.6L38.4 168.0L38.4 167.4L38.4 166.8L38.4 166.1L38.4 165.5L38.4 164.9L38.4 164.2L38.4 163.6L38.4 163.0L38.4 162.3L38.4 161.7L38.4 161.1L38.4 160.4Z" fill="#4a5f74"/>
</g>
<rect x="38.35" y="160.45" width="175.10" height="112.90" fill="none" stroke="#231f20" stroke-width="1"/>
<line x1="35.35" y1="176.70" x2="38.35" y2="176.70" stroke="#231f20" stroke-width="0.90"/>
<text x="33.40" y="179.55" font-size="8.20" text-anchor="end" textLength="12.0" lengthAdjust="spacingAndGlyphs">500</text>
<line x1="35.35" y1="202.03" x2="38.35" y2="202.03" stroke="#231f20" stroke-width="0.90"/>
<text x="33.40" y="204.88" font-size="8.20" text-anchor="end" textLength="12.0" lengthAdjust="spacingAndGlyphs">400</text>
<line x1="35.35" y1="227.36" x2="38.35" y2="227.36" stroke="#231f20" stroke-width="0.90"/>
<text x="33.40" y="230.21" font-size="8.20" text-anchor="end" textLength="12.0" lengthAdjust="spacingAndGlyphs">300</text>
<line x1="35.35" y1="252.69" x2="38.35" y2="252.69" stroke="#231f20" stroke-width="0.90"/>
<text x="33.40" y="255.54" font-size="8.20" text-anchor="end" textLength="12.0" lengthAdjust="spacingAndGlyphs">200</text>
<line x1="47.40" y1="273.35" x2="47.40" y2="276.35" stroke="#231f20" stroke-width="0.90"/>
<text x="47.40" y="287.20" font-size="8.20" text-anchor="middle" textLength="10.0" lengthAdjust="spacingAndGlyphs">1.8</text>
<line x1="75.50" y1="273.35" x2="75.50" y2="276.35" stroke="#231f20" stroke-width="0.90"/>
<text x="75.50" y="287.20" font-size="8.20" text-anchor="middle" textLength="10.0" lengthAdjust="spacingAndGlyphs">2.0</text>
<line x1="103.60" y1="273.35" x2="103.60" y2="276.35" stroke="#231f20" stroke-width="0.90"/>
<text x="103.60" y="287.20" font-size="8.20" text-anchor="middle" textLength="10.0" lengthAdjust="spacingAndGlyphs">2.2</text>
<line x1="131.70" y1="273.35" x2="131.70" y2="276.35" stroke="#231f20" stroke-width="0.90"/>
<text x="131.70" y="287.20" font-size="8.20" text-anchor="middle" textLength="10.0" lengthAdjust="spacingAndGlyphs">2.4</text>
<line x1="159.80" y1="273.35" x2="159.80" y2="276.35" stroke="#231f20" stroke-width="0.90"/>
<text x="159.80" y="287.20" font-size="8.20" text-anchor="middle" textLength="10.0" lengthAdjust="spacingAndGlyphs">2.6</text>
<line x1="187.90" y1="273.35" x2="187.90" y2="276.35" stroke="#231f20" stroke-width="0.90"/>
<text x="187.90" y="287.20" font-size="8.20" text-anchor="middle" textLength="10.0" lengthAdjust="spacingAndGlyphs">2.8</text>
<text transform="translate(43.90 298.60) scale(0.9685 1)" x="0" y="0" font-size="9.20">Day 0 MCP-1 concentration (log<tspan font-size="6.60" dy="1.9">10</tspan><tspan dy="-1.9"> pg/mL)</tspan></text>
<text transform="translate(13.60 205.20) rotate(-90)" x="0" y="0" font-size="9.20" text-anchor="middle" textLength="123.4" lengthAdjust="spacingAndGlyphs">Pre-LD LDH concentration (U/L)</text>
<text x="7.80" y="154.80" font-size="10.00">D</text>
<rect x="221.80" y="160.20" width="6.60" height="7.13" fill="#3c5064"/>
<rect x="221.80" y="167.28" width="6.60" height="7.13" fill="#44607e"/>
<rect x="221.80" y="174.36" width="6.60" height="7.13" fill="#4e73a8"/>
<rect x="221.80" y="181.44" width="6.60" height="7.13" fill="#5b85bd"/>
<rect x="221.80" y="188.52" width="6.60" height="7.13" fill="#6a91c5"/>
<rect x="221.80" y="195.61" width="6.60" height="7.13" fill="#7b9ecb"/>
<rect x="221.80" y="202.69" width="6.60" height="7.13" fill="#8dadd4"/>
<rect x="221.80" y="209.77" width="6.60" height="7.13" fill="#9fbbdd"/>
<rect x="221.80" y="216.85" width="6.60" height="7.13" fill="#b0c8e4"/>
<rect x="221.80" y="223.93" width="6.60" height="7.13" fill="#c4d4ea"/>
<rect x="221.80" y="231.01" width="6.60" height="7.13" fill="#dce3ef"/>
<rect x="221.80" y="238.09" width="6.60" height="7.13" fill="#eeedf3"/>
<rect x="221.80" y="245.18" width="6.60" height="7.13" fill="#fbfafb"/>
<rect x="221.80" y="252.26" width="6.60" height="7.13" fill="#f8f0f2"/>
<rect x="221.80" y="259.34" width="6.60" height="7.13" fill="#ecc9d0"/>
<rect x="221.80" y="266.42" width="6.60" height="7.13" fill="#e2abb6"/>
<rect x="221.80" y="160.20" width="6.60" height="113.30" fill="none" stroke="#231f20" stroke-width="1"/>
<line x1="228.40" y1="268.80" x2="231.40" y2="268.80" stroke="#231f20" stroke-width="0.90"/>
<text x="234.20" y="271.65" font-size="8.20" textLength="4.0" lengthAdjust="spacingAndGlyphs">0</text>
<line x1="228.40" y1="253.30" x2="231.40" y2="253.30" stroke="#231f20" stroke-width="0.90"/>
<text x="234.20" y="256.15" font-size="8.20" textLength="4.0" lengthAdjust="spacingAndGlyphs">1</text>
<line x1="228.40" y1="238.30" x2="231.40" y2="238.30" stroke="#231f20" stroke-width="0.90"/>
<text x="234.20" y="241.15" font-size="8.20" textLength="4.0" lengthAdjust="spacingAndGlyphs">2</text>
<line x1="228.40" y1="223.30" x2="231.40" y2="223.30" stroke="#231f20" stroke-width="0.90"/>
<text x="234.20" y="226.15" font-size="8.20" textLength="4.0" lengthAdjust="spacingAndGlyphs">3</text>
<line x1="228.40" y1="208.30" x2="231.40" y2="208.30" stroke="#231f20" stroke-width="0.90"/>
<text x="234.20" y="211.15" font-size="8.20" textLength="4.0" lengthAdjust="spacingAndGlyphs">4</text>
<line x1="228.40" y1="193.20" x2="231.40" y2="193.20" stroke="#231f20" stroke-width="0.90"/>
<text x="234.20" y="196.05" font-size="8.20" textLength="4.0" lengthAdjust="spacingAndGlyphs">5</text>
<line x1="228.40" y1="178.00" x2="231.40" y2="178.00" stroke="#231f20" stroke-width="0.90"/>
<text x="234.20" y="180.85" font-size="8.20" textLength="4.0" lengthAdjust="spacingAndGlyphs">6</text>
<line x1="228.40" y1="164.60" x2="231.40" y2="164.60" stroke="#231f20" stroke-width="0.90"/>
<text x="234.20" y="167.45" font-size="8.20" textLength="4.0" lengthAdjust="spacingAndGlyphs">7</text>
<rect x="286.4" y="159.4" width="171.3" height="113.9" fill="#c86f79"/>
<path d="M287.1 159.4L287.7 159.4L288.4 159.4L289.0 159.4L289.7 159.4L290.4 159.4L291.0 159.4L291.7 159.4L292.4 159.4L293.0 159.4L293.7 159.4L294.3 159.4L295.0 159.4L295.7 159.4L296.3 159.4L297.0 159.4L297.6 159.4L298.3 159.4L299.0 159.4L299.6 159.4L300.3 159.4L301.0 159.4L301.6 159.4L302.3 159.4L302.9 159.4L303.6 159.4L304.3 159.4L304.9 159.4L305.6 159.4L306.2 159.4L306.9 159.4L307.6 159.4L308.2 159.4L308.9 159.4L309.5 159.4L310.2 159.4L310.9 159.4L311.5 159.4L312.2 159.4L312.9 159.4L313.5 159.4L314.2 159.4L314.8 159.4L315.5 159.4L316.2 159.4L316.8 159.4L317.5 159.4L318.1 159.4L318.8 159.4L319.5 159.4L320.1 159.4L320.8 159.4L321.5 159.4L322.1 159.4L322.8 159.4L323.4 159.4L324.1 159.4L324.8 159.4L325.4 159.4L326.1 159.4L326.7 159.4L327.4 159.4L328.1 159.4L328.7 159.4L329.4 159.4L330.1 159.4L330.7 159.4L331.4 159.4L332.0 159.4L332.7 159.4L333.4 159.4L334.0 159.4L334.7 159.4L335.3 159.4L336.0 159.4L336.7 159.4L337.3 159.4L338.0 159.4L338.6 159.4L339.3 159.4L340.0 159.4L340.6 159.4L341.3 159.4L342.0 159.4L342.6 159.4L343.3 159.4L343.9 159.4L344.6 159.4L345.3 159.4L345.9 159.4L346.6 159.4L347.2 159.4L347.9 159.4L348.6 159.4L349.2 159.4L349.9 159.4L350.6 159.4L351.2 159.4L351.9 159.4L352.5 159.4L353.2 159.4L353.9 159.4L354.5 159.4L355.2 159.4L355.8 159.4L356.5 159.4L357.2 159.4L357.8 159.4L358.5 159.4L359.2 159.4L359.8 159.4L360.5 159.4L361.1 159.4L361.8 159.4L362.5 159.4L363.1 159.4L363.8 159.4L364.4 159.4L365.1 159.4L365.8 159.4L366.4 159.4L367.1 159.4L367.8 159.4L368.4 159.4L369.1 159.4L369.7 159.4L370.4 159.4L371.1 159.4L371.7 159.4L372.4 159.4L373.0 159.4L373.7 159.4L374.4 159.4L375.0 159.4L375.7 159.4L376.3 159.4L377.0 159.4L377.7 159.4L378.3 159.4L379.0 159.4L379.7 159.4L380.3 159.4L381.0 159.4L381.6 159.4L382.3 159.4L383.0 159.4L383.6 159.4L384.3 159.4L384.9 159.4L385.6 159.4L386.3 159.4L386.9 159.4L387.6 159.4L388.3 159.4L388.9 159.4L389.6 159.4L390.2 159.4L390.9 159.4L391.6 159.4L392.2 159.4L392.9 159.4L393.5 159.4L394.2 159.4L394.9 159.4L395.5 159.4L396.2 159.4L396.9 159.4L397.5 159.4L398.2 159.4L398.8 159.4L399.5 159.4L400.2 159.4L400.8 159.4L401.5 159.4L402.1 159.4L402.8 159.4L403.5 159.4L404.1 159.4L404.8 159.4L405.5 159.4L406.1 159.4L406.8 159.4L407.4 159.4L408.1 159.4L408.8 159.4L409.4 159.4L410.1 159.4L410.7 159.4L411.4 159.4L412.1 159.4L412.7 159.4L413.4 159.4L414.0 159.4L414.7 159.4L415.4 159.4L416.0 159.4L416.7 159.4L417.4 159.4L418.0 159.4L418.7 159.4L419.3 159.4L420.0 159.4L420.7 159.4L421.3 159.4L422.0 159.4L422.6 159.4L423.3 159.4L424.0 159.4L424.6 159.4L425.3 159.4L426.0 159.4L426.6 159.4L427.3 159.4L427.9 159.4L428.6 159.4L429.3 159.4L429.9 159.4L430.6 159.4L431.2 159.4L431.9 159.4L432.6 159.4L433.2 159.4L433.9 159.4L434.6 159.4L435.2 159.4L435.9 159.4L436.5 159.4L437.2 159.4L437.9 159.4L438.5 159.4L439.2 159.4L439.8 159.4L440.5 159.4L441.2 159.4L441.8 159.4L442.5 159.4L443.1 159.4L443.8 159.4L444.5 159.4L445.1 159.4L445.8 159.4L446.5 159.4L447.1 159.4L447.8 159.4L448.4 159.4L449.1 159.4L449.8 159.4L450.4 159.4L451.1 159.4L451.7 159.4L452.4 159.4L453.1 159.4L453.7 159.4L454.4 159.4L455.1 159.4L455.7 159.4L456.4 159.4L457.0 159.4L457.7 159.4L457.7 160.1L457.7 160.7L457.7 161.4L457.7 162.0L457.7 162.6L457.7 163.3L457.7 163.9L457.7 164.5L457.7 165.2L457.7 165.8L457.7 166.4L457.7 167.1L457.7 167.7L457.7 168.4L457.7 169.0L457.7 169.6L457.7 170.3L457.7 170.9L457.7 171.5L457.7 172.2L457.7 172.8L457.7 173.4L457.7 174.1L457.7 174.7L457.7 175.4L457.7 176.0L457.7 176.6L457.7 177.3L457.7 177.9L457.7 178.5L457.7 179.2L457.7 179.8L457.7 180.4L457.7 181.1L457.7 181.7L457.7 182.3L457.7 183.0L457.7 183.6L457.7 184.3L457.7 184.9L457.7 185.5L457.7 186.2L457.7 186.8L457.7 187.4L457.7 188.1L457.7 188.7L457.7 189.3L457.7 190.0L457.7 190.6L457.7 191.3L457.7 191.9L457.7 192.5L457.7 193.2L457.7 193.8L457.7 194.4L457.7 195.1L457.7 195.7L457.7 196.3L457.7 197.0L457.7 197.6L457.7 198.2L457.7 198.9L457.7 199.5L457.7 200.2L457.7 200.8L457.7 201.4L457.7 202.1L457.7 202.7L457.7 203.3L457.7 204.0L457.7 204.6L457.7 205.2L457.7 205.9L457.7 206.5L457.7 207.2L457.7 207.8L457.7 208.4L457.7 209.1L457.7 209.7L457.7 210.3L457.7 211.0L457.7 211.6L457.7 212.2L457.7 212.9L457.7 213.5L457.7 214.1L457.7 214.8L457.7 215.4L457.7 216.1L457.7 216.7L457.7 217.3L457.7 218.0L457.7 218.6L457.7 219.2L457.7 219.9L457.7 220.5L457.7 221.1L457.7 221.8L457.7 222.4L457.7 223.1L457.7 223.7L457.7 224.3L457.7 225.0L457.7 225.6L457.7 226.2L457.7 226.9L457.7 227.5L457.7 228.1L457.7 228.8L457.7 229.4L457.7 230.0L457.7 230.7L457.7 231.3L457.7 232.0L457.7 232.6L457.7 233.2L457.7 233.9L457.7 234.5L457.7 235.1L457.7 235.8L457.7 236.4L457.7 237.0L457.7 237.7L457.7 238.3L457.7 239.0L457.7 239.6L457.7 240.2L457.7 240.9L457.7 241.5L457.7 242.1L457.7 242.8L457.7 243.4L457.7 244.0L457.7 244.7L457.7 245.3L457.7 246.0L457.7 246.2L457.0 246.4L456.6 246.6L456.4 246.7L455.7 246.9L455.1 247.1L454.7 247.2L454.4 247.3L453.7 247.5L453.1 247.8L452.8 247.9L452.4 248.0L451.7 248.2L451.1 248.4L450.9 248.5L450.4 248.7L449.8 248.9L449.1 249.1L449.1 249.1L448.4 249.4L447.8 249.6L447.3 249.8L447.1 249.8L446.5 250.1L445.8 250.3L445.5 250.4L445.1 250.5L444.5 250.8L443.8 251.0L443.7 251.0L443.1 251.2L442.5 251.5L441.9 251.7L441.8 251.7L441.2 251.9L440.5 252.2L440.1 252.3L439.8 252.4L439.2 252.7L438.5 252.9L438.4 252.9L437.9 253.1L437.2 253.4L436.6 253.6L436.5 253.6L435.9 253.8L435.2 254.1L434.8 254.2L434.6 254.3L433.9 254.6L433.2 254.8L433.0 254.9L432.6 255.0L431.9 255.3L431.2 255.5L431.2 255.5L430.6 255.7L429.9 256.0L429.4 256.1L429.3 256.2L428.6 256.4L427.9 256.7L427.6 256.8L427.3 256.9L426.6 257.1L426.0 257.3L425.8 257.4L425.3 257.6L424.6 257.8L424.0 258.0L424.0 258.0L423.3 258.3L422.6 258.5L422.1 258.7L422.0 258.7L421.3 258.9L420.7 259.2L420.2 259.3L420.0 259.4L419.3 259.6L418.7 259.8L418.3 259.9L418.0 260.0L417.4 260.3L416.7 260.5L416.3 260.6L416.0 260.7L415.4 260.9L414.7 261.1L414.4 261.2L414.0 261.3L413.4 261.5L412.7 261.7L412.4 261.9L412.1 261.9L411.4 262.1L410.7 262.4L410.3 262.5L410.1 262.6L409.4 262.8L408.8 263.0L408.2 263.1L408.1 263.2L407.4 263.3L406.8 263.5L406.1 263.7L406.0 263.8L405.5 263.9L404.8 264.1L404.1 264.3L403.8 264.4L403.5 264.5L402.8 264.7L402.1 264.9L401.5 265.0L401.5 265.0L400.8 265.2L400.2 265.4L399.5 265.6L399.2 265.7L398.8 265.8L398.2 265.9L397.5 266.1L396.9 266.3L396.7 266.3L396.2 266.4L395.5 266.6L394.9 266.8L394.2 266.9L394.2 266.9L393.5 267.1L392.9 267.3L392.2 267.4L391.6 267.6L391.5 267.6L390.9 267.7L390.2 267.9L389.6 268.0L388.9 268.2L388.7 268.2L388.3 268.3L387.6 268.5L386.9 268.6L386.3 268.7L385.8 268.8L385.6 268.9L384.9 269.0L384.3 269.2L383.6 269.3L383.0 269.4L382.6 269.5L382.3 269.6L381.6 269.7L381.0 269.8L380.3 269.9L379.7 270.1L379.3 270.1L379.0 270.2L378.3 270.3L377.7 270.4L377.0 270.5L376.3 270.6L375.7 270.7L375.6 270.8L375.0 270.9L374.4 271.0L373.7 271.1L373.0 271.2L372.4 271.3L371.7 271.4L371.6 271.4L371.1 271.5L370.4 271.6L369.7 271.7L369.1 271.8L368.4 271.8L367.8 271.9L367.1 272.0L367.0 272.0L366.4 272.1L365.8 272.2L365.1 272.3L364.4 272.3L363.8 272.4L363.1 272.5L362.5 272.6L361.8 272.6L361.6 272.7L361.1 272.7L360.5 272.8L359.8 272.8L359.2 272.9L358.5 273.0L357.8 273.0L357.2 273.1L356.5 273.2L355.8 273.2L355.2 273.3L354.7 273.3L354.5 273.3L353.9 273.3L353.2 273.3L352.5 273.3L351.9 273.3L351.2 273.3L350.6 273.3L349.9 273.3L349.2 273.3L348.6 273.3L347.9 273.3L347.2 273.3L346.6 273.3L345.9 273.3L345.3 273.3L344.6 273.3L343.9 273.3L343.3 273.3L342.6 273.3L342.0 273.3L341.3 273.3L340.6 273.3L340.0 273.3L339.3 273.3L338.6 273.3L338.0 273.3L337.3 273.3L336.7 273.3L336.0 273.3L335.3 273.3L334.7 273.3L334.0 273.3L333.4 273.3L332.7 273.3L332.0 273.3L331.4 273.3L330.7 273.3L330.1 273.3L329.4 273.3L328.7 273.3L328.1 273.3L327.4 273.3L326.7 273.3L326.1 273.3L325.4 273.3L324.8 273.3L324.1 273.3L323.4 273.3L322.8 273.3L322.1 273.3L321.5 273.3L320.8 273.3L320.1 273.3L319.5 273.3L318.8 273.3L318.1 273.3L317.5 273.3L316.8 273.3L316.2 273.3L315.5 273.3L314.8 273.3L314.2 273.3L313.5 273.3L312.9 273.3L312.5 273.3L312.2 273.3L311.5 273.2L310.9 273.2L310.2 273.1L309.5 273.1L308.9 273.0L308.2 273.0L307.6 272.9L306.9 272.9L306.2 272.8L305.6 272.7L304.9 272.7L304.7 272.7L304.3 272.6L303.6 272.6L302.9 272.5L302.3 272.4L301.6 272.4L301.0 272.3L300.3 272.2L299.6 272.2L299.0 272.1L298.4 272.0L298.3 272.0L297.6 271.9L297.0 271.9L296.3 271.8L295.7 271.7L295.0 271.6L294.3 271.6L293.7 271.5L293.0 271.4L292.9 271.4L292.4 271.3L291.7 271.2L291.0 271.2L290.4 271.1L289.7 271.0L289.0 270.9L288.4 270.8L287.8 270.8L287.7 270.7L287.1 270.7L286.4 270.6L286.4 270.1L286.4 269.5L286.4 268.8L286.4 268.2L286.4 267.6L286.4 266.9L286.4 266.3L286.4 265.7L286.4 265.0L286.4 264.4L286.4 263.8L286.4 263.1L286.4 262.5L286.4 261.9L286.4 261.2L286.4 260.6L286.4 259.9L286.4 259.3L286.4 258.7L286.4 258.0L286.4 257.4L286.4 256.8L286.4 256.1L286.4 255.5L286.4 254.9L286.4 254.2L286.4 253.6L286.4 252.9L286.4 252.3L286.4 251.7L286.4 251.0L286.4 250.4L286.4 249.8L286.4 249.1L286.4 248.5L286.4 247.9L286.4 247.2L286.4 246.6L286.4 246.0L286.4 245.3L286.4 244.7L286.4 244.0L286.4 243.4L286.4 242.8L286.4 242.1L286.4 241.5L286.4 240.9L286.4 240.2L286.4 239.6L286.4 239.0L286.4 238.3L286.4 237.7L286.4 237.0L286.4 236.4L286.4 235.8L286.4 235.1L286.4 234.5L286.4 233.9L286.4 233.2L286.4 232.6L286.4 232.0L286.4 231.3L286.4 230.7L286.4 230.0L286.4 229.4L286.4 228.8L286.4 228.1L286.4 227.5L286.4 226.9L286.4 226.2L286.4 225.6L286.4 225.0L286.4 224.3L286.4 223.7L286.4 223.1L286.4 222.4L286.4 221.8L286.4 221.1L286.4 220.5L286.4 219.9L286.4 219.2L286.4 218.6L286.4 218.0L286.4 217.3L286.4 216.7L286.4 216.1L286.4 215.4L286.4 214.8L286.4 214.1L286.4 213.5L286.4 212.9L286.4 212.2L286.4 211.6L286.4 211.0L286.4 210.3L286.4 209.7L286.4 209.1L286.4 208.4L286.4 207.8L286.4 207.2L286.4 206.5L286.4 205.9L286.4 205.2L286.4 204.6L286.4 204.0L286.4 203.3L286.4 202.7L286.4 202.1L286.4 201.4L286.4 200.8L286.4 200.2L286.4 199.5L286.4 198.9L286.4 198.2L286.4 197.6L286.4 197.0L286.4 196.3L286.4 195.7L286.4 195.1L286.4 194.4L286.4 193.8L286.4 193.2L286.4 192.5L286.4 191.9L286.4 191.3L286.4 190.6L286.4 190.0L286.4 189.3L286.4 188.7L286.4 188.1L286.4 187.4L286.4 186.8L286.4 186.2L286.4 185.5L286.4 184.9L286.4 184.3L286.4 183.6L286.4 183.0L286.4 182.3L286.4 181.7L286.4 181.1L286.4 180.4L286.4 179.8L286.4 179.2L286.4 178.5L286.4 177.9L286.4 177.3L286.4 176.6L286.4 176.0L286.4 175.4L286.4 174.7L286.4 174.1L286.4 173.4L286.4 172.8L286.4 172.2L286.4 171.5L286.4 170.9L286.4 170.3L286.4 169.6L286.4 169.0L286.4 168.4L286.4 167.7L286.4 167.1L286.4 166.4L286.4 165.8L286.4 165.2L286.4 164.5L286.4 163.9L286.4 163.3L286.4 162.6L286.4 162.0L286.4 161.4L286.4 160.7L286.4 160.1L286.4 159.4Z" fill="#e0a6af"/>
<path d="M287.1 159.4L287.7 159.4L288.4 159.4L289.0 159.4L289.7 159.4L290.4 159.4L291.0 159.4L291.7 159.4L292.4 159.4L293.0 159.4L293.7 159.4L294.3 159.4L295.0 159.4L295.7 159.4L296.3 159.4L297.0 159.4L297.6 159.4L298.3 159.4L299.0 159.4L299.6 159.4L300.3 159.4L301.0 159.4L301.6 159.4L302.3 159.4L302.9 159.4L303.6 159.4L304.3 159.4L304.9 159.4L305.6 159.4L306.2 159.4L306.9 159.4L307.6 159.4L308.2 159.4L308.9 159.4L309.5 159.4L310.2 159.4L310.9 159.4L311.5 159.4L312.2 159.4L312.9 159.4L313.5 159.4L314.2 159.4L314.8 159.4L315.5 159.4L316.2 159.4L316.8 159.4L317.5 159.4L318.1 159.4L318.8 159.4L319.5 159.4L320.1 159.4L320.8 159.4L321.5 159.4L322.1 159.4L322.8 159.4L323.4 159.4L324.1 159.4L324.8 159.4L325.4 159.4L326.1 159.4L326.7 159.4L327.4 159.4L328.1 159.4L328.7 159.4L329.4 159.4L330.1 159.4L330.7 159.4L331.4 159.4L332.0 159.4L332.7 159.4L333.4 159.4L334.0 159.4L334.7 159.4L335.3 159.4L336.0 159.4L336.7 159.4L337.3 159.4L338.0 159.4L338.6 159.4L339.3 159.4L340.0 159.4L340.6 159.4L341.3 159.4L342.0 159.4L342.6 159.4L343.3 159.4L343.9 159.4L344.6 159.4L345.3 159.4L345.9 159.4L346.6 159.4L347.2 159.4L347.9 159.4L348.6 159.4L349.2 159.4L349.9 159.4L350.6 159.4L351.2 159.4L351.9 159.4L352.5 159.4L353.2 159.4L353.9 159.4L354.5 159.4L355.2 159.4L355.8 159.4L356.5 159.4L357.2 159.4L357.8 159.4L358.5 159.4L359.2 159.4L359.8 159.4L360.5 159.4L361.1 159.4L361.8 159.4L362.5 159.4L363.1 159.4L363.8 159.4L364.4 159.4L365.1 159.4L365.8 159.4L366.4 159.4L367.1 159.4L367.8 159.4L368.4 159.4L369.1 159.4L369.7 159.4L370.4 159.4L371.1 159.4L371.7 159.4L372.4 159.4L373.0 159.4L373.7 159.4L374.4 159.4L375.0 159.4L375.7 159.4L376.3 159.4L377.0 159.4L377.7 159.4L378.3 159.4L379.0 159.4L379.7 159.4L380.3 159.4L381.0 159.4L381.6 159.4L382.3 159.4L383.0 159.4L383.6 159.4L384.3 159.4L384.9 159.4L385.6 159.4L386.3 159.4L386.9 159.4L387.6 159.4L388.3 159.4L388.9 159.4L389.6 159.4L390.2 159.4L390.9 159.4L391.6 159.4L392.2 159.4L392.9 159.4L393.5 159.4L394.2 159.4L394.9 159.4L395.5 159.4L396.2 159.4L396.9 159.4L397.5 159.4L398.2 159.4L398.8 159.4L399.5 159.4L400.2 159.4L400.8 159.4L401.5 159.4L402.1 159.4L402.8 159.4L403.5 159.4L404.1 159.4L404.8 159.4L405.5 159.4L406.1 159.4L406.8 159.4L407.4 159.4L408.1 159.4L408.8 159.4L409.4 159.4L410.1 159.4L410.7 159.4L411.4 159.4L412.1 159.4L412.7 159.4L413.4 159.4L414.0 159.4L414.7 159.4L415.4 159.4L416.0 159.4L416.7 159.4L417.4 159.4L418.0 159.4L418.7 159.4L419.3 159.4L420.0 159.4L420.7 159.4L421.3 159.4L422.0 159.4L422.6 159.4L423.3 159.4L424.0 159.4L424.6 159.4L425.3 159.4L426.0 159.4L426.6 159.4L427.3 159.4L427.9 159.4L428.6 159.4L429.3 159.4L429.9 159.4L430.6 159.4L431.2 159.4L431.9 159.4L432.6 159.4L433.2 159.4L433.9 159.4L434.6 159.4L435.2 159.4L435.9 159.4L436.5 159.4L437.2 159.4L437.9 159.4L438.5 159.4L439.2 159.4L439.8 159.4L440.5 159.4L441.2 159.4L441.8 159.4L442.5 159.4L443.1 159.4L443.8 159.4L444.5 159.4L445.1 159.4L445.8 159.4L446.5 159.4L447.1 159.4L447.8 159.4L448.4 159.4L449.1 159.4L449.8 159.4L450.4 159.4L451.1 159.4L451.7 159.4L452.4 159.4L453.1 159.4L453.7 159.4L454.4 159.4L455.1 159.4L455.7 159.4L456.4 159.4L457.0 159.4L457.7 159.4L457.7 160.1L457.7 160.7L457.7 161.4L457.7 162.0L457.7 162.6L457.7 163.3L457.7 163.9L457.7 164.5L457.7 165.2L457.7 165.8L457.7 166.4L457.7 167.1L457.7 167.7L457.7 168.4L457.7 169.0L457.7 169.6L457.7 170.3L457.7 170.9L457.7 171.5L457.7 172.2L457.7 172.8L457.7 173.4L457.7 174.1L457.7 174.7L457.7 175.4L457.7 176.0L457.7 176.6L457.7 177.3L457.7 177.9L457.7 178.5L457.7 179.2L457.7 179.8L457.7 180.4L457.7 181.1L457.7 181.7L457.7 182.3L457.7 183.0L457.7 183.6L457.7 184.3L457.7 184.9L457.7 185.5L457.7 186.2L457.7 186.8L457.7 187.4L457.7 188.1L457.7 188.7L457.7 189.3L457.7 190.0L457.7 190.6L457.7 191.3L457.7 191.9L457.7 192.5L457.7 193.2L457.7 193.8L457.7 194.4L457.7 195.1L457.7 195.7L457.7 196.3L457.7 197.0L457.7 197.6L457.7 198.2L457.7 198.9L457.7 199.5L457.7 200.2L457.7 200.8L457.7 201.4L457.7 202.1L457.7 202.7L457.7 203.3L457.7 204.0L457.7 204.6L457.7 205.2L457.7 205.9L457.7 206.5L457.7 207.2L457.7 207.8L457.7 208.4L457.7 209.1L457.7 209.7L457.7 210.3L457.7 211.0L457.7 211.6L457.7 212.2L457.7 212.9L457.7 213.5L457.7 214.1L457.7 214.8L457.7 215.4L457.7 216.1L457.7 216.7L457.7 217.3L457.7 218.0L457.7 218.6L457.7 219.2L457.7 219.9L457.7 220.5L457.7 221.1L457.7 221.8L457.7 222.4L457.7 223.1L457.7 223.7L457.7 224.3L457.7 225.0L457.7 225.6L457.7 226.2L457.7 226.9L457.7 227.5L457.7 227.6L457.0 227.9L456.6 228.1L456.4 228.2L455.7 228.6L455.3 228.8L455.1 228.9L454.4 229.2L454.0 229.4L453.7 229.5L453.1 229.9L452.7 230.0L452.4 230.2L451.7 230.5L451.3 230.7L451.1 230.8L450.4 231.1L450.0 231.3L449.8 231.4L449.1 231.8L448.7 232.0L448.4 232.1L447.8 232.4L447.3 232.6L447.1 232.7L446.5 233.0L446.0 233.2L445.8 233.3L445.1 233.6L444.6 233.9L444.5 233.9L443.8 234.2L443.2 234.5L443.1 234.5L442.5 234.9L441.9 235.1L441.8 235.2L441.2 235.5L440.5 235.8L440.5 235.8L439.8 236.1L439.2 236.4L439.1 236.4L438.5 236.7L437.9 237.0L437.7 237.0L437.2 237.3L436.5 237.6L436.3 237.7L435.9 237.9L435.2 238.2L434.8 238.3L434.6 238.4L433.9 238.7L433.4 239.0L433.2 239.0L432.6 239.3L431.9 239.6L431.9 239.6L431.2 239.9L430.6 240.2L430.5 240.2L429.9 240.5L429.3 240.8L429.0 240.9L428.6 241.0L427.9 241.3L427.5 241.5L427.3 241.6L426.6 241.9L426.0 242.1L426.0 242.2L425.3 242.4L424.6 242.7L424.5 242.8L424.0 243.0L423.3 243.3L422.9 243.4L422.6 243.5L422.0 243.8L421.4 244.0L421.3 244.1L420.7 244.3L420.0 244.6L419.8 244.7L419.3 244.9L418.7 245.1L418.2 245.3L418.0 245.4L417.4 245.6L416.7 245.9L416.6 246.0L416.0 246.2L415.4 246.4L414.9 246.6L414.7 246.7L414.0 246.9L413.4 247.2L413.2 247.2L412.7 247.4L412.1 247.7L411.5 247.9L411.4 247.9L410.7 248.2L410.1 248.4L409.8 248.5L409.4 248.6L408.8 248.9L408.1 249.1L408.0 249.1L407.4 249.3L406.8 249.6L406.2 249.8L406.1 249.8L405.5 250.0L404.8 250.3L404.4 250.4L404.1 250.5L403.5 250.7L402.8 250.9L402.5 251.0L402.1 251.2L401.5 251.4L400.8 251.6L400.6 251.7L400.2 251.8L399.5 252.0L398.8 252.2L398.6 252.3L398.2 252.5L397.5 252.7L396.9 252.9L396.6 252.9L396.2 253.1L395.5 253.3L394.9 253.5L394.5 253.6L394.2 253.7L393.5 253.9L392.9 254.1L392.3 254.2L392.2 254.3L391.6 254.4L390.9 254.6L390.2 254.8L390.1 254.9L389.6 255.0L388.9 255.2L388.3 255.4L387.8 255.5L387.6 255.5L386.9 255.7L386.3 255.9L385.6 256.1L385.3 256.1L384.9 256.2L384.3 256.4L383.6 256.6L383.0 256.7L382.8 256.8L382.3 256.9L381.6 257.0L381.0 257.2L380.3 257.4L380.1 257.4L379.7 257.5L379.0 257.7L378.3 257.8L377.7 257.9L377.3 258.0L377.0 258.1L376.3 258.2L375.7 258.4L375.0 258.5L374.4 258.6L374.2 258.7L373.7 258.8L373.0 258.9L372.4 259.0L371.7 259.2L371.1 259.3L370.9 259.3L370.4 259.4L369.7 259.5L369.1 259.6L368.4 259.8L367.8 259.9L367.3 259.9L367.1 260.0L366.4 260.1L365.8 260.2L365.1 260.3L364.4 260.4L363.8 260.5L363.3 260.6L363.1 260.6L362.5 260.7L361.8 260.8L361.1 260.9L360.5 261.0L359.8 261.1L359.2 261.2L358.6 261.2L358.5 261.2L357.8 261.3L357.2 261.4L356.5 261.5L355.8 261.5L355.2 261.6L354.5 261.7L353.9 261.8L353.2 261.8L352.9 261.9L352.5 261.9L351.9 261.9L351.2 262.0L350.6 262.1L349.9 262.1L349.2 262.2L348.6 262.2L347.9 262.3L347.2 262.3L346.6 262.4L345.9 262.4L345.3 262.5L344.6 262.5L344.6 262.5L343.9 262.5L343.3 262.6L342.6 262.6L342.0 262.6L341.3 262.7L340.6 262.7L340.0 262.7L339.3 262.7L338.6 262.8L338.0 262.8L337.3 262.8L336.7 262.8L336.0 262.8L335.3 262.8L334.7 262.8L334.0 262.8L333.4 262.8L332.7 262.9L332.0 262.9L331.4 262.9L330.7 262.8L330.1 262.8L329.4 262.8L328.7 262.8L328.1 262.8L327.4 262.8L326.7 262.8L326.1 262.8L325.4 262.8L324.8 262.7L324.1 262.7L323.4 262.7L322.8 262.7L322.1 262.7L321.5 262.6L320.8 262.6L320.1 262.6L319.5 262.5L318.8 262.5L318.7 262.5L318.1 262.5L317.5 262.4L316.8 262.4L316.2 262.3L315.5 262.3L314.8 262.3L314.2 262.2L313.5 262.2L312.9 262.1L312.2 262.1L311.5 262.0L310.9 262.0L310.2 261.9L309.7 261.9L309.5 261.8L308.9 261.8L308.2 261.7L307.6 261.7L306.9 261.6L306.2 261.5L305.6 261.5L304.9 261.4L304.3 261.3L303.6 261.3L303.2 261.2L302.9 261.2L302.3 261.1L301.6 261.0L301.0 261.0L300.3 260.9L299.6 260.8L299.0 260.7L298.3 260.7L297.7 260.6L297.6 260.6L297.0 260.5L296.3 260.4L295.7 260.3L295.0 260.2L294.3 260.2L293.7 260.1L293.0 260.0L292.8 259.9L292.4 259.9L291.7 259.8L291.0 259.7L290.4 259.6L289.7 259.5L289.0 259.4L288.4 259.3L288.2 259.3L287.7 259.2L287.1 259.1L286.4 259.0L286.4 258.7L286.4 258.0L286.4 257.4L286.4 256.8L286.4 256.1L286.4 255.5L286.4 254.9L286.4 254.2L286.4 253.6L286.4 252.9L286.4 252.3L286.4 251.7L286.4 251.0L286.4 250.4L286.4 249.8L286.4 249.1L286.4 248.5L286.4 247.9L286.4 247.2L286.4 246.6L286.4 246.0L286.4 245.3L286.4 244.7L286.4 244.0L286.4 243.4L286.4 242.8L286.4 242.1L286.4 241.5L286.4 240.9L286.4 240.2L286.4 239.6L286.4 239.0L286.4 238.3L286.4 237.7L286.4 237.0L286.4 236.4L286.4 235.8L286.4 235.1L286.4 234.5L286.4 233.9L286.4 233.2L286.4 232.6L286.4 232.0L286.4 231.3L286.4 230.7L286.4 230.0L286.4 229.4L286.4 228.8L286.4 228.1L286.4 227.5L286.4 226.9L286.4 226.2L286.4 225.6L286.4 225.0L286.4 224.3L286.4 223.7L286.4 223.1L286.4 222.4L286.4 221.8L286.4 221.1L286.4 220.5L286.4 219.9L286.4 219.2L286.4 218.6L286.4 218.0L286.4 217.3L286.4 216.7L286.4 216.1L286.4 215.4L286.4 214.8L286.4 214.1L286.4 213.5L286.4 212.9L286.4 212.2L286.4 211.6L286.4 211.0L286.4 210.3L286.4 209.7L286.4 209.1L286.4 208.4L286.4 207.8L286.4 207.2L286.4 206.5L286.4 205.9L286.4 205.2L286.4 204.6L286.4 204.0L286.4 203.3L286.4 202.7L286.4 202.1L286.4 201.4L286.4 200.8L286.4 200.2L286.4 199.5L286.4 198.9L286.4 198.2L286.4 197.6L286.4 197.0L286.4 196.3L286.4 195.7L286.4 195.1L286.4 194.4L286.4 193.8L286.4 193.2L286.4 192.5L286.4 191.9L286.4 191.3L286.4 190.6L286.4 190.0L286.4 189.3L286.4 188.7L286.4 188.1L286.4 187.4L286.4 186.8L286.4 186.2L286.4 185.5L286.4 184.9L286.4 184.3L286.4 183.6L286.4 183.0L286.4 182.3L286.4 181.7L286.4 181.1L286.4 180.4L286.4 179.8L286.4 179.2L286.4 178.5L286.4 177.9L286.4 177.3L286.4 176.6L286.4 176.0L286.4 175.4L286.4 174.7L286.4 174.1L286.4 173.4L286.4 172.8L286.4 172.2L286.4 171.5L286.4 170.9L286.4 170.3L286.4 169.6L286.4 169.0L286.4 168.4L286.4 167.7L286.4 167.1L286.4 166.4L286.4 165.8L286.4 165.2L286.4 164.5L286.4 163.9L286.4 163.3L286.4 162.6L286.4 162.0L286.4 161.4L286.4 160.7L286.4 160.1L286.4 159.4Z" fill="#eecfd5"/>
<path d="M287.1 159.4L287.7 159.4L288.4 159.4L289.0 159.4L289.7 159.4L290.4 159.4L291.0 159.4L291.7 159.4L292.4 159.4L293.0 159.4L293.7 159.4L294.3 159.4L295.0 159.4L295.7 159.4L296.3 159.4L297.0 159.4L297.6 159.4L298.3 159.4L299.0 159.4L299.6 159.4L300.3 159.4L301.0 159.4L301.6 159.4L302.3 159.4L302.9 159.4L303.6 159.4L304.3 159.4L304.9 159.4L305.6 159.4L306.2 159.4L306.9 159.4L307.6 159.4L308.2 159.4L308.9 159.4L309.5 159.4L310.2 159.4L310.9 159.4L311.5 159.4L312.2 159.4L312.9 159.4L313.5 159.4L314.2 159.4L314.8 159.4L315.5 159.4L316.2 159.4L316.8 159.4L317.5 159.4L318.1 159.4L318.8 159.4L319.5 159.4L320.1 159.4L320.8 159.4L321.5 159.4L322.1 159.4L322.8 159.4L323.4 159.4L324.1 159.4L324.8 159.4L325.4 159.4L326.1 159.4L326.7 159.4L327.4 159.4L328.1 159.4L328.7 159.4L329.4 159.4L330.1 159.4L330.7 159.4L331.4 159.4L332.0 159.4L332.7 159.4L333.4 159.4L334.0 159.4L334.7 159.4L335.3 159.4L336.0 159.4L336.7 159.4L337.3 159.4L338.0 159.4L338.6 159.4L339.3 159.4L340.0 159.4L340.6 159.4L341.3 159.4L342.0 159.4L342.6 159.4L343.3 159.4L343.9 159.4L344.6 159.4L345.3 159.4L345.9 159.4L346.6 159.4L347.2 159.4L347.9 159.4L348.6 159.4L349.2 159.4L349.9 159.4L350.6 159.4L351.2 159.4L351.9 159.4L352.5 159.4L353.2 159.4L353.9 159.4L354.5 159.4L355.2 159.4L355.8 159.4L356.5 159.4L357.2 159.4L357.8 159.4L358.5 159.4L359.2 159.4L359.8 159.4L360.5 159.4L361.1 159.4L361.8 159.4L362.5 159.4L363.1 159.4L363.8 159.4L364.4 159.4L365.1 159.4L365.8 159.4L366.4 159.4L367.1 159.4L367.8 159.4L368.4 159.4L369.1 159.4L369.7 159.4L370.4 159.4L371.1 159.4L371.7 159.4L372.4 159.4L373.0 159.4L373.7 159.4L374.4 159.4L375.0 159.4L375.7 159.4L376.3 159.4L377.0 159.4L377.7 159.4L378.3 159.4L379.0 159.4L379.7 159.4L380.3 159.4L381.0 159.4L381.6 159.4L382.3 159.4L383.0 159.4L383.6 159.4L384.3 159.4L384.9 159.4L385.6 159.4L386.3 159.4L386.9 159.4L387.6 159.4L388.3 159.4L388.9 159.4L389.6 159.4L390.2 159.4L390.9 159.4L391.6 159.4L392.2 159.4L392.9 159.4L393.5 159.4L394.2 159.4L394.9 159.4L395.5 159.4L396.2 159.4L396.9 159.4L397.5 159.4L398.2 159.4L398.8 159.4L399.5 159.4L400.2 159.4L400.8 159.4L401.5 159.4L402.1 159.4L402.8 159.4L403.5 159.4L404.1 159.4L404.8 159.4L405.5 159.4L406.1 159.4L406.8 159.4L407.4 159.4L408.1 159.4L408.8 159.4L409.4 159.4L410.1 159.4L410.7 159.4L411.4 159.4L412.1 159.4L412.7 159.4L413.4 159.4L414.0 159.4L414.7 159.4L415.4 159.4L416.0 159.4L416.7 159.4L417.4 159.4L418.0 159.4L418.7 159.4L419.3 159.4L420.0 159.4L420.7 159.4L421.3 159.4L422.0 159.4L422.6 159.4L423.3 159.4L424.0 159.4L424.6 159.4L425.3 159.4L426.0 159.4L426.6 159.4L427.3 159.4L427.9 159.4L428.6 159.4L429.3 159.4L429.9 159.4L430.6 159.4L431.2 159.4L431.9 159.4L432.6 159.4L433.2 159.4L433.9 159.4L434.6 159.4L435.2 159.4L435.9 159.4L436.5 159.4L437.2 159.4L437.9 159.4L438.5 159.4L439.2 159.4L439.8 159.4L440.5 159.4L441.2 159.4L441.8 159.4L442.5 159.4L443.1 159.4L443.8 159.4L444.5 159.4L445.1 159.4L445.8 159.4L446.5 159.4L447.1 159.4L447.8 159.4L448.4 159.4L449.1 159.4L449.8 159.4L450.4 159.4L451.1 159.4L451.7 159.4L452.4 159.4L453.1 159.4L453.7 159.4L454.4 159.4L455.1 159.4L455.7 159.4L456.4 159.4L457.0 159.4L457.7 159.4L457.7 160.1L457.7 160.7L457.7 161.4L457.7 162.0L457.7 162.6L457.7 163.3L457.7 163.9L457.7 164.5L457.7 165.2L457.7 165.8L457.7 166.4L457.7 167.1L457.7 167.7L457.7 168.4L457.7 169.0L457.7 169.6L457.7 170.3L457.7 170.9L457.7 171.5L457.7 172.2L457.7 172.8L457.7 173.4L457.7 174.1L457.7 174.7L457.7 175.4L457.7 176.0L457.7 176.6L457.7 177.3L457.7 177.9L457.7 178.5L457.7 179.2L457.7 179.8L457.7 180.4L457.7 181.1L457.7 181.7L457.7 182.3L457.7 183.0L457.7 183.6L457.7 184.3L457.7 184.9L457.7 185.5L457.7 186.2L457.7 186.8L457.7 187.4L457.7 188.1L457.7 188.7L457.7 189.3L457.7 190.0L457.7 190.6L457.7 191.3L457.7 191.9L457.7 192.5L457.7 193.2L457.7 193.8L457.7 194.4L457.7 195.1L457.7 195.7L457.7 196.3L457.7 197.0L457.7 197.6L457.7 198.2L457.7 198.9L457.7 199.5L457.7 200.0L457.7 200.2L457.4 200.8L457.2 201.4L457.0 202.0L457.0 202.1L456.8 202.7L456.5 203.3L456.4 203.6L456.2 204.0L456.0 204.6L455.7 205.1L455.7 205.2L455.3 205.9L455.1 206.4L455.0 206.5L454.7 207.2L454.4 207.6L454.3 207.8L453.9 208.4L453.7 208.7L453.5 209.1L453.1 209.7L453.1 209.7L452.7 210.3L452.4 210.7L452.2 211.0L451.7 211.6L451.7 211.6L451.2 212.2L451.1 212.4L450.7 212.9L450.4 213.2L450.1 213.5L449.8 213.9L449.6 214.1L449.1 214.7L449.0 214.8L448.4 215.4L448.4 215.4L447.8 216.0L447.8 216.1L447.1 216.7L447.1 216.7L446.5 217.3L446.4 217.3L445.8 217.9L445.7 218.0L445.1 218.5L445.0 218.6L444.5 219.0L444.2 219.2L443.8 219.6L443.5 219.9L443.1 220.1L442.7 220.5L442.5 220.7L441.9 221.1L441.8 221.2L441.2 221.7L441.0 221.8L440.5 222.1L440.1 222.4L439.8 222.6L439.2 223.1L439.2 223.1L438.5 223.6L438.3 223.7L437.9 224.0L437.4 224.3L437.2 224.5L436.5 224.9L436.4 225.0L435.9 225.3L435.4 225.6L435.2 225.7L434.6 226.2L434.4 226.2L433.9 226.6L433.4 226.9L433.2 227.0L432.6 227.4L432.3 227.5L431.9 227.8L431.3 228.1L431.2 228.1L430.6 228.5L430.1 228.8L429.9 228.9L429.3 229.3L429.0 229.4L428.6 229.6L427.9 230.0L427.9 230.0L427.3 230.4L426.7 230.7L426.6 230.7L426.0 231.1L425.5 231.3L425.3 231.4L424.6 231.8L424.3 232.0L424.0 232.1L423.3 232.4L423.0 232.6L422.6 232.8L422.0 233.1L421.8 233.2L421.3 233.4L420.7 233.8L420.5 233.9L420.0 234.1L419.3 234.4L419.1 234.5L418.7 234.7L418.0 235.0L417.8 235.1L417.4 235.3L416.7 235.6L416.4 235.8L416.0 235.9L415.4 236.2L415.0 236.4L414.7 236.5L414.0 236.8L413.6 237.0L413.4 237.1L412.7 237.4L412.1 237.7L412.1 237.7L411.4 238.0L410.7 238.3L410.6 238.3L410.1 238.6L409.4 238.8L409.1 239.0L408.8 239.1L408.1 239.4L407.6 239.6L407.4 239.6L406.8 239.9L406.1 240.2L406.0 240.2L405.5 240.4L404.8 240.7L404.4 240.9L404.1 241.0L403.5 241.2L402.8 241.5L402.7 241.5L402.1 241.7L401.5 242.0L401.0 242.1L400.8 242.2L400.2 242.4L399.5 242.7L399.3 242.8L398.8 242.9L398.2 243.2L397.5 243.4L397.5 243.4L396.9 243.6L396.2 243.9L395.6 244.0L395.5 244.1L394.9 244.3L394.2 244.5L393.7 244.7L393.5 244.7L392.9 245.0L392.2 245.2L391.8 245.3L391.6 245.4L390.9 245.6L390.2 245.8L389.8 246.0L389.6 246.0L388.9 246.2L388.3 246.4L387.7 246.6L387.6 246.6L386.9 246.8L386.3 247.0L385.6 247.2L385.5 247.2L384.9 247.4L384.3 247.6L383.6 247.7L383.2 247.9L383.0 247.9L382.3 248.1L381.6 248.3L381.0 248.5L380.8 248.5L380.3 248.6L379.7 248.8L379.0 249.0L378.3 249.1L378.3 249.1L377.7 249.3L377.0 249.4L376.3 249.6L375.7 249.8L375.7 249.8L375.0 249.9L374.4 250.1L373.7 250.2L373.0 250.4L372.8 250.4L372.4 250.5L371.7 250.6L371.1 250.8L370.4 250.9L369.8 251.0L369.7 251.0L369.1 251.2L368.4 251.3L367.8 251.4L367.1 251.6L366.5 251.7L366.4 251.7L365.8 251.8L365.1 251.9L364.4 252.0L363.8 252.1L363.1 252.3L362.8 252.3L362.5 252.4L361.8 252.5L361.1 252.6L360.5 252.7L359.8 252.8L359.2 252.9L358.6 252.9L358.5 253.0L357.8 253.0L357.2 253.1L356.5 253.2L355.8 253.3L355.2 253.4L354.5 253.5L353.9 253.5L353.5 253.6L353.2 253.6L352.5 253.7L351.9 253.8L351.2 253.8L350.6 253.9L349.9 254.0L349.2 254.0L348.6 254.1L347.9 254.1L347.2 254.2L346.9 254.2L346.6 254.2L345.9 254.3L345.3 254.3L344.6 254.4L343.9 254.4L343.3 254.5L342.6 254.5L342.0 254.5L341.3 254.6L340.6 254.6L340.0 254.6L339.3 254.7L338.6 254.7L338.0 254.7L337.3 254.7L336.7 254.8L336.0 254.8L335.3 254.8L334.7 254.8L334.0 254.8L333.4 254.8L332.7 254.8L332.0 254.8L331.4 254.8L330.7 254.8L330.1 254.8L329.4 254.8L328.7 254.8L328.1 254.8L327.4 254.8L326.7 254.8L326.1 254.8L325.4 254.8L324.8 254.7L324.1 254.7L323.4 254.7L322.8 254.7L322.1 254.6L321.5 254.6L320.8 254.6L320.1 254.6L319.5 254.5L318.8 254.5L318.1 254.4L317.5 254.4L316.8 254.4L316.2 254.3L315.5 254.3L314.8 254.2L314.7 254.2L314.2 254.2L313.5 254.1L312.9 254.1L312.2 254.0L311.5 254.0L310.9 253.9L310.2 253.9L309.5 253.8L308.9 253.7L308.2 253.7L307.6 253.6L307.3 253.6L306.9 253.5L306.2 253.5L305.6 253.4L304.9 253.3L304.3 253.3L303.6 253.2L302.9 253.1L302.3 253.0L301.6 253.0L301.6 252.9L301.0 252.9L300.3 252.8L299.6 252.7L299.0 252.6L298.3 252.5L297.6 252.5L297.0 252.4L296.6 252.3L296.3 252.3L295.7 252.2L295.0 252.1L294.3 252.0L293.7 251.9L293.0 251.8L292.4 251.7L292.0 251.7L291.7 251.6L291.0 251.5L290.4 251.4L289.7 251.3L289.0 251.2L288.4 251.1L287.8 251.0L287.7 251.0L287.1 250.9L286.4 250.8L286.4 250.4L286.4 249.8L286.4 249.1L286.4 248.5L286.4 247.9L286.4 247.2L286.4 246.6L286.4 246.0L286.4 245.3L286.4 244.7L286.4 244.0L286.4 243.4L286.4 242.8L286.4 242.1L286.4 241.5L286.4 240.9L286.4 240.2L286.4 239.6L286.4 239.0L286.4 238.3L286.4 237.7L286.4 237.0L286.4 236.4L286.4 235.8L286.4 235.1L286.4 234.5L286.4 233.9L286.4 233.2L286.4 232.6L286.4 232.0L286.4 231.3L286.4 230.7L286.4 230.0L286.4 229.4L286.4 228.8L286.4 228.1L286.4 227.5L286.4 226.9L286.4 226.2L286.4 225.6L286.4 225.0L286.4 224.3L286.4 223.7L286.4 223.1L286.4 222.4L286.4 221.8L286.4 221.1L286.4 220.5L286.4 219.9L286.4 219.2L286.4 218.6L286.4 218.0L286.4 217.3L286.4 216.7L286.4 216.1L286.4 215.4L286.4 214.8L286.4 214.1L286.4 213.5L286.4 212.9L286.4 212.2L286.4 211.6L286.4 211.0L286.4 210.3L286.4 209.7L286.4 209.1L286.4 208.4L286.4 207.8L286.4 207.2L286.4 206.5L286.4 205.9L286.4 205.2L286.4 204.6L286.4 204.0L286.4 203.3L286.4 202.7L286.4 202.1L286.4 201.4L286.4 200.8L286.4 200.2L286.4 199.5L286.4 198.9L286.4 198.2L286.4 197.6L286.4 197.0L286.4 196.3L286.4 195.7L286.4 195.1L286.4 194.4L286.4 193.8L286.4 193.2L286.4 192.5L286.4 191.9L286.4 191.3L286.4 190.6L286.4 190.0L286.4 189.3L286.4 188.7L286.4 188.1L286.4 187.4L286.4 186.8L286.4 186.2L286.4 185.5L286.4 184.9L286.4 184.3L286.4 183.6L286.4 183.0L286.4 182.3L286.4 181.7L286.4 181.1L286.4 180.4L286.4 179.8L286.4 179.2L286.4 178.5L286.4 177.9L286.4 177.3L286.4 176.6L286.4 176.0L286.4 175.4L286.4 174.7L286.4 174.1L286.4 173.4L286.4 172.8L286.4 172.2L286.4 171.5L286.4 170.9L286.4 170.3L286.4 169.6L286.4 169.0L286.4 168.4L286.4 167.7L286.4 167.1L286.4 166.4L286.4 165.8L286.4 165.2L286.4 164.5L286.4 163.9L286.4 163.3L286.4 162.6L286.4 162.0L286.4 161.4L286.4 160.7L286.4 160.1L286.4 159.4Z" fill="#f7eff1"/>
<path d="M287.1 159.4L287.7 159.4L288.4 159.4L289.0 159.4L289.7 159.4L290.4 159.4L291.0 159.4L291.7 159.4L292.4 159.4L293.0 159.4L293.7 159.4L294.3 159.4L295.0 159.4L295.7 159.4L296.3 159.4L297.0 159.4L297.6 159.4L298.3 159.4L299.0 159.4L299.6 159.4L300.3 159.4L301.0 159.4L301.6 159.4L302.3 159.4L302.9 159.4L303.6 159.4L304.3 159.4L304.9 159.4L305.6 159.4L306.2 159.4L306.9 159.4L307.6 159.4L308.2 159.4L308.9 159.4L309.5 159.4L310.2 159.4L310.9 159.4L311.5 159.4L312.2 159.4L312.9 159.4L313.5 159.4L314.2 159.4L314.8 159.4L315.5 159.4L316.2 159.4L316.8 159.4L317.5 159.4L318.1 159.4L318.8 159.4L319.5 159.4L320.1 159.4L320.8 159.4L321.5 159.4L322.1 159.4L322.8 159.4L323.4 159.4L324.1 159.4L324.8 159.4L325.4 159.4L326.1 159.4L326.7 159.4L327.4 159.4L328.1 159.4L328.7 159.4L329.4 159.4L330.1 159.4L330.7 159.4L331.4 159.4L332.0 159.4L332.7 159.4L333.4 159.4L334.0 159.4L334.7 159.4L335.3 159.4L336.0 159.4L336.7 159.4L337.3 159.4L338.0 159.4L338.6 159.4L339.3 159.4L340.0 159.4L340.6 159.4L341.3 159.4L342.0 159.4L342.6 159.4L343.3 159.4L343.9 159.4L344.6 159.4L345.3 159.4L345.9 159.4L346.6 159.4L347.2 159.4L347.9 159.4L348.6 159.4L349.2 159.4L349.9 159.4L350.6 159.4L351.2 159.4L351.9 159.4L352.5 159.4L353.2 159.4L353.9 159.4L354.5 159.4L355.2 159.4L355.8 159.4L356.5 159.4L357.2 159.4L357.8 159.4L358.5 159.4L359.2 159.4L359.8 159.4L360.5 159.4L361.1 159.4L361.8 159.4L362.5 159.4L363.1 159.4L363.8 159.4L364.4 159.4L365.1 159.4L365.8 159.4L366.4 159.4L367.1 159.4L367.8 159.4L368.4 159.4L369.1 159.4L369.7 159.4L370.4 159.4L371.1 159.4L371.7 159.4L372.4 159.4L373.0 159.4L373.7 159.4L374.4 159.4L375.0 159.4L375.7 159.4L376.3 159.4L377.0 159.4L377.7 159.4L378.3 159.4L379.0 159.4L379.7 159.4L380.3 159.4L381.0 159.4L381.6 159.4L382.3 159.4L383.0 159.4L383.6 159.4L384.3 159.4L384.9 159.4L385.6 159.4L386.3 159.4L386.9 159.4L387.6 159.4L388.3 159.4L388.9 159.4L389.6 159.4L390.2 159.4L390.9 159.4L391.6 159.4L392.2 159.4L392.9 159.4L393.5 159.4L394.2 159.4L394.9 159.4L395.5 159.4L396.2 159.4L396.9 159.4L397.5 159.4L398.2 159.4L398.8 159.4L399.5 159.4L400.2 159.4L400.8 159.4L401.5 159.4L402.1 159.4L402.8 159.4L403.5 159.4L404.1 159.4L404.8 159.4L405.5 159.4L406.1 159.4L406.8 159.4L407.4 159.4L408.1 159.4L408.8 159.4L409.4 159.4L410.1 159.4L410.7 159.4L411.4 159.4L412.1 159.4L412.7 159.4L413.4 159.4L414.0 159.4L414.7 159.4L415.4 159.4L416.0 159.4L416.7 159.4L417.4 159.4L418.0 159.4L418.7 159.4L419.3 159.4L420.0 159.4L420.7 159.4L421.3 159.4L422.0 159.4L422.6 159.4L423.3 159.4L424.0 159.4L424.6 159.4L425.3 159.4L426.0 159.4L426.6 159.4L427.3 159.4L427.9 159.4L428.6 159.4L429.3 159.4L429.9 159.4L430.6 159.4L431.2 159.4L431.9 159.4L432.6 159.4L433.2 159.4L433.9 159.4L434.6 159.4L435.2 159.4L435.9 159.4L436.5 159.4L437.2 159.4L437.9 159.4L438.5 159.4L439.2 159.4L439.8 159.4L440.5 159.4L441.2 159.4L441.8 159.4L442.3 159.4L442.3 160.1L442.3 160.7L442.3 161.4L442.2 162.0L442.2 162.6L442.2 163.3L442.2 163.9L442.2 164.5L442.2 165.2L442.2 165.8L442.2 166.4L442.2 167.1L442.1 167.7L442.1 168.4L442.1 169.0L442.1 169.6L442.1 170.3L442.1 170.9L442.1 171.5L442.0 172.2L442.0 172.8L442.0 173.4L442.0 174.1L442.0 174.7L442.0 175.4L441.9 176.0L441.9 176.6L441.9 177.3L441.9 177.9L441.8 178.5L441.8 178.8L441.8 179.2L441.8 179.8L441.8 180.4L441.7 181.1L441.7 181.7L441.7 182.3L441.6 183.0L441.6 183.6L441.5 184.3L441.5 184.9L441.4 185.5L441.4 186.2L441.3 186.8L441.3 187.4L441.2 188.1L441.2 188.7L441.2 188.7L441.1 189.3L441.0 190.0L441.0 190.6L440.9 191.3L440.8 191.9L440.7 192.5L440.6 193.2L440.5 193.8L440.5 193.9L440.4 194.4L440.3 195.1L440.2 195.7L440.1 196.3L439.9 197.0L439.8 197.4L439.8 197.6L439.7 198.2L439.5 198.9L439.3 199.5L439.2 200.1L439.2 200.2L439.0 200.8L438.8 201.4L438.6 202.1L438.5 202.3L438.4 202.7L438.2 203.3L437.9 204.0L437.9 204.1L437.7 204.6L437.4 205.2L437.2 205.7L437.1 205.9L436.8 206.5L436.5 207.1L436.5 207.2L436.2 207.8L435.9 208.4L435.9 208.4L435.5 209.1L435.2 209.5L435.1 209.7L434.7 210.3L434.6 210.6L434.3 211.0L433.9 211.6L433.9 211.6L433.4 212.2L433.2 212.5L432.9 212.9L432.6 213.4L432.4 213.5L431.9 214.1L431.9 214.2L431.4 214.8L431.2 214.9L430.8 215.4L430.6 215.7L430.2 216.1L429.9 216.4L429.6 216.7L429.3 217.1L429.0 217.3L428.6 217.7L428.3 218.0L427.9 218.3L427.6 218.6L427.3 218.9L426.9 219.2L426.6 219.5L426.2 219.9L426.0 220.1L425.4 220.5L425.3 220.6L424.6 221.1L424.6 221.1L424.0 221.6L423.8 221.8L423.3 222.1L422.9 222.4L422.6 222.6L422.1 223.1L422.0 223.1L421.3 223.6L421.2 223.7L420.7 224.0L420.2 224.3L420.0 224.5L419.3 224.9L419.3 225.0L418.7 225.3L418.3 225.6L418.0 225.7L417.4 226.2L417.2 226.2L416.7 226.6L416.2 226.9L416.0 227.0L415.4 227.3L415.1 227.5L414.7 227.7L414.0 228.1L414.0 228.1L413.4 228.5L412.8 228.8L412.7 228.8L412.1 229.2L411.6 229.4L411.4 229.5L410.7 229.9L410.4 230.0L410.1 230.2L409.4 230.6L409.2 230.7L408.8 230.9L408.1 231.2L407.9 231.3L407.4 231.5L406.8 231.9L406.6 232.0L406.1 232.2L405.5 232.5L405.2 232.6L404.8 232.8L404.1 233.1L403.8 233.2L403.5 233.4L402.8 233.7L402.4 233.9L402.1 234.0L401.5 234.3L400.9 234.5L400.8 234.6L400.2 234.8L399.5 235.1L399.4 235.1L398.8 235.4L398.2 235.6L397.9 235.8L397.5 235.9L396.9 236.2L396.3 236.4L396.2 236.4L395.5 236.7L394.9 236.9L394.6 237.0L394.2 237.2L393.5 237.4L392.9 237.7L392.9 237.7L392.2 237.9L391.6 238.2L391.1 238.3L390.9 238.4L390.2 238.6L389.6 238.9L389.3 239.0L388.9 239.1L388.3 239.3L387.6 239.5L387.4 239.6L386.9 239.7L386.3 239.9L385.6 240.2L385.4 240.2L384.9 240.4L384.3 240.6L383.6 240.8L383.3 240.9L383.0 241.0L382.3 241.2L381.6 241.4L381.2 241.5L381.0 241.6L380.3 241.7L379.7 241.9L379.0 242.1L378.9 242.1L378.3 242.3L377.7 242.5L377.0 242.6L376.5 242.8L376.3 242.8L375.7 243.0L375.0 243.2L374.4 243.3L374.0 243.4L373.7 243.5L373.0 243.6L372.4 243.8L371.7 243.9L371.3 244.0L371.1 244.1L370.4 244.2L369.7 244.4L369.1 244.5L368.4 244.7L368.4 244.7L367.8 244.8L367.1 244.9L366.4 245.1L365.8 245.2L365.2 245.3L365.1 245.3L364.4 245.5L363.8 245.6L363.1 245.7L362.5 245.8L361.8 245.9L361.7 246.0L361.1 246.0L360.5 246.2L359.8 246.3L359.2 246.4L358.5 246.5L357.8 246.6L357.7 246.6L357.2 246.7L356.5 246.8L355.8 246.8L355.2 246.9L354.5 247.0L353.9 247.1L353.2 247.2L352.9 247.2L352.5 247.3L351.9 247.3L351.2 247.4L350.6 247.5L349.9 247.6L349.2 247.6L348.6 247.7L347.9 247.7L347.2 247.8L346.6 247.9L346.6 247.9L345.9 247.9L345.3 248.0L344.6 248.0L343.9 248.1L343.3 248.1L342.6 248.2L342.0 248.2L341.3 248.2L340.6 248.3L340.0 248.3L339.3 248.3L338.6 248.4L338.0 248.4L337.3 248.4L336.7 248.4L336.0 248.4L335.3 248.5L334.7 248.5L334.0 248.5L333.8 248.5L333.4 248.5L332.7 248.5L332.0 248.5L331.4 248.5L330.7 248.5L330.1 248.5L329.4 248.5L328.7 248.5L328.1 248.5L327.7 248.5L327.4 248.5L326.7 248.5L326.1 248.5L325.4 248.4L324.8 248.4L324.1 248.4L323.4 248.4L322.8 248.4L322.1 248.3L321.5 248.3L320.8 248.3L320.1 248.2L319.5 248.2L318.8 248.2L318.1 248.1L317.5 248.1L316.8 248.0L316.2 248.0L315.5 248.0L314.8 247.9L314.2 247.9L314.2 247.9L313.5 247.8L312.9 247.8L312.2 247.7L311.5 247.6L310.9 247.6L310.2 247.5L309.5 247.5L308.9 247.4L308.2 247.3L307.6 247.3L307.3 247.2L306.9 247.2L306.2 247.1L305.6 247.0L304.9 247.0L304.3 246.9L303.6 246.8L302.9 246.7L302.3 246.6L301.8 246.6L301.6 246.6L301.0 246.5L300.3 246.4L299.6 246.3L299.0 246.2L298.3 246.1L297.6 246.0L297.0 246.0L297.0 245.9L296.3 245.8L295.7 245.8L295.0 245.7L294.3 245.6L293.7 245.5L293.0 245.4L292.7 245.3L292.4 245.3L291.7 245.2L291.0 245.0L290.4 244.9L289.7 244.8L289.0 244.7L288.7 244.7L288.4 244.6L287.7 244.5L287.1 244.4L286.4 244.3L286.4 244.0L286.4 243.4L286.4 242.8L286.4 242.1L286.4 241.5L286.4 240.9L286.4 240.2L286.4 239.6L286.4 239.0L286.4 238.3L286.4 237.7L286.4 237.0L286.4 236.4L286.4 235.8L286.4 235.1L286.4 234.5L286.4 233.9L286.4 233.2L286.4 232.6L286.4 232.0L286.4 231.3L286.4 230.7L286.4 230.0L286.4 229.4L286.4 228.8L286.4 228.1L286.4 227.5L286.4 226.9L286.4 226.2L286.4 225.6L286.4 225.0L286.4 224.3L286.4 223.7L286.4 223.1L286.4 222.4L286.4 221.8L286.4 221.1L286.4 220.5L286.4 219.9L286.4 219.2L286.4 218.6L286.4 218.0L286.4 217.3L286.4 216.7L286.4 216.1L286.4 215.4L286.4 214.8L286.4 214.1L286.4 213.5L286.4 212.9L286.4 212.2L286.4 211.6L286.4 211.0L286.4 210.3L286.4 209.7L286.4 209.1L286.4 208.4L286.4 207.8L286.4 207.2L286.4 206.5L286.4 205.9L286.4 205.2L286.4 204.6L286.4 204.0L286.4 203.3L286.4 202.7L286.4 202.1L286.4 201.4L286.4 200.8L286.4 200.2L286.4 199.5L286.4 198.9L286.4 198.2L286.4 197.6L286.4 197.0L286.4 196.3L286.4 195.7L286.4 195.1L286.4 194.4L286.4 193.8L286.4 193.2L286.4 192.5L286.4 191.9L286.4 191.3L286.4 190.6L286.4 190.0L286.4 189.3L286.4 188.7L286.4 188.1L286.4 187.4L286.4 186.8L286.4 186.2L286.4 185.5L286.4 184.9L286.4 184.3L286.4 183.6L286.4 183.0L286.4 182.3L286.4 181.7L286.4 181.1L286.4 180.4L286.4 179.8L286.4 179.2L286.4 178.5L286.4 177.9L286.4 177.3L286.4 176.6L286.4 176.0L286.4 175.4L286.4 174.7L286.4 174.1L286.4 173.4L286.4 172.8L286.4 172.2L286.4 171.5L286.4 170.9L286.4 170.3L286.4 169.6L286.4 169.0L286.4 168.4L286.4 167.7L286.4 167.1L286.4 166.4L286.4 165.8L286.4 165.2L286.4 164.5L286.4 163.9L286.4 163.3L286.4 162.6L286.4 162.0L286.4 161.4L286.4 160.7L286.4 160.1L286.4 159.4Z" fill="#fcfbfc"/>
<path d="M287.1 159.4L287.7 159.4L288.4 159.4L289.0 159.4L289.7 159.4L290.4 159.4L291.0 159.4L291.7 159.4L292.4 159.4L293.0 159.4L293.7 159.4L294.3 159.4L295.0 159.4L295.7 159.4L296.3 159.4L297.0 159.4L297.6 159.4L298.3 159.4L299.0 159.4L299.6 159.4L300.3 159.4L301.0 159.4L301.6 159.4L302.3 159.4L302.9 159.4L303.6 159.4L304.3 159.4L304.9 159.4L305.6 159.4L306.2 159.4L306.9 159.4L307.6 159.4L308.2 159.4L308.9 159.4L309.5 159.4L310.2 159.4L310.9 159.4L311.5 159.4L312.2 159.4L312.9 159.4L313.5 159.4L314.2 159.4L314.8 159.4L315.5 159.4L316.2 159.4L316.8 159.4L317.5 159.4L318.1 159.4L318.8 159.4L319.5 159.4L320.1 159.4L320.8 159.4L321.5 159.4L322.1 159.4L322.8 159.4L323.4 159.4L324.1 159.4L324.8 159.4L325.4 159.4L326.1 159.4L326.7 159.4L327.4 159.4L328.1 159.4L328.7 159.4L329.4 159.4L330.1 159.4L330.7 159.4L331.4 159.4L332.0 159.4L332.7 159.4L333.4 159.4L334.0 159.4L334.7 159.4L335.3 159.4L336.0 159.4L336.7 159.4L337.3 159.4L338.0 159.4L338.6 159.4L339.3 159.4L340.0 159.4L340.6 159.4L341.3 159.4L342.0 159.4L342.6 159.4L343.3 159.4L343.9 159.4L344.6 159.4L345.3 159.4L345.9 159.4L346.6 159.4L347.2 159.4L347.9 159.4L348.6 159.4L349.2 159.4L349.9 159.4L350.6 159.4L351.2 159.4L351.9 159.4L352.5 159.4L353.2 159.4L353.9 159.4L354.5 159.4L355.2 159.4L355.8 159.4L356.5 159.4L357.2 159.4L357.8 159.4L358.5 159.4L359.2 159.4L359.8 159.4L360.5 159.4L361.1 159.4L361.8 159.4L362.5 159.4L363.1 159.4L363.8 159.4L364.4 159.4L365.1 159.4L365.8 159.4L366.4 159.4L367.1 159.4L367.8 159.4L368.4 159.4L369.1 159.4L369.7 159.4L370.4 159.4L371.1 159.4L371.7 159.4L372.4 159.4L373.0 159.4L373.7 159.4L374.4 159.4L375.0 159.4L375.7 159.4L376.3 159.4L377.0 159.4L377.7 159.4L378.3 159.4L379.0 159.4L379.7 159.4L380.3 159.4L381.0 159.4L381.6 159.4L382.3 159.4L383.0 159.4L383.6 159.4L384.3 159.4L384.9 159.4L385.6 159.4L386.3 159.4L386.9 159.4L387.6 159.4L388.3 159.4L388.9 159.4L389.6 159.4L390.2 159.4L390.9 159.4L391.6 159.4L392.2 159.4L392.9 159.4L393.5 159.4L394.2 159.4L394.9 159.4L395.5 159.4L396.2 159.4L396.9 159.4L397.5 159.4L398.2 159.4L398.8 159.4L399.5 159.4L400.2 159.4L400.8 159.4L401.5 159.4L402.1 159.4L402.8 159.4L403.5 159.4L404.1 159.4L404.8 159.4L405.5 159.4L406.1 159.4L406.8 159.4L407.4 159.4L408.1 159.4L408.8 159.4L409.4 159.4L410.1 159.4L410.7 159.4L411.4 159.4L412.1 159.4L412.7 159.4L413.4 159.4L414.0 159.4L414.7 159.4L415.4 159.4L416.0 159.4L416.7 159.4L417.4 159.4L418.0 159.4L418.7 159.4L419.3 159.4L420.0 159.4L420.7 159.4L421.3 159.4L422.0 159.4L422.6 159.4L423.3 159.4L424.0 159.4L424.6 159.4L425.3 159.4L426.0 159.4L426.6 159.4L427.3 159.4L427.9 159.4L428.6 159.4L429.2 159.4L429.2 160.1L429.2 160.7L429.1 161.4L429.1 162.0L429.1 162.6L429.1 163.3L429.1 163.9L429.1 164.5L429.1 165.2L429.0 165.8L429.0 166.4L429.0 167.1L429.0 167.7L429.0 168.4L429.0 169.0L428.9 169.6L428.9 170.3L428.9 170.9L428.9 171.5L428.9 172.2L428.8 172.8L428.8 173.4L428.8 174.1L428.8 174.7L428.7 175.4L428.7 176.0L428.7 176.6L428.7 177.3L428.6 177.9L428.6 178.5L428.6 178.7L428.6 179.2L428.5 179.8L428.5 180.4L428.5 181.1L428.4 181.7L428.4 182.3L428.4 183.0L428.3 183.6L428.3 184.3L428.2 184.9L428.2 185.5L428.1 186.2L428.1 186.8L428.0 187.4L427.9 188.1L427.9 188.1L427.9 188.7L427.8 189.3L427.7 190.0L427.7 190.6L427.6 191.3L427.5 191.9L427.4 192.5L427.3 193.2L427.3 193.4L427.2 193.8L427.1 194.4L427.0 195.1L426.9 195.7L426.8 196.3L426.6 197.0L426.6 197.0L426.5 197.6L426.3 198.2L426.2 198.9L426.0 199.5L426.0 199.8L425.9 200.2L425.7 200.8L425.5 201.4L425.3 202.0L425.3 202.1L425.1 202.7L424.8 203.3L424.6 203.9L424.6 204.0L424.3 204.6L424.1 205.2L424.0 205.5L423.8 205.9L423.5 206.5L423.3 206.9L423.2 207.2L422.9 207.8L422.6 208.2L422.5 208.4L422.2 209.1L422.0 209.4L421.8 209.7L421.4 210.3L421.3 210.4L421.0 211.0L420.7 211.4L420.5 211.6L420.1 212.2L420.0 212.3L419.6 212.9L419.3 213.2L419.1 213.5L418.7 214.0L418.5 214.1L418.0 214.8L418.0 214.8L417.4 215.4L417.4 215.5L416.8 216.1L416.7 216.2L416.2 216.7L416.0 216.8L415.5 217.3L415.4 217.5L414.8 218.0L414.7 218.1L414.1 218.6L414.0 218.7L413.4 219.2L413.4 219.2L412.7 219.8L412.6 219.9L412.1 220.3L411.8 220.5L411.4 220.8L411.0 221.1L410.7 221.3L410.1 221.8L410.1 221.8L409.4 222.3L409.2 222.4L408.8 222.7L408.3 223.1L408.1 223.2L407.4 223.6L407.3 223.7L406.8 224.0L406.3 224.3L406.1 224.4L405.5 224.8L405.3 225.0L404.8 225.2L404.2 225.6L404.1 225.6L403.5 226.0L403.1 226.2L402.8 226.4L402.1 226.7L401.9 226.9L401.5 227.1L400.8 227.4L400.7 227.5L400.2 227.8L399.5 228.1L399.5 228.1L398.8 228.5L398.2 228.8L398.2 228.8L397.5 229.1L396.9 229.4L396.9 229.4L396.2 229.7L395.5 230.0L395.5 230.0L394.9 230.3L394.2 230.6L394.1 230.7L393.5 230.9L392.9 231.2L392.6 231.3L392.2 231.5L391.6 231.8L391.1 232.0L390.9 232.0L390.2 232.3L389.6 232.5L389.5 232.6L388.9 232.8L388.3 233.1L387.8 233.2L387.6 233.3L386.9 233.6L386.3 233.8L386.1 233.9L385.6 234.0L384.9 234.3L384.3 234.5L384.3 234.5L383.6 234.7L383.0 235.0L382.4 235.1L382.3 235.2L381.6 235.4L381.0 235.6L380.4 235.8L380.3 235.8L379.7 236.0L379.0 236.2L378.4 236.4L378.3 236.4L377.7 236.6L377.0 236.8L376.3 237.0L376.2 237.0L375.7 237.2L375.0 237.4L374.4 237.6L373.9 237.7L373.7 237.7L373.0 237.9L372.4 238.1L371.7 238.2L371.4 238.3L371.1 238.4L370.4 238.6L369.7 238.7L369.1 238.9L368.8 239.0L368.4 239.0L367.8 239.2L367.1 239.3L366.4 239.5L365.9 239.6L365.8 239.6L365.1 239.8L364.4 239.9L363.8 240.0L363.1 240.2L362.8 240.2L362.5 240.3L361.8 240.4L361.1 240.5L360.5 240.7L359.8 240.8L359.3 240.9L359.2 240.9L358.5 241.0L357.8 241.1L357.2 241.2L356.5 241.3L355.8 241.4L355.2 241.5L355.2 241.5L354.5 241.6L353.9 241.7L353.2 241.8L352.5 241.9L351.9 241.9L351.2 242.0L350.6 242.1L350.2 242.1L349.9 242.2L349.2 242.2L348.6 242.3L347.9 242.4L347.2 242.4L346.6 242.5L345.9 242.6L345.3 242.6L344.6 242.7L343.9 242.7L343.3 242.8L343.3 242.8L342.6 242.8L342.0 242.9L341.3 242.9L340.6 242.9L340.0 243.0L339.3 243.0L338.6 243.0L338.0 243.1L337.3 243.1L336.7 243.1L336.0 243.1L335.3 243.2L334.7 243.2L334.0 243.2L333.4 243.2L332.7 243.2L332.0 243.2L331.4 243.2L330.7 243.2L330.1 243.2L329.4 243.2L328.7 243.2L328.1 243.2L327.4 243.2L326.7 243.2L326.1 243.2L325.4 243.2L324.8 243.1L324.1 243.1L323.4 243.1L322.8 243.1L322.1 243.0L321.5 243.0L320.8 243.0L320.1 242.9L319.5 242.9L318.8 242.9L318.1 242.8L317.5 242.8L317.3 242.8L316.8 242.7L316.2 242.7L315.5 242.6L314.8 242.6L314.2 242.5L313.5 242.5L312.9 242.4L312.2 242.4L311.5 242.3L310.9 242.2L310.2 242.2L309.8 242.1L309.5 242.1L308.9 242.0L308.2 242.0L307.6 241.9L306.9 241.8L306.2 241.7L305.6 241.7L304.9 241.6L304.3 241.5L304.2 241.5L303.6 241.4L302.9 241.3L302.3 241.3L301.6 241.2L301.0 241.1L300.3 241.0L299.6 240.9L299.4 240.9L299.0 240.8L298.3 240.7L297.6 240.6L297.0 240.5L296.3 240.4L295.7 240.3L295.2 240.2L295.0 240.2L294.3 240.1L293.7 240.0L293.0 239.9L292.4 239.8L291.7 239.7L291.3 239.6L291.0 239.5L290.4 239.4L289.7 239.3L289.0 239.2L288.4 239.1L287.7 239.0L287.7 239.0L287.1 238.8L286.4 238.7L286.4 238.3L286.4 237.7L286.4 237.0L286.4 236.4L286.4 235.8L286.4 235.1L286.4 234.5L286.4 233.9L286.4 233.2L286.4 232.6L286.4 232.0L286.4 231.3L286.4 230.7L286.4 230.0L286.4 229.4L286.4 228.8L286.4 228.1L286.4 227.5L286.4 226.9L286.4 226.2L286.4 225.6L286.4 225.0L286.4 224.3L286.4 223.7L286.4 223.1L286.4 222.4L286.4 221.8L286.4 221.1L286.4 220.5L286.4 219.9L286.4 219.2L286.4 218.6L286.4 218.0L286.4 217.3L286.4 216.7L286.4 216.1L286.4 215.4L286.4 214.8L286.4 214.1L286.4 213.5L286.4 212.9L286.4 212.2L286.4 211.6L286.4 211.0L286.4 210.3L286.4 209.7L286.4 209.1L286.4 208.4L286.4 207.8L286.4 207.2L286.4 206.5L286.4 205.9L286.4 205.2L286.4 204.6L286.4 204.0L286.4 203.3L286.4 202.7L286.4 202.1L286.4 201.4L286.4 200.8L286.4 200.2L286.4 199.5L286.4 198.9L286.4 198.2L286.4 197.6L286.4 197.0L286.4 196.3L286.4 195.7L286.4 195.1L286.4 194.4L286.4 193.8L286.4 193.2L286.4 192.5L286.4 191.9L286.4 191.3L286.4 190.6L286.4 190.0L286.4 189.3L286.4 188.7L286.4 188.1L286.4 187.4L286.4 186.8L286.4 186.2L286.4 185.5L286.4 184.9L286.4 184.3L286.4 183.6L286.4 183.0L286.4 182.3L286.4 181.7L286.4 181.1L286.4 180.4L286.4 179.8L286.4 179.2L286.4 178.5L286.4 177.9L286.4 177.3L286.4 176.6L286.4 176.0L286.4 175.4L286.4 174.7L286.4 174.1L286.4 173.4L286.4 172.8L286.4 172.2L286.4 171.5L286.4 170.9L286.4 170.3L286.4 169.6L286.4 169.0L286.4 168.4L286.4 167.7L286.4 167.1L286.4 166.4L286.4 165.8L286.4 165.2L286.4 164.5L286.4 163.9L286.4 163.3L286.4 162.6L286.4 162.0L286.4 161.4L286.4 160.7L286.4 160.1L286.4 159.4Z" fill="#efeff4"/>
<path d="M287.1 159.4L287.7 159.4L288.4 159.4L289.0 159.4L289.7 159.4L290.4 159.4L291.0 159.4L291.7 159.4L292.4 159.4L293.0 159.4L293.7 159.4L294.3 159.4L295.0 159.4L295.7 159.4L296.3 159.4L297.0 159.4L297.6 159.4L298.3 159.4L299.0 159.4L299.6 159.4L300.3 159.4L301.0 159.4L301.6 159.4L302.3 159.4L302.9 159.4L303.6 159.4L304.3 159.4L304.9 159.4L305.6 159.4L306.2 159.4L306.9 159.4L307.6 159.4L308.2 159.4L308.9 159.4L309.5 159.4L310.2 159.4L310.9 159.4L311.5 159.4L312.2 159.4L312.9 159.4L313.5 159.4L314.2 159.4L314.8 159.4L315.5 159.4L316.2 159.4L316.8 159.4L317.5 159.4L318.1 159.4L318.8 159.4L319.5 159.4L320.1 159.4L320.8 159.4L321.5 159.4L322.1 159.4L322.8 159.4L323.4 159.4L324.1 159.4L324.8 159.4L325.4 159.4L326.1 159.4L326.7 159.4L327.4 159.4L328.1 159.4L328.7 159.4L329.4 159.4L330.1 159.4L330.7 159.4L331.4 159.4L332.0 159.4L332.7 159.4L333.4 159.4L334.0 159.4L334.7 159.4L335.3 159.4L336.0 159.4L336.7 159.4L337.3 159.4L338.0 159.4L338.6 159.4L339.3 159.4L340.0 159.4L340.6 159.4L341.3 159.4L342.0 159.4L342.6 159.4L343.3 159.4L343.9 159.4L344.6 159.4L345.3 159.4L345.9 159.4L346.6 159.4L347.2 159.4L347.9 159.4L348.6 159.4L349.2 159.4L349.9 159.4L350.6 159.4L351.2 159.4L351.9 159.4L352.5 159.4L353.2 159.4L353.9 159.4L354.5 159.4L355.2 159.4L355.8 159.4L356.5 159.4L357.2 159.4L357.8 159.4L358.5 159.4L359.2 159.4L359.8 159.4L360.5 159.4L361.1 159.4L361.8 159.4L362.5 159.4L363.1 159.4L363.8 159.4L364.4 159.4L365.1 159.4L365.8 159.4L366.4 159.4L367.1 159.4L367.8 159.4L368.4 159.4L369.1 159.4L369.7 159.4L370.4 159.4L371.1 159.4L371.7 159.4L372.4 159.4L373.0 159.4L373.7 159.4L374.4 159.4L375.0 159.4L375.7 159.4L376.3 159.4L377.0 159.4L377.7 159.4L378.3 159.4L379.0 159.4L379.7 159.4L380.3 159.4L381.0 159.4L381.6 159.4L382.3 159.4L383.0 159.4L383.6 159.4L384.3 159.4L384.9 159.4L385.6 159.4L386.3 159.4L386.9 159.4L387.6 159.4L388.3 159.4L388.9 159.4L389.6 159.4L390.2 159.4L390.9 159.4L391.6 159.4L392.2 159.4L392.9 159.4L393.5 159.4L394.2 159.4L394.9 159.4L395.5 159.4L396.2 159.4L396.9 159.4L397.5 159.4L398.2 159.4L398.8 159.4L399.5 159.4L400.2 159.4L400.8 159.4L401.5 159.4L402.1 159.4L402.8 159.4L403.5 159.4L404.1 159.4L404.8 159.4L405.5 159.4L406.1 159.4L406.8 159.4L407.4 159.4L408.1 159.4L408.8 159.4L409.4 159.4L410.1 159.4L410.7 159.4L411.4 159.4L412.1 159.4L412.7 159.4L413.4 159.4L414.0 159.4L414.7 159.4L415.4 159.4L416.0 159.4L416.7 159.4L417.4 159.4L418.0 159.4L418.4 159.4L418.4 160.1L418.4 160.7L418.4 161.4L418.4 162.0L418.3 162.6L418.3 163.3L418.3 163.9L418.3 164.5L418.3 165.2L418.3 165.8L418.2 166.4L418.2 167.1L418.2 167.7L418.2 168.4L418.2 169.0L418.1 169.6L418.1 170.3L418.1 170.9L418.1 171.5L418.0 172.2L418.0 172.7L418.0 172.8L418.0 173.4L418.0 174.1L417.9 174.7L417.9 175.4L417.9 176.0L417.8 176.6L417.8 177.3L417.8 177.9L417.7 178.5L417.7 179.2L417.7 179.8L417.6 180.4L417.6 181.1L417.6 181.7L417.5 182.3L417.5 183.0L417.4 183.6L417.4 184.3L417.4 184.5L417.3 184.9L417.3 185.5L417.2 186.2L417.1 186.8L417.1 187.4L417.0 188.1L417.0 188.7L416.9 189.3L416.8 190.0L416.7 190.6L416.7 190.8L416.6 191.3L416.5 191.9L416.5 192.5L416.4 193.2L416.2 193.8L416.1 194.4L416.0 195.0L416.0 195.1L415.9 195.7L415.8 196.3L415.6 197.0L415.5 197.6L415.4 198.1L415.3 198.2L415.2 198.9L415.0 199.5L414.8 200.2L414.7 200.5L414.6 200.8L414.4 201.4L414.2 202.1L414.0 202.5L414.0 202.7L413.8 203.3L413.5 204.0L413.4 204.2L413.2 204.6L413.0 205.2L412.7 205.8L412.7 205.9L412.4 206.5L412.1 207.1L412.0 207.2L411.7 207.8L411.4 208.3L411.3 208.4L410.9 209.1L410.7 209.4L410.5 209.7L410.1 210.3L410.1 210.4L409.7 211.0L409.4 211.3L409.2 211.6L408.8 212.2L408.7 212.2L408.2 212.9L408.1 213.0L407.7 213.5L407.4 213.8L407.1 214.1L406.8 214.5L406.5 214.8L406.1 215.2L405.9 215.4L405.5 215.9L405.3 216.1L404.8 216.5L404.6 216.7L404.1 217.1L403.9 217.3L403.5 217.7L403.1 218.0L402.8 218.2L402.4 218.6L402.1 218.8L401.6 219.2L401.5 219.3L400.8 219.8L400.7 219.9L400.2 220.3L399.8 220.5L399.5 220.7L398.9 221.1L398.8 221.2L398.2 221.6L398.0 221.8L397.5 222.1L397.0 222.4L396.9 222.5L396.2 222.9L395.9 223.1L395.5 223.3L394.9 223.7L394.8 223.7L394.2 224.0L393.7 224.3L393.5 224.4L392.9 224.8L392.5 225.0L392.2 225.1L391.6 225.5L391.3 225.6L390.9 225.8L390.2 226.1L390.0 226.2L389.6 226.4L388.9 226.8L388.7 226.9L388.3 227.1L387.6 227.4L387.3 227.5L386.9 227.7L386.3 228.0L385.8 228.1L385.6 228.2L384.9 228.5L384.3 228.8L384.3 228.8L383.6 229.1L383.0 229.3L382.7 229.4L382.3 229.6L381.6 229.8L381.0 230.0L381.0 230.1L380.3 230.3L379.7 230.6L379.3 230.7L379.0 230.8L378.3 231.0L377.7 231.2L377.4 231.3L377.0 231.5L376.3 231.7L375.7 231.9L375.5 232.0L375.0 232.1L374.4 232.3L373.7 232.5L373.4 232.6L373.0 232.7L372.4 232.9L371.7 233.1L371.2 233.2L371.1 233.3L370.4 233.4L369.7 233.6L369.1 233.8L368.8 233.9L368.4 234.0L367.8 234.1L367.1 234.3L366.4 234.5L366.2 234.5L365.8 234.6L365.1 234.8L364.4 234.9L363.8 235.1L363.4 235.1L363.1 235.2L362.5 235.3L361.8 235.5L361.1 235.6L360.5 235.7L360.3 235.8L359.8 235.9L359.2 236.0L358.5 236.1L357.8 236.2L357.2 236.3L356.8 236.4L356.5 236.5L355.8 236.6L355.2 236.7L354.5 236.8L353.9 236.9L353.2 237.0L352.6 237.0L352.5 237.1L351.9 237.1L351.2 237.2L350.6 237.3L349.9 237.4L349.2 237.5L348.6 237.6L347.9 237.6L347.4 237.7L347.2 237.7L346.6 237.8L345.9 237.8L345.3 237.9L344.6 238.0L343.9 238.0L343.3 238.1L342.6 238.1L342.0 238.2L341.3 238.2L340.6 238.2L340.0 238.3L339.3 238.3L339.3 238.3L338.6 238.4L338.0 238.4L337.3 238.4L336.7 238.4L336.0 238.5L335.3 238.5L334.7 238.5L334.0 238.5L333.4 238.5L332.7 238.5L332.0 238.5L331.4 238.6L330.7 238.6L330.1 238.6L329.4 238.6L328.7 238.5L328.1 238.5L327.4 238.5L326.7 238.5L326.1 238.5L325.4 238.5L324.8 238.5L324.1 238.4L323.4 238.4L322.8 238.4L322.1 238.4L321.5 238.3L321.3 238.3L320.8 238.3L320.1 238.3L319.5 238.2L318.8 238.2L318.1 238.1L317.5 238.1L316.8 238.0L316.2 238.0L315.5 237.9L314.8 237.9L314.2 237.8L313.5 237.8L312.9 237.7L312.6 237.7L312.2 237.6L311.5 237.6L310.9 237.5L310.2 237.4L309.5 237.4L308.9 237.3L308.2 237.2L307.6 237.1L306.9 237.1L306.8 237.0L306.2 237.0L305.6 236.9L304.9 236.8L304.3 236.7L303.6 236.6L302.9 236.5L302.3 236.4L302.0 236.4L301.6 236.3L301.0 236.3L300.3 236.2L299.6 236.1L299.0 235.9L298.3 235.8L297.9 235.8L297.6 235.7L297.0 235.6L296.3 235.5L295.7 235.4L295.0 235.3L294.3 235.2L294.1 235.1L293.7 235.1L293.0 234.9L292.4 234.8L291.7 234.7L291.0 234.6L290.6 234.5L290.4 234.5L289.7 234.3L289.0 234.2L288.4 234.1L287.7 233.9L287.3 233.9L287.1 233.8L286.4 233.7L286.4 233.2L286.4 232.6L286.4 232.0L286.4 231.3L286.4 230.7L286.4 230.0L286.4 229.4L286.4 228.8L286.4 228.1L286.4 227.5L286.4 226.9L286.4 226.2L286.4 225.6L286.4 225.0L286.4 224.3L286.4 223.7L286.4 223.1L286.4 222.4L286.4 221.8L286.4 221.1L286.4 220.5L286.4 219.9L286.4 219.2L286.4 218.6L286.4 218.0L286.4 217.3L286.4 216.7L286.4 216.1L286.4 215.4L286.4 214.8L286.4 214.1L286.4 213.5L286.4 212.9L286.4 212.2L286.4 211.6L286.4 211.0L286.4 210.3L286.4 209.7L286.4 209.1L286.4 208.4L286.4 207.8L286.4 207.2L286.4 206.5L286.4 205.9L286.4 205.2L286.4 204.6L286.4 204.0L286.4 203.3L286.4 202.7L286.4 202.1L286.4 201.4L286.4 200.8L286.4 200.2L286.4 199.5L286.4 198.9L286.4 198.2L286.4 197.6L286.4 197.0L286.4 196.3L286.4 195.7L286.4 195.1L286.4 194.4L286.4 193.8L286.4 193.2L286.4 192.5L286.4 191.9L286.4 191.3L286.4 190.6L286.4 190.0L286.4 189.3L286.4 188.7L286.4 188.1L286.4 187.4L286.4 186.8L286.4 186.2L286.4 185.5L286.4 184.9L286.4 184.3L286.4 183.6L286.4 183.0L286.4 182.3L286.4 181.7L286.4 181.1L286.4 180.4L286.4 179.8L286.4 179.2L286.4 178.5L286.4 177.9L286.4 177.3L286.4 176.6L286.4 176.0L286.4 175.4L286.4 174.7L286.4 174.1L286.4 173.4L286.4 172.8L286.4 172.2L286.4 171.5L286.4 170.9L286.4 170.3L286.4 169.6L286.4 169.0L286.4 168.4L286.4 167.7L286.4 167.1L286.4 166.4L286.4 165.8L286.4 165.2L286.4 164.5L286.4 163.9L286.4 163.3L286.4 162.6L286.4 162.0L286.4 161.4L286.4 160.7L286.4 160.1L286.4 159.4Z" fill="#dbe3ef"/>
<path d="M287.1 159.4L287.7 159.4L288.4 159.4L289.0 159.4L289.7 159.4L290.4 159.4L291.0 159.4L291.7 159.4L292.4 159.4L293.0 159.4L293.7 159.4L294.3 159.4L295.0 159.4L295.7 159.4L296.3 159.4L297.0 159.4L297.6 159.4L298.3 159.4L299.0 159.4L299.6 159.4L300.3 159.4L301.0 159.4L301.6 159.4L302.3 159.4L302.9 159.4L303.6 159.4L304.3 159.4L304.9 159.4L305.6 159.4L306.2 159.4L306.9 159.4L307.6 159.4L308.2 159.4L308.9 159.4L309.5 159.4L310.2 159.4L310.9 159.4L311.5 159.4L312.2 159.4L312.9 159.4L313.5 159.4L314.2 159.4L314.8 159.4L315.5 159.4L316.2 159.4L316.8 159.4L317.5 159.4L318.1 159.4L318.8 159.4L319.5 159.4L320.1 159.4L320.8 159.4L321.5 159.4L322.1 159.4L322.8 159.4L323.4 159.4L324.1 159.4L324.8 159.4L325.4 159.4L326.1 159.4L326.7 159.4L327.4 159.4L328.1 159.4L328.7 159.4L329.4 159.4L330.1 159.4L330.7 159.4L331.4 159.4L332.0 159.4L332.7 159.4L333.4 159.4L334.0 159.4L334.7 159.4L335.3 159.4L336.0 159.4L336.7 159.4L337.3 159.4L338.0 159.4L338.6 159.4L339.3 159.4L340.0 159.4L340.6 159.4L341.3 159.4L342.0 159.4L342.6 159.4L343.3 159.4L343.9 159.4L344.6 159.4L345.3 159.4L345.9 159.4L346.6 159.4L347.2 159.4L347.9 159.4L348.6 159.4L349.2 159.4L349.9 159.4L350.6 159.4L351.2 159.4L351.9 159.4L352.5 159.4L353.2 159.4L353.9 159.4L354.5 159.4L355.2 159.4L355.8 159.4L356.5 159.4L357.2 159.4L357.8 159.4L358.5 159.4L359.2 159.4L359.8 159.4L360.5 159.4L361.1 159.4L361.8 159.4L362.5 159.4L363.1 159.4L363.8 159.4L364.4 159.4L365.1 159.4L365.8 159.4L366.4 159.4L367.1 159.4L367.8 159.4L368.4 159.4L369.1 159.4L369.7 159.4L370.4 159.4L371.1 159.4L371.7 159.4L372.4 159.4L373.0 159.4L373.7 159.4L374.4 159.4L375.0 159.4L375.7 159.4L376.3 159.4L377.0 159.4L377.7 159.4L378.3 159.4L379.0 159.4L379.7 159.4L380.3 159.4L381.0 159.4L381.6 159.4L382.3 159.4L383.0 159.4L383.6 159.4L384.3 159.4L384.9 159.4L385.6 159.4L386.3 159.4L386.9 159.4L387.6 159.4L388.3 159.4L388.9 159.4L389.6 159.4L390.2 159.4L390.9 159.4L391.6 159.4L392.2 159.4L392.9 159.4L393.5 159.4L394.2 159.4L394.9 159.4L395.5 159.4L396.2 159.4L396.9 159.4L397.5 159.4L398.2 159.4L398.8 159.4L399.5 159.4L400.2 159.4L400.8 159.4L401.5 159.4L402.1 159.4L402.8 159.4L403.5 159.4L404.1 159.4L404.8 159.4L405.5 159.4L406.1 159.4L406.8 159.4L407.4 159.4L408.1 159.4L408.8 159.4L409.0 159.4L408.9 160.1L408.9 160.7L408.9 161.4L408.9 162.0L408.9 162.6L408.8 163.3L408.8 163.9L408.8 164.5L408.8 165.2L408.8 165.6L408.8 165.8L408.7 166.4L408.7 167.1L408.7 167.7L408.7 168.4L408.6 169.0L408.6 169.6L408.6 170.3L408.6 170.9L408.5 171.5L408.5 172.2L408.5 172.8L408.4 173.4L408.4 174.1L408.4 174.7L408.3 175.4L408.3 176.0L408.3 176.6L408.2 177.3L408.2 177.9L408.2 178.5L408.1 179.2L408.1 179.7L408.1 179.8L408.0 180.4L408.0 181.1L408.0 181.7L407.9 182.3L407.9 183.0L407.8 183.6L407.8 184.3L407.7 184.9L407.6 185.5L407.6 186.2L407.5 186.8L407.4 187.4L407.4 187.5L407.4 188.1L407.3 188.7L407.2 189.3L407.1 190.0L407.0 190.6L407.0 191.3L406.9 191.9L406.8 192.4L406.8 192.5L406.6 193.2L406.5 193.8L406.4 194.4L406.3 195.1L406.2 195.7L406.1 195.9L406.0 196.3L405.9 197.0L405.7 197.6L405.5 198.2L405.5 198.6L405.4 198.9L405.2 199.5L405.0 200.2L404.8 200.8L404.8 200.8L404.6 201.4L404.3 202.1L404.1 202.6L404.1 202.7L403.9 203.3L403.6 204.0L403.5 204.2L403.3 204.6L403.0 205.2L402.8 205.6L402.7 205.9L402.4 206.5L402.1 206.9L402.0 207.2L401.6 207.8L401.5 208.0L401.2 208.4L400.8 209.1L400.8 209.1L400.4 209.7L400.2 210.0L399.9 210.3L399.5 210.9L399.5 211.0L399.0 211.6L398.8 211.7L398.4 212.2L398.2 212.5L397.9 212.9L397.5 213.3L397.3 213.5L396.9 213.9L396.7 214.1L396.2 214.6L396.0 214.8L395.5 215.2L395.3 215.4L394.9 215.8L394.6 216.1L394.2 216.4L393.9 216.7L393.5 216.9L393.1 217.3L392.9 217.5L392.2 218.0L392.2 218.0L391.6 218.5L391.4 218.6L390.9 218.9L390.5 219.2L390.2 219.4L389.6 219.8L389.5 219.9L388.9 220.2L388.5 220.5L388.3 220.7L387.6 221.1L387.4 221.1L386.9 221.4L386.3 221.8L386.3 221.8L385.6 222.2L385.2 222.4L384.9 222.5L384.3 222.9L384.0 223.1L383.6 223.2L383.0 223.6L382.7 223.7L382.3 223.9L381.6 224.2L381.3 224.3L381.0 224.5L380.3 224.8L379.9 225.0L379.7 225.1L379.0 225.4L378.4 225.6L378.3 225.6L377.7 225.9L377.0 226.2L376.9 226.2L376.3 226.4L375.7 226.7L375.2 226.9L375.0 226.9L374.4 227.2L373.7 227.4L373.4 227.5L373.0 227.6L372.4 227.9L371.7 228.1L371.5 228.1L371.1 228.3L370.4 228.5L369.7 228.7L369.5 228.8L369.1 228.9L368.4 229.1L367.8 229.3L367.3 229.4L367.1 229.5L366.4 229.7L365.8 229.8L365.1 230.0L365.0 230.0L364.4 230.2L363.8 230.4L363.1 230.5L362.5 230.7L362.4 230.7L361.8 230.8L361.1 231.0L360.5 231.1L359.8 231.3L359.6 231.3L359.2 231.4L358.5 231.5L357.8 231.7L357.2 231.8L356.5 231.9L356.3 232.0L355.8 232.0L355.2 232.2L354.5 232.3L353.9 232.4L353.2 232.5L352.6 232.6L352.5 232.6L351.9 232.7L351.2 232.8L350.6 232.9L349.9 233.0L349.2 233.1L348.6 233.1L347.9 233.2L347.9 233.2L347.2 233.3L346.6 233.4L345.9 233.5L345.3 233.5L344.6 233.6L343.9 233.6L343.3 233.7L342.6 233.8L342.0 233.8L341.3 233.9L341.2 233.9L340.6 233.9L340.0 234.0L339.3 234.0L338.6 234.0L338.0 234.1L337.3 234.1L336.7 234.1L336.0 234.1L335.3 234.2L334.7 234.2L334.0 234.2L333.4 234.2L332.7 234.2L332.0 234.2L331.4 234.2L330.7 234.3L330.1 234.3L329.4 234.3L328.7 234.2L328.1 234.2L327.4 234.2L326.7 234.2L326.1 234.2L325.4 234.2L324.8 234.2L324.1 234.1L323.4 234.1L322.8 234.1L322.1 234.0L321.5 234.0L320.8 234.0L320.1 233.9L319.5 233.9L319.1 233.9L318.8 233.8L318.1 233.8L317.5 233.8L316.8 233.7L316.2 233.6L315.5 233.6L314.8 233.5L314.2 233.5L313.5 233.4L312.9 233.3L312.2 233.3L311.9 233.2L311.5 233.2L310.9 233.1L310.2 233.0L309.5 233.0L308.9 232.9L308.2 232.8L307.6 232.7L306.9 232.6L306.7 232.6L306.2 232.5L305.6 232.4L304.9 232.3L304.3 232.3L303.6 232.2L302.9 232.1L302.3 232.0L302.3 231.9L301.6 231.8L301.0 231.7L300.3 231.6L299.6 231.5L299.0 231.4L298.6 231.3L298.3 231.3L297.6 231.2L297.0 231.0L296.3 230.9L295.7 230.8L295.1 230.7L295.0 230.7L294.3 230.5L293.7 230.4L293.0 230.3L292.4 230.1L291.9 230.0L291.7 230.0L291.0 229.9L290.4 229.7L289.7 229.6L289.0 229.4L289.0 229.4L288.4 229.3L287.7 229.1L287.1 229.0L286.4 228.8L286.4 228.8L286.4 228.1L286.4 227.5L286.4 226.9L286.4 226.2L286.4 225.6L286.4 225.0L286.4 224.3L286.4 223.7L286.4 223.1L286.4 222.4L286.4 221.8L286.4 221.1L286.4 220.5L286.4 219.9L286.4 219.2L286.4 218.6L286.4 218.0L286.4 217.3L286.4 216.7L286.4 216.1L286.4 215.4L286.4 214.8L286.4 214.1L286.4 213.5L286.4 212.9L286.4 212.2L286.4 211.6L286.4 211.0L286.4 210.3L286.4 209.7L286.4 209.1L286.4 208.4L286.4 207.8L286.4 207.2L286.4 206.5L286.4 205.9L286.4 205.2L286.4 204.6L286.4 204.0L286.4 203.3L286.4 202.7L286.4 202.1L286.4 201.4L286.4 200.8L286.4 200.2L286.4 199.5L286.4 198.9L286.4 198.2L286.4 197.6L286.4 197.0L286.4 196.3L286.4 195.7L286.4 195.1L286.4 194.4L286.4 193.8L286.4 193.2L286.4 192.5L286.4 191.9L286.4 191.3L286.4 190.6L286.4 190.0L286.4 189.3L286.4 188.7L286.4 188.1L286.4 187.4L286.4 186.8L286.4 186.2L286.4 185.5L286.4 184.9L286.4 184.3L286.4 183.6L286.4 183.0L286.4 182.3L286.4 181.7L286.4 181.1L286.4 180.4L286.4 179.8L286.4 179.2L286.4 178.5L286.4 177.9L286.4 177.3L286.4 176.6L286.4 176.0L286.4 175.4L286.4 174.7L286.4 174.1L286.4 173.4L286.4 172.8L286.4 172.2L286.4 171.5L286.4 170.9L286.4 170.3L286.4 169.6L286.4 169.0L286.4 168.4L286.4 167.7L286.4 167.1L286.4 166.4L286.4 165.8L286.4 165.2L286.4 164.5L286.4 163.9L286.4 163.3L286.4 162.6L286.4 162.0L286.4 161.4L286.4 160.7L286.4 160.1L286.4 159.4Z" fill="#c4d4ea"/>
<path d="M287.1 159.4L287.7 159.4L288.4 159.4L289.0 159.4L289.7 159.4L290.4 159.4L291.0 159.4L291.7 159.4L292.4 159.4L293.0 159.4L293.7 159.4L294.3 159.4L295.0 159.4L295.7 159.4L296.3 159.4L297.0 159.4L297.6 159.4L298.3 159.4L299.0 159.4L299.6 159.4L300.3 159.4L301.0 159.4L301.6 159.4L302.3 159.4L302.9 159.4L303.6 159.4L304.3 159.4L304.9 159.4L305.6 159.4L306.2 159.4L306.9 159.4L307.6 159.4L308.2 159.4L308.9 159.4L309.5 159.4L310.2 159.4L310.9 159.4L311.5 159.4L312.2 159.4L312.9 159.4L313.5 159.4L314.2 159.4L314.8 159.4L315.5 159.4L316.2 159.4L316.8 159.4L317.5 159.4L318.1 159.4L318.8 159.4L319.5 159.4L320.1 159.4L320.8 159.4L321.5 159.4L322.1 159.4L322.8 159.4L323.4 159.4L324.1 159.4L324.8 159.4L325.4 159.4L326.1 159.4L326.7 159.4L327.4 159.4L328.1 159.4L328.7 159.4L329.4 159.4L330.1 159.4L330.7 159.4L331.4 159.4L332.0 159.4L332.7 159.4L333.4 159.4L334.0 159.4L334.7 159.4L335.3 159.4L336.0 159.4L336.7 159.4L337.3 159.4L338.0 159.4L338.6 159.4L339.3 159.4L340.0 159.4L340.6 159.4L341.3 159.4L342.0 159.4L342.6 159.4L343.3 159.4L343.9 159.4L344.6 159.4L345.3 159.4L345.9 159.4L346.6 159.4L347.2 159.4L347.9 159.4L348.6 159.4L349.2 159.4L349.9 159.4L350.6 159.4L351.2 159.4L351.9 159.4L352.5 159.4L353.2 159.4L353.9 159.4L354.5 159.4L355.2 159.4L355.8 159.4L356.5 159.4L357.2 159.4L357.8 159.4L358.5 159.4L359.2 159.4L359.8 159.4L360.5 159.4L361.1 159.4L361.8 159.4L362.5 159.4L363.1 159.4L363.8 159.4L364.4 159.4L365.1 159.4L365.8 159.4L366.4 159.4L367.1 159.4L367.8 159.4L368.4 159.4L369.1 159.4L369.7 159.4L370.4 159.4L371.1 159.4L371.7 159.4L372.4 159.4L373.0 159.4L373.7 159.4L374.4 159.4L375.0 159.4L375.7 159.4L376.3 159.4L377.0 159.4L377.7 159.4L378.3 159.4L379.0 159.4L379.7 159.4L380.3 159.4L381.0 159.4L381.6 159.4L382.3 159.4L383.0 159.4L383.6 159.4L384.3 159.4L384.9 159.4L385.6 159.4L386.3 159.4L386.9 159.4L387.6 159.4L388.3 159.4L388.9 159.4L389.6 159.4L390.2 159.4L390.9 159.4L391.6 159.4L392.2 159.4L392.9 159.4L393.5 159.4L394.2 159.4L394.9 159.4L395.5 159.4L396.2 159.4L396.9 159.4L397.5 159.4L398.2 159.4L398.8 159.4L399.5 159.4L400.2 159.4L400.2 159.4L400.2 160.1L400.2 160.7L400.2 160.9L400.1 161.4L400.1 162.0L400.1 162.6L400.1 163.3L400.0 163.9L400.0 164.5L400.0 165.2L400.0 165.8L399.9 166.4L399.9 167.1L399.9 167.7L399.9 168.4L399.8 169.0L399.8 169.6L399.8 170.3L399.7 170.9L399.7 171.5L399.7 172.2L399.6 172.8L399.6 173.4L399.6 174.1L399.5 174.7L399.5 175.4L399.5 175.5L399.5 176.0L399.4 176.6L399.4 177.3L399.4 177.9L399.3 178.5L399.3 179.2L399.2 179.8L399.2 180.4L399.1 181.1L399.1 181.7L399.0 182.3L399.0 183.0L398.9 183.6L398.8 184.3L398.8 184.3L398.8 184.9L398.7 185.5L398.6 186.2L398.6 186.8L398.5 187.4L398.4 188.1L398.3 188.7L398.2 189.3L398.2 189.8L398.2 190.0L398.1 190.6L398.0 191.3L397.9 191.9L397.7 192.5L397.6 193.2L397.5 193.7L397.5 193.8L397.4 194.4L397.2 195.1L397.1 195.7L396.9 196.3L396.9 196.6L396.8 197.0L396.6 197.6L396.4 198.2L396.2 198.9L396.2 199.0L396.0 199.5L395.8 200.2L395.6 200.8L395.5 200.9L395.3 201.4L395.1 202.1L394.9 202.6L394.8 202.7L394.5 203.3L394.3 204.0L394.2 204.1L393.9 204.6L393.6 205.2L393.5 205.4L393.3 205.9L392.9 206.5L392.9 206.5L392.5 207.2L392.2 207.6L392.1 207.8L391.7 208.4L391.6 208.6L391.2 209.1L390.9 209.5L390.7 209.7L390.2 210.3L390.2 210.3L389.7 211.0L389.6 211.1L389.1 211.6L388.9 211.8L388.5 212.2L388.3 212.5L387.9 212.9L387.6 213.1L387.2 213.5L386.9 213.8L386.5 214.1L386.3 214.3L385.8 214.8L385.6 214.9L385.0 215.4L384.9 215.4L384.3 216.0L384.1 216.1L383.6 216.4L383.3 216.7L383.0 216.9L382.4 217.3L382.3 217.4L381.6 217.8L381.4 218.0L381.0 218.2L380.4 218.6L380.3 218.6L379.7 219.0L379.3 219.2L379.0 219.4L378.3 219.8L378.1 219.9L377.7 220.1L377.0 220.5L376.9 220.5L376.3 220.8L375.7 221.1L375.6 221.1L375.0 221.4L374.4 221.7L374.3 221.8L373.7 222.0L373.0 222.3L372.8 222.4L372.4 222.6L371.7 222.9L371.3 223.1L371.1 223.1L370.4 223.4L369.7 223.7L369.7 223.7L369.1 223.9L368.4 224.1L367.9 224.3L367.8 224.4L367.1 224.6L366.4 224.8L366.0 225.0L365.8 225.0L365.1 225.2L364.4 225.4L363.9 225.6L363.8 225.6L363.1 225.8L362.5 226.0L361.8 226.2L361.6 226.2L361.1 226.4L360.5 226.5L359.8 226.7L359.2 226.9L359.1 226.9L358.5 227.0L357.8 227.2L357.2 227.3L356.5 227.5L356.3 227.5L355.8 227.6L355.2 227.7L354.5 227.9L353.9 228.0L353.2 228.1L353.1 228.1L352.5 228.2L351.9 228.4L351.2 228.5L350.6 228.6L349.9 228.7L349.2 228.8L349.2 228.8L348.6 228.9L347.9 229.0L347.2 229.0L346.6 229.1L345.9 229.2L345.3 229.3L344.6 229.4L344.1 229.4L343.9 229.4L343.3 229.5L342.6 229.6L342.0 229.6L341.3 229.7L340.6 229.7L340.0 229.8L339.3 229.8L338.6 229.9L338.0 229.9L337.3 229.9L336.7 230.0L336.0 230.0L335.3 230.0L334.7 230.0L334.7 230.1L334.0 230.1L333.4 230.1L332.7 230.1L332.0 230.1L331.4 230.1L330.7 230.1L330.1 230.1L329.4 230.1L328.7 230.1L328.1 230.1L327.4 230.1L326.7 230.1L326.1 230.1L325.7 230.0L325.4 230.0L324.8 230.0L324.1 230.0L323.4 230.0L322.8 229.9L322.1 229.9L321.5 229.9L320.8 229.8L320.1 229.8L319.5 229.7L318.8 229.7L318.1 229.6L317.5 229.6L316.8 229.5L316.2 229.4L315.8 229.4L315.5 229.4L314.8 229.3L314.2 229.2L313.5 229.2L312.9 229.1L312.2 229.0L311.5 228.9L310.9 228.9L310.3 228.8L310.2 228.8L309.5 228.7L308.9 228.6L308.2 228.5L307.6 228.4L306.9 228.3L306.2 228.2L305.9 228.1L305.6 228.1L304.9 228.0L304.3 227.9L303.6 227.8L302.9 227.6L302.3 227.5L302.2 227.5L301.6 227.4L301.0 227.3L300.3 227.1L299.6 227.0L299.0 226.9L298.9 226.9L298.3 226.8L297.6 226.6L297.0 226.5L296.3 226.3L295.9 226.2L295.7 226.2L295.0 226.0L294.3 225.9L293.7 225.7L293.1 225.6L293.0 225.6L292.4 225.4L291.7 225.3L291.0 225.1L290.5 225.0L290.4 224.9L289.7 224.8L289.0 224.6L288.4 224.4L288.1 224.3L287.7 224.2L287.1 224.0L286.4 223.9L286.4 223.7L286.4 223.1L286.4 222.4L286.4 221.8L286.4 221.1L286.4 220.5L286.4 219.9L286.4 219.2L286.4 218.6L286.4 218.0L286.4 217.3L286.4 216.7L286.4 216.1L286.4 215.4L286.4 214.8L286.4 214.1L286.4 213.5L286.4 212.9L286.4 212.2L286.4 211.6L286.4 211.0L286.4 210.3L286.4 209.7L286.4 209.1L286.4 208.4L286.4 207.8L286.4 207.2L286.4 206.5L286.4 205.9L286.4 205.2L286.4 204.6L286.4 204.0L286.4 203.3L286.4 202.7L286.4 202.1L286.4 201.4L286.4 200.8L286.4 200.2L286.4 199.5L286.4 198.9L286.4 198.2L286.4 197.6L286.4 197.0L286.4 196.3L286.4 195.7L286.4 195.1L286.4 194.4L286.4 193.8L286.4 193.2L286.4 192.5L286.4 191.9L286.4 191.3L286.4 190.6L286.4 190.0L286.4 189.3L286.4 188.7L286.4 188.1L286.4 187.4L286.4 186.8L286.4 186.2L286.4 185.5L286.4 184.9L286.4 184.3L286.4 183.6L286.4 183.0L286.4 182.3L286.4 181.7L286.4 181.1L286.4 180.4L286.4 179.8L286.4 179.2L286.4 178.5L286.4 177.9L286.4 177.3L286.4 176.6L286.4 176.0L286.4 175.4L286.4 174.7L286.4 174.1L286.4 173.4L286.4 172.8L286.4 172.2L286.4 171.5L286.4 170.9L286.4 170.3L286.4 169.6L286.4 169.0L286.4 168.4L286.4 167.7L286.4 167.1L286.4 166.4L286.4 165.8L286.4 165.2L286.4 164.5L286.4 163.9L286.4 163.3L286.4 162.6L286.4 162.0L286.4 161.4L286.4 160.7L286.4 160.1L286.4 159.4Z" fill="#b1c9e4"/>
<path d="M287.1 159.4L287.7 159.4L288.4 159.4L289.0 159.4L289.7 159.4L290.4 159.4L291.0 159.4L291.7 159.4L292.4 159.4L293.0 159.4L293.7 159.4L294.3 159.4L295.0 159.4L295.7 159.4L296.3 159.4L297.0 159.4L297.6 159.4L298.3 159.4L299.0 159.4L299.6 159.4L300.3 159.4L301.0 159.4L301.6 159.4L302.3 159.4L302.9 159.4L303.6 159.4L304.3 159.4L304.9 159.4L305.6 159.4L306.2 159.4L306.9 159.4L307.6 159.4L308.2 159.4L308.9 159.4L309.5 159.4L310.2 159.4L310.9 159.4L311.5 159.4L312.2 159.4L312.9 159.4L313.5 159.4L314.2 159.4L314.8 159.4L315.5 159.4L316.2 159.4L316.8 159.4L317.5 159.4L318.1 159.4L318.8 159.4L319.5 159.4L320.1 159.4L320.8 159.4L321.5 159.4L322.1 159.4L322.8 159.4L323.4 159.4L324.1 159.4L324.8 159.4L325.4 159.4L326.1 159.4L326.7 159.4L327.4 159.4L328.1 159.4L328.7 159.4L329.4 159.4L330.1 159.4L330.7 159.4L331.4 159.4L332.0 159.4L332.7 159.4L333.4 159.4L334.0 159.4L334.7 159.4L335.3 159.4L336.0 159.4L336.7 159.4L337.3 159.4L338.0 159.4L338.6 159.4L339.3 159.4L340.0 159.4L340.6 159.4L341.3 159.4L342.0 159.4L342.6 159.4L343.3 159.4L343.9 159.4L344.6 159.4L345.3 159.4L345.9 159.4L346.6 159.4L347.2 159.4L347.9 159.4L348.6 159.4L349.2 159.4L349.9 159.4L350.6 159.4L351.2 159.4L351.9 159.4L352.5 159.4L353.2 159.4L353.9 159.4L354.5 159.4L355.2 159.4L355.8 159.4L356.5 159.4L357.2 159.4L357.8 159.4L358.5 159.4L359.2 159.4L359.8 159.4L360.5 159.4L361.1 159.4L361.8 159.4L362.5 159.4L363.1 159.4L363.8 159.4L364.4 159.4L365.1 159.4L365.8 159.4L366.4 159.4L367.1 159.4L367.8 159.4L368.4 159.4L369.1 159.4L369.7 159.4L370.4 159.4L371.1 159.4L371.7 159.4L372.4 159.4L373.0 159.4L373.7 159.4L374.4 159.4L375.0 159.4L375.7 159.4L376.3 159.4L377.0 159.4L377.7 159.4L378.3 159.4L379.0 159.4L379.7 159.4L380.3 159.4L381.0 159.4L381.6 159.4L382.3 159.4L383.0 159.4L383.6 159.4L384.3 159.4L384.9 159.4L385.6 159.4L386.3 159.4L386.9 159.4L387.6 159.4L388.3 159.4L388.9 159.4L389.6 159.4L390.2 159.4L390.9 159.4L391.6 159.4L391.8 159.4L391.8 160.1L391.8 160.7L391.7 161.4L391.7 162.0L391.7 162.6L391.6 163.3L391.6 163.9L391.6 164.5L391.6 165.0L391.6 165.2L391.5 165.8L391.5 166.4L391.5 167.1L391.4 167.7L391.4 168.4L391.4 169.0L391.3 169.6L391.3 170.3L391.3 170.9L391.2 171.5L391.2 172.2L391.2 172.8L391.1 173.4L391.1 174.1L391.0 174.7L391.0 175.4L391.0 176.0L390.9 176.6L390.9 176.7L390.9 177.3L390.8 177.9L390.8 178.5L390.7 179.2L390.7 179.8L390.6 180.4L390.6 181.1L390.5 181.7L390.4 182.3L390.4 183.0L390.3 183.6L390.2 184.3L390.2 184.3L390.2 184.9L390.1 185.5L390.0 186.2L389.9 186.8L389.9 187.4L389.8 188.1L389.7 188.7L389.6 189.3L389.6 189.3L389.5 190.0L389.4 190.6L389.2 191.3L389.1 191.9L389.0 192.5L388.9 192.9L388.9 193.2L388.7 193.8L388.6 194.4L388.4 195.1L388.3 195.7L388.3 195.7L388.1 196.3L387.9 197.0L387.7 197.6L387.6 198.0L387.5 198.2L387.3 198.9L387.1 199.5L386.9 199.9L386.8 200.2L386.6 200.8L386.3 201.4L386.3 201.5L386.0 202.1L385.7 202.7L385.6 202.9L385.4 203.3L385.1 204.0L384.9 204.2L384.7 204.6L384.3 205.2L384.3 205.3L383.9 205.9L383.6 206.4L383.5 206.5L383.1 207.2L383.0 207.3L382.6 207.8L382.3 208.2L382.1 208.4L381.6 209.0L381.6 209.1L381.0 209.7L381.0 209.7L380.4 210.3L380.3 210.4L379.8 211.0L379.7 211.1L379.1 211.6L379.0 211.7L378.4 212.2L378.3 212.3L377.7 212.9L377.7 212.9L377.0 213.4L376.9 213.5L376.3 213.9L376.0 214.1L375.7 214.4L375.1 214.8L375.0 214.9L374.4 215.3L374.2 215.4L373.7 215.7L373.2 216.1L373.0 216.1L372.4 216.5L372.1 216.7L371.7 216.9L371.1 217.3L371.0 217.3L370.4 217.6L369.7 218.0L369.7 218.0L369.1 218.3L368.4 218.6L368.4 218.6L367.8 218.9L367.1 219.2L367.0 219.2L366.4 219.5L365.8 219.8L365.5 219.9L365.1 220.0L364.4 220.3L363.9 220.5L363.8 220.5L363.1 220.8L362.5 221.0L362.1 221.1L361.8 221.2L361.1 221.5L360.5 221.7L360.1 221.8L359.8 221.9L359.2 222.1L358.5 222.3L358.0 222.4L357.8 222.5L357.2 222.6L356.5 222.8L355.8 223.0L355.6 223.1L355.2 223.1L354.5 223.3L353.9 223.5L353.2 223.6L352.8 223.7L352.5 223.7L351.9 223.9L351.2 224.0L350.6 224.1L349.9 224.3L349.6 224.3L349.2 224.4L348.6 224.5L347.9 224.6L347.2 224.7L346.6 224.8L345.9 224.9L345.5 225.0L345.3 225.0L344.6 225.1L343.9 225.2L343.3 225.2L342.6 225.3L342.0 225.4L341.3 225.4L340.6 225.5L340.0 225.6L339.6 225.6L339.3 225.6L338.6 225.7L338.0 225.7L337.3 225.8L336.7 225.8L336.0 225.8L335.3 225.9L334.7 225.9L334.0 225.9L333.4 225.9L332.7 225.9L332.0 226.0L331.4 226.0L330.7 226.0L330.1 226.0L329.4 226.0L328.7 226.0L328.1 225.9L327.4 225.9L326.7 225.9L326.1 225.9L325.4 225.9L324.8 225.8L324.1 225.8L323.4 225.8L322.8 225.7L322.1 225.7L321.5 225.7L320.8 225.6L320.5 225.6L320.1 225.6L319.5 225.5L318.8 225.5L318.1 225.4L317.5 225.3L316.8 225.3L316.2 225.2L315.5 225.1L314.8 225.0L314.2 225.0L314.2 225.0L313.5 224.9L312.9 224.8L312.2 224.7L311.5 224.6L310.9 224.5L310.2 224.4L309.7 224.3L309.5 224.3L308.9 224.2L308.2 224.1L307.6 224.0L306.9 223.8L306.2 223.7L306.1 223.7L305.6 223.6L304.9 223.5L304.3 223.3L303.6 223.2L302.9 223.1L302.9 223.1L302.3 222.9L301.6 222.8L301.0 222.6L300.3 222.5L300.1 222.4L299.6 222.3L299.0 222.1L298.3 222.0L297.6 221.8L297.5 221.8L297.0 221.6L296.3 221.5L295.7 221.3L295.2 221.1L295.0 221.1L294.3 220.9L293.7 220.7L293.0 220.5L293.0 220.5L292.4 220.3L291.7 220.1L291.0 219.9L291.0 219.9L290.4 219.7L289.7 219.5L289.0 219.2L289.0 219.2L288.4 219.0L287.7 218.8L287.2 218.6L287.1 218.5L286.4 218.3L286.4 218.0L286.4 217.3L286.4 216.7L286.4 216.1L286.4 215.4L286.4 214.8L286.4 214.1L286.4 213.5L286.4 212.9L286.4 212.2L286.4 211.6L286.4 211.0L286.4 210.3L286.4 209.7L286.4 209.1L286.4 208.4L286.4 207.8L286.4 207.2L286.4 206.5L286.4 205.9L286.4 205.2L286.4 204.6L286.4 204.0L286.4 203.3L286.4 202.7L286.4 202.1L286.4 201.4L286.4 200.8L286.4 200.2L286.4 199.5L286.4 198.9L286.4 198.2L286.4 197.6L286.4 197.0L286.4 196.3L286.4 195.7L286.4 195.1L286.4 194.4L286.4 193.8L286.4 193.2L286.4 192.5L286.4 191.9L286.4 191.3L286.4 190.6L286.4 190.0L286.4 189.3L286.4 188.7L286.4 188.1L286.4 187.4L286.4 186.8L286.4 186.2L286.4 185.5L286.4 184.9L286.4 184.3L286.4 183.6L286.4 183.0L286.4 182.3L286.4 181.7L286.4 181.1L286.4 180.4L286.4 179.8L286.4 179.2L286.4 178.5L286.4 177.9L286.4 177.3L286.4 176.6L286.4 176.0L286.4 175.4L286.4 174.7L286.4 174.1L286.4 173.4L286.4 172.8L286.4 172.2L286.4 171.5L286.4 170.9L286.4 170.3L286.4 169.6L286.4 169.0L286.4 168.4L286.4 167.7L286.4 167.1L286.4 166.4L286.4 165.8L286.4 165.2L286.4 164.5L286.4 163.9L286.4 163.3L286.4 162.6L286.4 162.0L286.4 161.4L286.4 160.7L286.4 160.1L286.4 159.4Z" fill="#9db9dc"/>
<path d="M287.1 159.4L287.7 159.4L288.4 159.4L289.0 159.4L289.7 159.4L290.4 159.4L291.0 159.4L291.7 159.4L292.4 159.4L293.0 159.4L293.7 159.4L294.3 159.4L295.0 159.4L295.7 159.4L296.3 159.4L297.0 159.4L297.6 159.4L298.3 159.4L299.0 159.4L299.6 159.4L300.3 159.4L301.0 159.4L301.6 159.4L302.3 159.4L302.9 159.4L303.6 159.4L304.3 159.4L304.9 159.4L305.6 159.4L306.2 159.4L306.9 159.4L307.6 159.4L308.2 159.4L308.9 159.4L309.5 159.4L310.2 159.4L310.9 159.4L311.5 159.4L312.2 159.4L312.9 159.4L313.5 159.4L314.2 159.4L314.8 159.4L315.5 159.4L316.2 159.4L316.8 159.4L317.5 159.4L318.1 159.4L318.8 159.4L319.5 159.4L320.1 159.4L320.8 159.4L321.5 159.4L322.1 159.4L322.8 159.4L323.4 159.4L324.1 159.4L324.8 159.4L325.4 159.4L326.1 159.4L326.7 159.4L327.4 159.4L328.1 159.4L328.7 159.4L329.4 159.4L330.1 159.4L330.7 159.4L331.4 159.4L332.0 159.4L332.7 159.4L333.4 159.4L334.0 159.4L334.7 159.4L335.3 159.4L336.0 159.4L336.7 159.4L337.3 159.4L338.0 159.4L338.6 159.4L339.3 159.4L340.0 159.4L340.6 159.4L341.3 159.4L342.0 159.4L342.6 159.4L343.3 159.4L343.9 159.4L344.6 159.4L345.3 159.4L345.9 159.4L346.6 159.4L347.2 159.4L347.9 159.4L348.6 159.4L349.2 159.4L349.9 159.4L350.6 159.4L351.2 159.4L351.9 159.4L352.5 159.4L353.2 159.4L353.9 159.4L354.5 159.4L355.2 159.4L355.8 159.4L356.5 159.4L357.2 159.4L357.8 159.4L358.5 159.4L359.2 159.4L359.8 159.4L360.5 159.4L361.1 159.4L361.8 159.4L362.5 159.4L363.1 159.4L363.8 159.4L364.4 159.4L365.1 159.4L365.8 159.4L366.4 159.4L367.1 159.4L367.8 159.4L368.4 159.4L369.1 159.4L369.7 159.4L370.4 159.4L371.1 159.4L371.7 159.4L372.4 159.4L373.0 159.4L373.7 159.4L374.4 159.4L375.0 159.4L375.7 159.4L376.3 159.4L377.0 159.4L377.7 159.4L378.3 159.4L379.0 159.4L379.7 159.4L380.3 159.4L381.0 159.4L381.6 159.4L382.3 159.4L383.0 159.4L383.4 159.4L383.4 160.1L383.4 160.7L383.3 161.4L383.3 162.0L383.3 162.6L383.2 163.3L383.2 163.9L383.2 164.5L383.1 165.2L383.1 165.8L383.1 166.4L383.0 167.1L383.0 167.7L383.0 168.1L382.9 168.4L382.9 169.0L382.9 169.6L382.8 170.3L382.8 170.9L382.7 171.5L382.7 172.2L382.7 172.8L382.6 173.4L382.6 174.1L382.5 174.7L382.5 175.4L382.4 176.0L382.4 176.6L382.3 177.3L382.3 177.5L382.3 177.9L382.2 178.5L382.2 179.2L382.1 179.8L382.0 180.4L382.0 181.1L381.9 181.7L381.8 182.3L381.8 183.0L381.7 183.6L381.6 183.9L381.6 184.3L381.5 184.9L381.4 185.5L381.3 186.2L381.2 186.8L381.1 187.4L381.0 188.1L381.0 188.4L380.9 188.7L380.8 189.3L380.7 190.0L380.6 190.6L380.4 191.3L380.3 191.8L380.3 191.9L380.2 192.5L380.0 193.2L379.8 193.8L379.7 194.4L379.7 194.5L379.5 195.1L379.3 195.7L379.1 196.3L379.0 196.7L378.9 197.0L378.7 197.6L378.4 198.2L378.3 198.5L378.2 198.9L377.9 199.5L377.7 200.1L377.6 200.2L377.3 200.8L377.0 201.4L377.0 201.4L376.7 202.1L376.3 202.7L376.3 202.7L376.0 203.3L375.7 203.8L375.6 204.0L375.1 204.6L375.0 204.8L374.7 205.2L374.4 205.7L374.2 205.9L373.7 206.5L373.7 206.5L373.2 207.2L373.0 207.3L372.6 207.8L372.4 208.0L372.0 208.4L371.7 208.7L371.3 209.1L371.1 209.3L370.6 209.7L370.4 209.9L369.9 210.3L369.7 210.5L369.1 211.0L369.1 211.0L368.4 211.5L368.3 211.6L367.8 212.0L367.4 212.2L367.1 212.4L366.4 212.9L366.4 212.9L365.8 213.3L365.4 213.5L365.1 213.7L364.4 214.1L364.3 214.1L363.8 214.4L363.1 214.8L363.1 214.8L362.5 215.1L361.8 215.4L361.8 215.4L361.1 215.7L360.5 216.0L360.4 216.1L359.8 216.3L359.2 216.6L358.8 216.7L358.5 216.8L357.8 217.1L357.2 217.3L357.1 217.3L356.5 217.6L355.8 217.8L355.3 218.0L355.2 218.0L354.5 218.2L353.9 218.4L353.2 218.6L353.2 218.6L352.5 218.8L351.9 218.9L351.2 219.1L350.7 219.2L350.6 219.3L349.9 219.4L349.2 219.6L348.6 219.7L347.9 219.9L347.8 219.9L347.2 220.0L346.6 220.1L345.9 220.2L345.3 220.3L344.6 220.5L344.2 220.5L343.9 220.6L343.3 220.7L342.6 220.7L342.0 220.8L341.3 220.9L340.6 221.0L340.0 221.1L339.3 221.1L339.1 221.1L338.6 221.2L338.0 221.2L337.3 221.3L336.7 221.3L336.0 221.4L335.3 221.4L334.7 221.4L334.0 221.5L333.4 221.5L332.7 221.5L332.0 221.5L331.4 221.5L330.7 221.6L330.1 221.6L329.4 221.5L328.7 221.5L328.1 221.5L327.4 221.5L326.7 221.5L326.1 221.5L325.4 221.4L324.8 221.4L324.1 221.4L323.4 221.3L322.8 221.3L322.1 221.2L321.5 221.2L321.0 221.1L320.8 221.1L320.1 221.1L319.5 221.0L318.8 220.9L318.1 220.9L317.5 220.8L316.8 220.7L316.2 220.6L315.5 220.5L315.5 220.5L314.8 220.4L314.2 220.3L313.5 220.2L312.9 220.1L312.2 220.0L311.5 219.9L311.5 219.9L310.9 219.7L310.2 219.6L309.5 219.5L308.9 219.4L308.4 219.2L308.2 219.2L307.6 219.1L306.9 218.9L306.2 218.8L305.6 218.6L305.6 218.6L304.9 218.4L304.3 218.3L303.6 218.1L303.2 218.0L302.9 217.9L302.3 217.7L301.6 217.5L301.0 217.3L301.0 217.3L300.3 217.1L299.6 216.9L299.0 216.7L299.0 216.7L298.3 216.5L297.6 216.2L297.1 216.1L297.0 216.0L296.3 215.8L295.7 215.5L295.4 215.4L295.0 215.2L294.3 215.0L293.9 214.8L293.7 214.7L293.0 214.4L292.4 214.1L292.4 214.1L291.7 213.8L291.0 213.5L291.0 213.5L290.4 213.2L289.7 212.9L289.7 212.9L289.0 212.6L288.4 212.2L288.4 212.2L287.7 211.9L287.3 211.6L287.1 211.5L286.4 211.1L286.4 211.0L286.4 210.3L286.4 209.7L286.4 209.1L286.4 208.4L286.4 207.8L286.4 207.2L286.4 206.5L286.4 205.9L286.4 205.2L286.4 204.6L286.4 204.0L286.4 203.3L286.4 202.7L286.4 202.1L286.4 201.4L286.4 200.8L286.4 200.2L286.4 199.5L286.4 198.9L286.4 198.2L286.4 197.6L286.4 197.0L286.4 196.3L286.4 195.7L286.4 195.1L286.4 194.4L286.4 193.8L286.4 193.2L286.4 192.5L286.4 191.9L286.4 191.3L286.4 190.6L286.4 190.0L286.4 189.3L286.4 188.7L286.4 188.1L286.4 187.4L286.4 186.8L286.4 186.2L286.4 185.5L286.4 184.9L286.4 184.3L286.4 183.6L286.4 183.0L286.4 182.3L286.4 181.7L286.4 181.1L286.4 180.4L286.4 179.8L286.4 179.2L286.4 178.5L286.4 177.9L286.4 177.3L286.4 176.6L286.4 176.0L286.4 175.4L286.4 174.7L286.4 174.1L286.4 173.4L286.4 172.8L286.4 172.2L286.4 171.5L286.4 170.9L286.4 170.3L286.4 169.6L286.4 169.0L286.4 168.4L286.4 167.7L286.4 167.1L286.4 166.4L286.4 165.8L286.4 165.2L286.4 164.5L286.4 163.9L286.4 163.3L286.4 162.6L286.4 162.0L286.4 161.4L286.4 160.7L286.4 160.1L286.4 159.4Z" fill="#8aabd4"/>
<path d="M287.1 159.4L287.7 159.4L288.4 159.4L289.0 159.4L289.7 159.4L290.4 159.4L291.0 159.4L291.7 159.4L292.4 159.4L293.0 159.4L293.7 159.4L294.3 159.4L295.0 159.4L295.7 159.4L296.3 159.4L297.0 159.4L297.6 159.4L298.3 159.4L299.0 159.4L299.6 159.4L300.3 159.4L301.0 159.4L301.6 159.4L302.3 159.4L302.9 159.4L303.6 159.4L304.3 159.4L304.9 159.4L305.6 159.4L306.2 159.4L306.9 159.4L307.6 159.4L308.2 159.4L308.9 159.4L309.5 159.4L310.2 159.4L310.9 159.4L311.5 159.4L312.2 159.4L312.9 159.4L313.5 159.4L314.2 159.4L314.8 159.4L315.5 159.4L316.2 159.4L316.8 159.4L317.5 159.4L318.1 159.4L318.8 159.4L319.5 159.4L320.1 159.4L320.8 159.4L321.5 159.4L322.1 159.4L322.8 159.4L323.4 159.4L324.1 159.4L324.8 159.4L325.4 159.4L326.1 159.4L326.7 159.4L327.4 159.4L328.1 159.4L328.7 159.4L329.4 159.4L330.1 159.4L330.7 159.4L331.4 159.4L332.0 159.4L332.7 159.4L333.4 159.4L334.0 159.4L334.7 159.4L335.3 159.4L336.0 159.4L336.7 159.4L337.3 159.4L338.0 159.4L338.6 159.4L339.3 159.4L340.0 159.4L340.6 159.4L341.3 159.4L342.0 159.4L342.6 159.4L343.3 159.4L343.9 159.4L344.6 159.4L345.3 159.4L345.9 159.4L346.6 159.4L347.2 159.4L347.9 159.4L348.6 159.4L349.2 159.4L349.9 159.4L350.6 159.4L351.2 159.4L351.9 159.4L352.5 159.4L353.2 159.4L353.9 159.4L354.5 159.4L355.2 159.4L355.8 159.4L356.5 159.4L357.2 159.4L357.8 159.4L358.5 159.4L359.2 159.4L359.8 159.4L360.5 159.4L361.1 159.4L361.8 159.4L362.5 159.4L363.1 159.4L363.8 159.4L364.4 159.4L365.1 159.4L365.8 159.4L366.4 159.4L367.1 159.4L367.8 159.4L368.4 159.4L369.1 159.4L369.7 159.4L370.4 159.4L371.1 159.4L371.7 159.4L372.4 159.4L373.0 159.4L373.7 159.4L374.4 159.4L374.7 159.4L374.7 160.1L374.6 160.7L374.6 161.4L374.5 162.0L374.5 162.6L374.5 163.3L374.4 163.9L374.4 164.5L374.4 164.7L374.3 165.2L374.3 165.8L374.2 166.4L374.2 167.1L374.2 167.7L374.1 168.4L374.1 169.0L374.0 169.6L374.0 170.3L373.9 170.9L373.9 171.5L373.8 172.2L373.8 172.8L373.7 173.4L373.7 173.5L373.7 174.1L373.6 174.7L373.5 175.4L373.5 176.0L373.4 176.6L373.4 177.3L373.3 177.9L373.2 178.5L373.1 179.2L373.1 179.8L373.0 180.1L373.0 180.4L372.9 181.1L372.8 181.7L372.8 182.3L372.7 183.0L372.6 183.6L372.5 184.3L372.4 184.9L372.4 184.9L372.3 185.5L372.2 186.2L372.0 186.8L371.9 187.4L371.8 188.1L371.7 188.5L371.7 188.7L371.5 189.3L371.4 190.0L371.2 190.6L371.1 191.3L371.1 191.3L370.9 191.9L370.7 192.5L370.5 193.2L370.4 193.6L370.3 193.8L370.1 194.4L369.9 195.1L369.7 195.5L369.7 195.7L369.4 196.3L369.2 197.0L369.1 197.2L368.9 197.6L368.6 198.2L368.4 198.6L368.3 198.9L367.9 199.5L367.8 199.9L367.6 200.2L367.2 200.8L367.1 201.0L366.8 201.4L366.4 202.0L366.4 202.1L365.9 202.7L365.8 202.9L365.5 203.3L365.1 203.8L364.9 204.0L364.4 204.6L364.4 204.6L363.8 205.2L363.8 205.3L363.2 205.9L363.1 205.9L362.5 206.5L362.5 206.6L361.8 207.1L361.8 207.2L361.1 207.7L361.0 207.8L360.5 208.2L360.2 208.4L359.8 208.7L359.3 209.1L359.2 209.1L358.5 209.6L358.3 209.7L357.8 210.0L357.2 210.3L357.2 210.4L356.5 210.7L356.1 211.0L355.8 211.1L355.2 211.4L354.8 211.6L354.5 211.7L353.9 212.0L353.4 212.2L353.2 212.3L352.5 212.6L351.9 212.8L351.8 212.9L351.2 213.1L350.6 213.3L350.0 213.5L349.9 213.6L349.2 213.8L348.6 214.0L348.0 214.1L347.9 214.2L347.2 214.3L346.6 214.5L345.9 214.7L345.5 214.8L345.3 214.8L344.6 215.0L343.9 215.1L343.3 215.3L342.6 215.4L342.4 215.4L342.0 215.5L341.3 215.6L340.6 215.7L340.0 215.8L339.3 215.9L338.6 216.0L338.0 216.1L338.0 216.1L337.3 216.1L336.7 216.2L336.0 216.2L335.3 216.3L334.7 216.3L334.0 216.4L333.4 216.4L332.7 216.4L332.0 216.5L331.4 216.5L330.7 216.5L330.1 216.5L329.4 216.5L328.7 216.5L328.1 216.5L327.4 216.4L326.7 216.4L326.1 216.4L325.4 216.3L324.8 216.3L324.1 216.2L323.4 216.2L322.8 216.1L322.1 216.1L322.0 216.1L321.5 216.0L320.8 215.9L320.1 215.8L319.5 215.7L318.8 215.7L318.1 215.6L317.5 215.4L317.3 215.4L316.8 215.3L316.2 215.2L315.5 215.1L314.8 215.0L314.2 214.8L314.0 214.8L313.5 214.7L312.9 214.5L312.2 214.4L311.5 214.2L311.3 214.1L310.9 214.0L310.2 213.8L309.5 213.7L309.0 213.5L308.9 213.5L308.2 213.3L307.6 213.0L307.0 212.9L306.9 212.8L306.2 212.6L305.6 212.4L305.2 212.2L304.9 212.1L304.3 211.9L303.6 211.6L303.6 211.6L302.9 211.3L302.3 211.0L302.1 211.0L301.6 210.7L301.0 210.4L300.8 210.3L300.3 210.1L299.6 209.8L299.5 209.7L299.0 209.4L298.3 209.1L298.3 209.0L297.6 208.7L297.3 208.4L297.0 208.3L296.3 207.8L296.2 207.8L295.7 207.4L295.3 207.2L295.0 206.9L294.4 206.5L294.3 206.5L293.7 206.0L293.6 205.9L293.0 205.4L292.8 205.2L292.4 204.9L292.0 204.6L291.7 204.3L291.3 204.0L291.0 203.7L290.7 203.3L290.4 203.0L290.1 202.7L289.7 202.3L289.5 202.1L289.0 201.5L288.9 201.4L288.4 200.8L288.4 200.7L287.9 200.2L287.7 199.9L287.5 199.5L287.1 198.9L287.0 198.9L286.6 198.2L286.4 197.9L286.4 197.6L286.4 197.0L286.4 196.3L286.4 195.7L286.4 195.1L286.4 194.4L286.4 193.8L286.4 193.2L286.4 192.5L286.4 191.9L286.4 191.3L286.4 190.6L286.4 190.0L286.4 189.3L286.4 188.7L286.4 188.1L286.4 187.4L286.4 186.8L286.4 186.2L286.4 185.5L286.4 184.9L286.4 184.3L286.4 183.6L286.4 183.0L286.4 182.3L286.4 181.7L286.4 181.1L286.4 180.4L286.4 179.8L286.4 179.2L286.4 178.5L286.4 177.9L286.4 177.3L286.4 176.6L286.4 176.0L286.4 175.4L286.4 174.7L286.4 174.1L286.4 173.4L286.4 172.8L286.4 172.2L286.4 171.5L286.4 170.9L286.4 170.3L286.4 169.6L286.4 169.0L286.4 168.4L286.4 167.7L286.4 167.1L286.4 166.4L286.4 165.8L286.4 165.2L286.4 164.5L286.4 163.9L286.4 163.3L286.4 162.6L286.4 162.0L286.4 161.4L286.4 160.7L286.4 160.1L286.4 159.4Z" fill="#7aa0cc"/>
<path d="M291.0 159.4L291.7 159.4L292.4 159.4L293.0 159.4L293.7 159.4L294.3 159.4L295.0 159.4L295.7 159.4L296.3 159.4L297.0 159.4L297.6 159.4L298.3 159.4L299.0 159.4L299.6 159.4L300.3 159.4L301.0 159.4L301.6 159.4L302.3 159.4L302.9 159.4L303.6 159.4L304.3 159.4L304.9 159.4L305.6 159.4L306.2 159.4L306.9 159.4L307.6 159.4L308.2 159.4L308.9 159.4L309.5 159.4L310.2 159.4L310.9 159.4L311.5 159.4L312.2 159.4L312.9 159.4L313.5 159.4L314.2 159.4L314.8 159.4L315.5 159.4L316.2 159.4L316.8 159.4L317.5 159.4L318.1 159.4L318.8 159.4L319.5 159.4L320.1 159.4L320.8 159.4L321.5 159.4L322.1 159.4L322.8 159.4L323.4 159.4L324.1 159.4L324.8 159.4L325.4 159.4L326.1 159.4L326.7 159.4L327.4 159.4L328.1 159.4L328.7 159.4L329.4 159.4L330.1 159.4L330.7 159.4L331.4 159.4L332.0 159.4L332.7 159.4L333.4 159.4L334.0 159.4L334.7 159.4L335.3 159.4L336.0 159.4L336.7 159.4L337.3 159.4L338.0 159.4L338.6 159.4L339.3 159.4L340.0 159.4L340.6 159.4L341.3 159.4L342.0 159.4L342.6 159.4L343.3 159.4L343.9 159.4L344.6 159.4L345.3 159.4L345.9 159.4L346.6 159.4L347.2 159.4L347.9 159.4L348.6 159.4L349.2 159.4L349.9 159.4L350.6 159.4L351.2 159.4L351.9 159.4L352.5 159.4L353.2 159.4L353.9 159.4L354.5 159.4L355.2 159.4L355.8 159.4L356.5 159.4L357.2 159.4L357.8 159.4L358.5 159.4L359.2 159.4L359.8 159.4L360.5 159.4L361.1 159.4L361.8 159.4L362.5 159.4L363.1 159.4L363.8 159.4L364.4 159.4L365.0 159.4L365.0 160.1L364.9 160.7L364.9 161.4L364.8 162.0L364.7 162.6L364.7 163.3L364.6 163.9L364.6 164.5L364.5 165.2L364.5 165.8L364.4 166.2L364.4 166.4L364.4 167.1L364.3 167.7L364.2 168.4L364.2 169.0L364.1 169.6L364.1 170.3L364.0 170.9L363.9 171.5L363.9 172.2L363.8 172.8L363.8 172.8L363.7 173.4L363.6 174.1L363.6 174.7L363.5 175.4L363.4 176.0L363.3 176.6L363.2 177.3L363.2 177.9L363.1 178.1L363.1 178.5L363.0 179.2L362.9 179.8L362.8 180.4L362.7 181.1L362.6 181.7L362.5 182.3L362.4 182.3L362.3 183.0L362.2 183.6L362.1 184.3L361.9 184.9L361.8 185.5L361.8 185.6L361.7 186.2L361.5 186.8L361.3 187.4L361.2 188.1L361.1 188.2L361.0 188.7L360.8 189.3L360.6 190.0L360.5 190.4L360.4 190.6L360.2 191.3L360.0 191.9L359.8 192.3L359.7 192.5L359.5 193.2L359.2 193.8L359.2 193.9L358.9 194.4L358.6 195.1L358.5 195.3L358.3 195.7L357.9 196.3L357.8 196.5L357.5 197.0L357.2 197.6L357.1 197.6L356.7 198.2L356.5 198.5L356.3 198.9L355.8 199.4L355.8 199.5L355.2 200.2L355.2 200.2L354.7 200.8L354.5 201.0L354.1 201.4L353.9 201.6L353.4 202.1L353.2 202.3L352.7 202.7L352.5 202.8L351.9 203.3L351.9 203.4L351.2 203.9L351.1 204.0L350.6 204.3L350.2 204.6L349.9 204.8L349.2 205.2L349.1 205.2L348.6 205.6L348.0 205.9L347.9 205.9L347.2 206.2L346.7 206.5L346.6 206.6L345.9 206.8L345.3 207.1L345.2 207.2L344.6 207.4L343.9 207.6L343.5 207.8L343.3 207.8L342.6 208.1L342.0 208.3L341.3 208.4L341.3 208.4L340.6 208.6L340.0 208.8L339.3 208.9L338.6 209.0L338.6 209.1L338.0 209.2L337.3 209.3L336.7 209.4L336.0 209.5L335.3 209.5L334.7 209.6L334.0 209.7L333.8 209.7L333.4 209.7L332.7 209.8L332.0 209.8L331.4 209.8L330.7 209.8L330.1 209.8L329.4 209.8L328.7 209.8L328.1 209.8L327.4 209.8L326.7 209.7L326.2 209.7L326.1 209.7L325.4 209.6L324.8 209.6L324.1 209.5L323.4 209.4L322.8 209.3L322.1 209.2L321.5 209.1L321.3 209.1L320.8 209.0L320.1 208.8L319.5 208.7L318.8 208.5L318.4 208.4L318.1 208.4L317.5 208.2L316.8 208.0L316.2 207.8L316.1 207.8L315.5 207.6L314.8 207.4L314.2 207.2L314.2 207.1L313.5 206.9L312.9 206.6L312.6 206.5L312.2 206.3L311.5 206.0L311.2 205.9L310.9 205.7L310.2 205.4L309.9 205.2L309.5 205.0L308.9 204.7L308.8 204.6L308.2 204.3L307.7 204.0L307.6 203.9L306.9 203.4L306.7 203.3L306.2 203.0L305.9 202.7L305.6 202.5L305.0 202.1L304.9 202.0L304.3 201.4L304.3 201.4L303.6 200.8L303.6 200.8L302.9 200.2L302.9 200.2L302.3 199.5L302.3 199.5L301.7 198.9L301.6 198.8L301.2 198.2L301.0 198.0L300.7 197.6L300.3 197.1L300.2 197.0L299.8 196.3L299.6 196.1L299.3 195.7L299.0 195.1L298.9 195.1L298.6 194.4L298.3 194.0L298.2 193.8L297.9 193.2L297.6 192.7L297.6 192.5L297.3 191.9L297.0 191.3L297.0 191.3L296.7 190.6L296.4 190.0L296.3 189.7L296.2 189.3L296.0 188.7L295.7 188.1L295.7 187.9L295.5 187.4L295.3 186.8L295.1 186.2L295.0 185.8L294.9 185.5L294.7 184.9L294.6 184.3L294.4 183.6L294.3 183.3L294.2 183.0L294.1 182.3L293.9 181.7L293.8 181.1L293.7 180.5L293.7 180.4L293.5 179.8L293.4 179.2L293.3 178.5L293.2 177.9L293.0 177.3L293.0 177.1L292.9 176.6L292.8 176.0L292.7 175.4L292.6 174.7L292.5 174.1L292.4 173.4L292.4 173.2L292.3 172.8L292.2 172.2L292.1 171.5L292.0 170.9L291.9 170.3L291.8 169.6L291.7 169.0L291.7 168.7L291.6 168.4L291.6 167.7L291.5 167.1L291.4 166.4L291.3 165.8L291.2 165.2L291.2 164.5L291.1 163.9L291.0 163.5L291.0 163.3L290.9 162.6L290.8 162.0L290.8 161.4L290.7 160.7L290.6 160.1L290.5 159.4Z" fill="#6892c6"/>
<path d="M305.6 159.4L306.2 159.4L306.9 159.4L307.6 159.4L308.2 159.4L308.9 159.4L309.5 159.4L310.2 159.4L310.9 159.4L311.5 159.4L312.2 159.4L312.9 159.4L313.5 159.4L314.2 159.4L314.8 159.4L315.5 159.4L316.2 159.4L316.8 159.4L317.5 159.4L318.1 159.4L318.8 159.4L319.5 159.4L320.1 159.4L320.8 159.4L321.5 159.4L322.1 159.4L322.8 159.4L323.4 159.4L324.1 159.4L324.8 159.4L325.4 159.4L326.1 159.4L326.7 159.4L327.4 159.4L328.1 159.4L328.7 159.4L329.4 159.4L330.1 159.4L330.7 159.4L331.4 159.4L332.0 159.4L332.7 159.4L333.4 159.4L334.0 159.4L334.7 159.4L335.3 159.4L336.0 159.4L336.7 159.4L337.3 159.4L338.0 159.4L338.6 159.4L339.3 159.4L340.0 159.4L340.6 159.4L341.3 159.4L342.0 159.4L342.6 159.4L343.3 159.4L343.9 159.4L344.6 159.4L345.3 159.4L345.9 159.4L346.6 159.4L347.2 159.4L347.9 159.4L348.6 159.4L349.2 159.4L349.9 159.4L350.6 159.4L351.2 159.4L351.9 159.4L352.5 159.4L352.7 159.4L352.7 160.1L352.6 160.7L352.5 161.1L352.5 161.4L352.4 162.0L352.3 162.6L352.3 163.3L352.2 163.9L352.1 164.5L352.0 165.2L351.9 165.8L351.9 166.0L351.8 166.4L351.7 167.1L351.6 167.7L351.5 168.4L351.4 169.0L351.3 169.6L351.2 170.2L351.2 170.3L351.1 170.9L351.0 171.5L350.9 172.2L350.8 172.8L350.6 173.4L350.6 173.9L350.5 174.1L350.4 174.7L350.3 175.4L350.1 176.0L350.0 176.6L349.9 177.0L349.8 177.3L349.7 177.9L349.5 178.5L349.4 179.2L349.2 179.7L349.2 179.8L349.0 180.4L348.8 181.1L348.7 181.7L348.6 182.0L348.5 182.3L348.2 183.0L348.0 183.6L347.9 183.9L347.8 184.3L347.5 184.9L347.3 185.5L347.2 185.6L347.0 186.2L346.7 186.8L346.6 187.0L346.4 187.4L346.1 188.1L345.9 188.3L345.7 188.7L345.3 189.3L345.3 189.4L344.9 190.0L344.6 190.4L344.5 190.6L344.0 191.3L343.9 191.3L343.5 191.9L343.3 192.1L342.9 192.5L342.6 192.8L342.3 193.2L342.0 193.5L341.6 193.8L341.3 194.1L340.8 194.4L340.6 194.6L340.0 195.1L340.0 195.1L339.3 195.5L338.9 195.7L338.6 195.9L338.0 196.2L337.7 196.3L337.3 196.5L336.7 196.8L336.2 197.0L336.0 197.0L335.3 197.2L334.7 197.4L334.0 197.6L333.9 197.6L333.4 197.7L332.7 197.8L332.0 197.9L331.4 198.0L330.7 198.0L330.1 198.0L329.4 198.0L328.7 198.0L328.1 197.9L327.4 197.9L326.7 197.8L326.1 197.6L326.0 197.6L325.4 197.5L324.8 197.3L324.1 197.1L323.7 197.0L323.4 196.9L322.8 196.6L322.1 196.4L322.0 196.3L321.5 196.1L320.8 195.7L320.8 195.7L320.1 195.3L319.7 195.1L319.5 194.9L318.8 194.5L318.7 194.4L318.1 194.0L317.9 193.8L317.5 193.4L317.2 193.2L316.8 192.8L316.5 192.5L316.2 192.2L315.9 191.9L315.5 191.5L315.3 191.3L314.8 190.7L314.8 190.6L314.3 190.0L314.2 189.8L313.9 189.3L313.5 188.8L313.4 188.7L313.1 188.1L312.9 187.7L312.7 187.4L312.3 186.8L312.2 186.5L312.0 186.2L311.7 185.5L311.5 185.2L311.4 184.9L311.1 184.3L310.9 183.7L310.8 183.6L310.6 183.0L310.4 182.3L310.2 182.0L310.1 181.7L309.9 181.1L309.7 180.4L309.5 180.0L309.5 179.8L309.3 179.2L309.1 178.5L308.9 177.9L308.9 177.8L308.7 177.3L308.6 176.6L308.4 176.0L308.2 175.4L308.2 175.3L308.1 174.7L307.9 174.1L307.8 173.4L307.6 172.8L307.6 172.4L307.5 172.2L307.4 171.5L307.2 170.9L307.1 170.3L307.0 169.6L306.9 169.2L306.9 169.0L306.7 168.4L306.6 167.7L306.5 167.1L306.4 166.4L306.3 165.8L306.2 165.6L306.2 165.2L306.1 164.5L305.9 163.9L305.8 163.3L305.7 162.6L305.6 162.0L305.6 161.7L305.5 161.4L305.4 160.7L305.3 160.1L305.2 159.4Z" fill="#5683bc"/>
<rect x="286.40" y="159.45" width="171.30" height="113.85" fill="none" stroke="#231f20" stroke-width="1"/>
<line x1="283.40" y1="175.90" x2="286.40" y2="175.90" stroke="#231f20" stroke-width="0.90"/>
<text x="281.40" y="178.75" font-size="8.20" text-anchor="end" textLength="12.0" lengthAdjust="spacingAndGlyphs">500</text>
<line x1="283.40" y1="201.60" x2="286.40" y2="201.60" stroke="#231f20" stroke-width="0.90"/>
<text x="281.40" y="204.45" font-size="8.20" text-anchor="end" textLength="12.0" lengthAdjust="spacingAndGlyphs">400</text>
<line x1="283.40" y1="227.30" x2="286.40" y2="227.30" stroke="#231f20" stroke-width="0.90"/>
<text x="281.40" y="230.15" font-size="8.20" text-anchor="end" textLength="12.0" lengthAdjust="spacingAndGlyphs">300</text>
<line x1="283.40" y1="253.00" x2="286.40" y2="253.00" stroke="#231f20" stroke-width="0.90"/>
<text x="281.40" y="255.85" font-size="8.20" text-anchor="end" textLength="12.0" lengthAdjust="spacingAndGlyphs">200</text>
<line x1="288.10" y1="273.30" x2="288.10" y2="276.30" stroke="#231f20" stroke-width="0.90"/>
<line x1="320.98" y1="273.30" x2="320.98" y2="276.30" stroke="#231f20" stroke-width="0.90"/>
<text x="320.98" y="287.20" font-size="8.20" text-anchor="middle" textLength="8.0" lengthAdjust="spacingAndGlyphs">20</text>
<line x1="353.86" y1="273.30" x2="353.86" y2="276.30" stroke="#231f20" stroke-width="0.90"/>
<text x="353.86" y="287.20" font-size="8.20" text-anchor="middle" textLength="8.0" lengthAdjust="spacingAndGlyphs">30</text>
<line x1="386.74" y1="273.30" x2="386.74" y2="276.30" stroke="#231f20" stroke-width="0.90"/>
<text x="386.74" y="287.20" font-size="8.20" text-anchor="middle" textLength="8.0" lengthAdjust="spacingAndGlyphs">40</text>
<line x1="419.62" y1="273.30" x2="419.62" y2="276.30" stroke="#231f20" stroke-width="0.90"/>
<text x="419.62" y="287.20" font-size="8.20" text-anchor="middle" textLength="8.0" lengthAdjust="spacingAndGlyphs">50</text>
<line x1="452.50" y1="273.30" x2="452.50" y2="276.30" stroke="#231f20" stroke-width="0.90"/>
<text x="452.50" y="287.20" font-size="8.20" text-anchor="middle" textLength="8.0" lengthAdjust="spacingAndGlyphs">60</text>
<text x="309.10" y="299.00" font-size="9.20" textLength="126.0" lengthAdjust="spacingAndGlyphs">Peak IL-7 concentration (pg/mL)</text>
<text transform="translate(261.60 216.75) rotate(-90)" x="0" y="0" font-size="9.20" text-anchor="middle" textLength="122.9" lengthAdjust="spacingAndGlyphs">Pre-LD LDH concentration (U/L)</text>
<text x="254.50" y="154.80" font-size="10.00">E</text>
<rect x="466.30" y="159.30" width="6.60" height="7.20" fill="#4a6fa3"/>
<rect x="466.30" y="166.45" width="6.60" height="7.20" fill="#5683bc"/>
<rect x="466.30" y="173.60" width="6.60" height="7.20" fill="#6892c6"/>
<rect x="466.30" y="180.75" width="6.60" height="7.20" fill="#7aa0cc"/>
<rect x="466.30" y="187.90" width="6.60" height="7.20" fill="#8aabd4"/>
<rect x="466.30" y="195.05" width="6.60" height="7.20" fill="#9db9dc"/>
<rect x="466.30" y="202.20" width="6.60" height="7.20" fill="#b1c9e4"/>
<rect x="466.30" y="209.35" width="6.60" height="7.20" fill="#c4d4ea"/>
<rect x="466.30" y="216.50" width="6.60" height="7.20" fill="#dbe3ef"/>
<rect x="466.30" y="223.65" width="6.60" height="7.20" fill="#efeff4"/>
<rect x="466.30" y="230.80" width="6.60" height="7.20" fill="#fcfbfc"/>
<rect x="466.30" y="237.95" width="6.60" height="7.20" fill="#f9f3f5"/>
<rect x="466.30" y="245.10" width="6.60" height="7.20" fill="#efd0d6"/>
<rect x="466.30" y="252.25" width="6.60" height="7.20" fill="#e3aab3"/>
<rect x="466.30" y="259.40" width="6.60" height="7.20" fill="#d78b96"/>
<rect x="466.30" y="266.55" width="6.60" height="7.20" fill="#c8576a"/>
<rect x="466.30" y="159.30" width="6.60" height="114.40" fill="none" stroke="#231f20" stroke-width="1"/>
<line x1="472.90" y1="269.30" x2="475.60" y2="269.30" stroke="#231f20" stroke-width="0.90"/>
<text x="478.80" y="272.15" font-size="8.20" textLength="10.0" lengthAdjust="spacingAndGlyphs">0.0</text>
<line x1="472.90" y1="253.70" x2="475.60" y2="253.70" stroke="#231f20" stroke-width="0.90"/>
<text x="478.80" y="256.55" font-size="8.20" textLength="10.0" lengthAdjust="spacingAndGlyphs">0.5</text>
<line x1="472.90" y1="238.80" x2="475.60" y2="238.80" stroke="#231f20" stroke-width="0.90"/>
<text x="478.80" y="241.65" font-size="8.20" textLength="10.0" lengthAdjust="spacingAndGlyphs">1.0</text>
<line x1="472.90" y1="223.10" x2="475.60" y2="223.10" stroke="#231f20" stroke-width="0.90"/>
<text x="478.80" y="225.95" font-size="8.20" textLength="10.0" lengthAdjust="spacingAndGlyphs">1.5</text>
<line x1="472.90" y1="207.90" x2="475.60" y2="207.90" stroke="#231f20" stroke-width="0.90"/>
<text x="478.80" y="210.75" font-size="8.20" textLength="10.0" lengthAdjust="spacingAndGlyphs">2.0</text>
<line x1="472.90" y1="193.20" x2="475.60" y2="193.20" stroke="#231f20" stroke-width="0.90"/>
<text x="478.80" y="196.05" font-size="8.20" textLength="10.0" lengthAdjust="spacingAndGlyphs">2.5</text>
<line x1="472.90" y1="177.50" x2="475.60" y2="177.50" stroke="#231f20" stroke-width="0.90"/>
<text x="478.80" y="180.35" font-size="8.20" textLength="10.0" lengthAdjust="spacingAndGlyphs">3.0</text>
<line x1="472.90" y1="162.20" x2="475.60" y2="162.20" stroke="#231f20" stroke-width="0.90"/>
<text x="478.80" y="165.05" font-size="8.20" textLength="10.0" lengthAdjust="spacingAndGlyphs">3.5</text>
<rect x="0" y="0" width="520" height="1.3" fill="#404040"/>
<rect x="0" y="307.6" width="520" height="1.4" fill="#4a4a4a"/>
<rect x="0" y="0" width="1.2" height="309" fill="#111"/>
<rect x="518.8" y="0" width="1.2" height="309" fill="#111"/>
</svg>
</body></html>
